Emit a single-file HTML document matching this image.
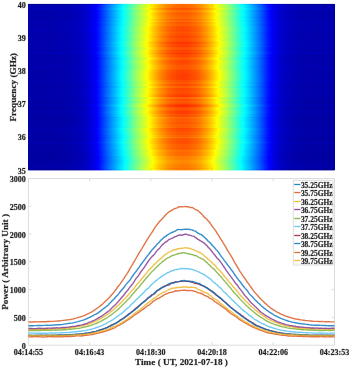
<!DOCTYPE html>
<html><head><meta charset="utf-8"><style>
html,body{margin:0;padding:0;background:#fff;width:350px;height:368px;overflow:hidden}
svg{display:block;will-change:transform}
text{font-family:"Liberation Serif",serif;font-weight:bold;fill:#1e1e1e;stroke:rgba(30,30,30,0.35);stroke-width:0.6px;paint-order:stroke fill}
.t{font-size:8.05px}
.lg{font-size:7.45px}
.lab{font-size:9.2px}
.ax{stroke:#dddddd;stroke-width:1;fill:none}
</style></head><body>
<svg width="350" height="368" viewBox="0 0 350 368">
<defs>
<linearGradient id="g0" gradientUnits="userSpaceOnUse" x1="28.4" x2="334.6" y1="0" y2="0"><stop offset="0.0000" stop-color="#000096"/><stop offset="0.0803" stop-color="#000096"/><stop offset="0.1391" stop-color="#00009c"/><stop offset="0.1750" stop-color="#0000aa"/><stop offset="0.2012" stop-color="#0000c4"/><stop offset="0.2273" stop-color="#0000f4"/><stop offset="0.2306" stop-color="#0000ff"/><stop offset="0.2534" stop-color="#0049ff"/><stop offset="0.2763" stop-color="#008fff"/><stop offset="0.2992" stop-color="#00d1ff"/><stop offset="0.3145" stop-color="#00ffff"/><stop offset="0.3187" stop-color="#0dfff2"/><stop offset="0.3416" stop-color="#56ffa9"/><stop offset="0.3612" stop-color="#92ff6d"/><stop offset="0.3873" stop-color="#d8ff27"/><stop offset="0.4005" stop-color="#ffff00"/><stop offset="0.4069" stop-color="#ffec00"/><stop offset="0.4265" stop-color="#ffbc00"/><stop offset="0.4396" stop-color="#ffa300"/><stop offset="0.4526" stop-color="#ff8d00"/><stop offset="0.4657" stop-color="#ff7e00"/><stop offset="0.4853" stop-color="#ff6f00"/><stop offset="0.5049" stop-color="#ff6a00"/><stop offset="0.5245" stop-color="#ff6f00"/><stop offset="0.5441" stop-color="#ff7e00"/><stop offset="0.5572" stop-color="#ff8d00"/><stop offset="0.5702" stop-color="#ffa300"/><stop offset="0.5833" stop-color="#ffbc00"/><stop offset="0.6029" stop-color="#ffec00"/><stop offset="0.6093" stop-color="#ffff00"/><stop offset="0.6225" stop-color="#d8ff27"/><stop offset="0.6486" stop-color="#92ff6d"/><stop offset="0.6682" stop-color="#56ffa9"/><stop offset="0.6911" stop-color="#0efff1"/><stop offset="0.6957" stop-color="#00ffff"/><stop offset="0.7106" stop-color="#00d3ff"/><stop offset="0.7335" stop-color="#0094ff"/><stop offset="0.7564" stop-color="#0051ff"/><stop offset="0.7824" stop-color="#0000ff"/><stop offset="0.7825" stop-color="#0000ff"/><stop offset="0.8086" stop-color="#0000c9"/><stop offset="0.8347" stop-color="#0000ad"/><stop offset="0.8707" stop-color="#00009d"/><stop offset="0.9295" stop-color="#000097"/><stop offset="1.0000" stop-color="#000096"/></linearGradient>
<linearGradient id="g1" gradientUnits="userSpaceOnUse" x1="28.4" x2="334.6" y1="0" y2="0"><stop offset="0.0000" stop-color="#0000b0"/><stop offset="0.0803" stop-color="#0000b0"/><stop offset="0.1391" stop-color="#0000b6"/><stop offset="0.1750" stop-color="#0000c4"/><stop offset="0.2012" stop-color="#0000dd"/><stop offset="0.2201" stop-color="#0000ff"/><stop offset="0.2273" stop-color="#000dff"/><stop offset="0.2534" stop-color="#005eff"/><stop offset="0.2763" stop-color="#00a2ff"/><stop offset="0.2992" stop-color="#00e2ff"/><stop offset="0.3090" stop-color="#00ffff"/><stop offset="0.3187" stop-color="#1dffe2"/><stop offset="0.3416" stop-color="#64ff9b"/><stop offset="0.3612" stop-color="#9fff60"/><stop offset="0.3873" stop-color="#e3ff1c"/><stop offset="0.3972" stop-color="#ffff00"/><stop offset="0.4069" stop-color="#ffe300"/><stop offset="0.4265" stop-color="#ffb500"/><stop offset="0.4396" stop-color="#ff9c00"/><stop offset="0.4526" stop-color="#ff8700"/><stop offset="0.4657" stop-color="#ff7800"/><stop offset="0.4853" stop-color="#ff6a00"/><stop offset="0.5049" stop-color="#ff6500"/><stop offset="0.5245" stop-color="#ff6a00"/><stop offset="0.5441" stop-color="#ff7800"/><stop offset="0.5572" stop-color="#ff8700"/><stop offset="0.5702" stop-color="#ff9c00"/><stop offset="0.5833" stop-color="#ffb500"/><stop offset="0.6029" stop-color="#ffe300"/><stop offset="0.6126" stop-color="#ffff00"/><stop offset="0.6225" stop-color="#e3ff1c"/><stop offset="0.6486" stop-color="#9fff60"/><stop offset="0.6682" stop-color="#64ff9b"/><stop offset="0.6911" stop-color="#1effe1"/><stop offset="0.7014" stop-color="#00ffff"/><stop offset="0.7106" stop-color="#00e5ff"/><stop offset="0.7335" stop-color="#00a7ff"/><stop offset="0.7564" stop-color="#0066ff"/><stop offset="0.7825" stop-color="#0017ff"/><stop offset="0.7940" stop-color="#0000ff"/><stop offset="0.8086" stop-color="#0000e2"/><stop offset="0.8347" stop-color="#0000c7"/><stop offset="0.8707" stop-color="#0000b7"/><stop offset="0.9295" stop-color="#0000b1"/><stop offset="1.0000" stop-color="#0000b0"/></linearGradient>
<linearGradient id="g2" gradientUnits="userSpaceOnUse" x1="28.4" x2="334.6" y1="0" y2="0"><stop offset="0.0000" stop-color="#0000b4"/><stop offset="0.0803" stop-color="#0000b5"/><stop offset="0.1391" stop-color="#0000ba"/><stop offset="0.1750" stop-color="#0000c8"/><stop offset="0.2012" stop-color="#0000e2"/><stop offset="0.2170" stop-color="#0000ff"/><stop offset="0.2273" stop-color="#0013ff"/><stop offset="0.2534" stop-color="#0066ff"/><stop offset="0.2763" stop-color="#00abff"/><stop offset="0.2992" stop-color="#00edff"/><stop offset="0.3053" stop-color="#00ffff"/><stop offset="0.3187" stop-color="#28ffd7"/><stop offset="0.3416" stop-color="#71ff8e"/><stop offset="0.3612" stop-color="#adff52"/><stop offset="0.3873" stop-color="#f2ff0d"/><stop offset="0.3916" stop-color="#ffff00"/><stop offset="0.4069" stop-color="#ffd200"/><stop offset="0.4265" stop-color="#ffa300"/><stop offset="0.4396" stop-color="#ff8a00"/><stop offset="0.4526" stop-color="#ff7400"/><stop offset="0.4657" stop-color="#ff6500"/><stop offset="0.4853" stop-color="#ff5600"/><stop offset="0.5049" stop-color="#ff5100"/><stop offset="0.5245" stop-color="#ff5600"/><stop offset="0.5441" stop-color="#ff6500"/><stop offset="0.5572" stop-color="#ff7400"/><stop offset="0.5702" stop-color="#ff8a00"/><stop offset="0.5833" stop-color="#ffa300"/><stop offset="0.6029" stop-color="#ffd200"/><stop offset="0.6182" stop-color="#ffff00"/><stop offset="0.6225" stop-color="#f2ff0d"/><stop offset="0.6486" stop-color="#adff52"/><stop offset="0.6682" stop-color="#71ff8e"/><stop offset="0.6911" stop-color="#29ffd6"/><stop offset="0.7052" stop-color="#00ffff"/><stop offset="0.7106" stop-color="#00efff"/><stop offset="0.7335" stop-color="#00b0ff"/><stop offset="0.7564" stop-color="#006eff"/><stop offset="0.7825" stop-color="#001dff"/><stop offset="0.7968" stop-color="#0000ff"/><stop offset="0.8086" stop-color="#0000e7"/><stop offset="0.8347" stop-color="#0000cb"/><stop offset="0.8707" stop-color="#0000bb"/><stop offset="0.9295" stop-color="#0000b5"/><stop offset="1.0000" stop-color="#0000b4"/></linearGradient>
<linearGradient id="g3" gradientUnits="userSpaceOnUse" x1="28.4" x2="334.6" y1="0" y2="0"><stop offset="0.0000" stop-color="#0000ab"/><stop offset="0.0803" stop-color="#0000ab"/><stop offset="0.1391" stop-color="#0000b1"/><stop offset="0.1750" stop-color="#0000bf"/><stop offset="0.2012" stop-color="#0000d8"/><stop offset="0.2229" stop-color="#0000ff"/><stop offset="0.2273" stop-color="#0008ff"/><stop offset="0.2534" stop-color="#0059ff"/><stop offset="0.2763" stop-color="#009dff"/><stop offset="0.2992" stop-color="#00ddff"/><stop offset="0.3106" stop-color="#00ffff"/><stop offset="0.3187" stop-color="#18ffe7"/><stop offset="0.3416" stop-color="#60ff9f"/><stop offset="0.3612" stop-color="#9aff65"/><stop offset="0.3873" stop-color="#deff21"/><stop offset="0.3988" stop-color="#ffff00"/><stop offset="0.4069" stop-color="#ffe800"/><stop offset="0.4265" stop-color="#ffb900"/><stop offset="0.4396" stop-color="#ffa100"/><stop offset="0.4526" stop-color="#ff8b00"/><stop offset="0.4657" stop-color="#ff7d00"/><stop offset="0.4853" stop-color="#ff6e00"/><stop offset="0.5049" stop-color="#ff6900"/><stop offset="0.5245" stop-color="#ff6e00"/><stop offset="0.5441" stop-color="#ff7d00"/><stop offset="0.5572" stop-color="#ff8b00"/><stop offset="0.5702" stop-color="#ffa100"/><stop offset="0.5833" stop-color="#ffb900"/><stop offset="0.6029" stop-color="#ffe800"/><stop offset="0.6110" stop-color="#ffff00"/><stop offset="0.6225" stop-color="#deff21"/><stop offset="0.6486" stop-color="#9aff65"/><stop offset="0.6682" stop-color="#60ff9f"/><stop offset="0.6911" stop-color="#19ffe6"/><stop offset="0.6998" stop-color="#00ffff"/><stop offset="0.7106" stop-color="#00e0ff"/><stop offset="0.7335" stop-color="#00a2ff"/><stop offset="0.7564" stop-color="#0061ff"/><stop offset="0.7825" stop-color="#0012ff"/><stop offset="0.7915" stop-color="#0000ff"/><stop offset="0.8086" stop-color="#0000dd"/><stop offset="0.8347" stop-color="#0000c1"/><stop offset="0.8707" stop-color="#0000b2"/><stop offset="0.9295" stop-color="#0000ac"/><stop offset="1.0000" stop-color="#0000ab"/></linearGradient>
<linearGradient id="g4" gradientUnits="userSpaceOnUse" x1="28.4" x2="334.6" y1="0" y2="0"><stop offset="0.0000" stop-color="#0000af"/><stop offset="0.0803" stop-color="#0000b0"/><stop offset="0.1391" stop-color="#0000b5"/><stop offset="0.1750" stop-color="#0000c3"/><stop offset="0.2012" stop-color="#0000dc"/><stop offset="0.2202" stop-color="#0000ff"/><stop offset="0.2273" stop-color="#000dff"/><stop offset="0.2534" stop-color="#005eff"/><stop offset="0.2763" stop-color="#00a3ff"/><stop offset="0.2992" stop-color="#00e3ff"/><stop offset="0.3085" stop-color="#00ffff"/><stop offset="0.3187" stop-color="#1effe1"/><stop offset="0.3416" stop-color="#66ff99"/><stop offset="0.3612" stop-color="#a1ff5e"/><stop offset="0.3873" stop-color="#e5ff1a"/><stop offset="0.3962" stop-color="#ffff00"/><stop offset="0.4069" stop-color="#ffe000"/><stop offset="0.4265" stop-color="#ffb100"/><stop offset="0.4396" stop-color="#ff9800"/><stop offset="0.4526" stop-color="#ff8300"/><stop offset="0.4657" stop-color="#ff7400"/><stop offset="0.4853" stop-color="#ff6600"/><stop offset="0.5049" stop-color="#ff6100"/><stop offset="0.5245" stop-color="#ff6600"/><stop offset="0.5441" stop-color="#ff7400"/><stop offset="0.5572" stop-color="#ff8300"/><stop offset="0.5702" stop-color="#ff9800"/><stop offset="0.5833" stop-color="#ffb100"/><stop offset="0.6029" stop-color="#ffe000"/><stop offset="0.6136" stop-color="#ffff00"/><stop offset="0.6225" stop-color="#e5ff1a"/><stop offset="0.6486" stop-color="#a1ff5e"/><stop offset="0.6682" stop-color="#66ff99"/><stop offset="0.6911" stop-color="#1fffe0"/><stop offset="0.7019" stop-color="#00ffff"/><stop offset="0.7106" stop-color="#00e6ff"/><stop offset="0.7335" stop-color="#00a8ff"/><stop offset="0.7564" stop-color="#0066ff"/><stop offset="0.7825" stop-color="#0017ff"/><stop offset="0.7939" stop-color="#0000ff"/><stop offset="0.8086" stop-color="#0000e1"/><stop offset="0.8347" stop-color="#0000c6"/><stop offset="0.8707" stop-color="#0000b6"/><stop offset="0.9295" stop-color="#0000b0"/><stop offset="1.0000" stop-color="#0000af"/></linearGradient>
<linearGradient id="g5" gradientUnits="userSpaceOnUse" x1="28.4" x2="334.6" y1="0" y2="0"><stop offset="0.0000" stop-color="#0000aa"/><stop offset="0.0803" stop-color="#0000ab"/><stop offset="0.1391" stop-color="#0000b0"/><stop offset="0.1750" stop-color="#0000bf"/><stop offset="0.2012" stop-color="#0000d8"/><stop offset="0.2221" stop-color="#0000ff"/><stop offset="0.2273" stop-color="#000aff"/><stop offset="0.2534" stop-color="#005cff"/><stop offset="0.2763" stop-color="#00a2ff"/><stop offset="0.2992" stop-color="#00e4ff"/><stop offset="0.3081" stop-color="#00ffff"/><stop offset="0.3187" stop-color="#20ffdf"/><stop offset="0.3416" stop-color="#6aff95"/><stop offset="0.3612" stop-color="#a5ff5a"/><stop offset="0.3873" stop-color="#ebff14"/><stop offset="0.3941" stop-color="#ffff00"/><stop offset="0.4069" stop-color="#ffd900"/><stop offset="0.4265" stop-color="#ffa900"/><stop offset="0.4396" stop-color="#ff9100"/><stop offset="0.4526" stop-color="#ff7b00"/><stop offset="0.4657" stop-color="#ff6c00"/><stop offset="0.4853" stop-color="#ff5d00"/><stop offset="0.5049" stop-color="#ff5800"/><stop offset="0.5245" stop-color="#ff5d00"/><stop offset="0.5441" stop-color="#ff6c00"/><stop offset="0.5572" stop-color="#ff7b00"/><stop offset="0.5702" stop-color="#ff9100"/><stop offset="0.5833" stop-color="#ffa900"/><stop offset="0.6029" stop-color="#ffd900"/><stop offset="0.6157" stop-color="#ffff00"/><stop offset="0.6225" stop-color="#ebff14"/><stop offset="0.6486" stop-color="#a5ff5a"/><stop offset="0.6682" stop-color="#6aff95"/><stop offset="0.6911" stop-color="#21ffde"/><stop offset="0.7024" stop-color="#00ffff"/><stop offset="0.7106" stop-color="#00e7ff"/><stop offset="0.7335" stop-color="#00a7ff"/><stop offset="0.7564" stop-color="#0065ff"/><stop offset="0.7825" stop-color="#0014ff"/><stop offset="0.7922" stop-color="#0000ff"/><stop offset="0.8086" stop-color="#0000dd"/><stop offset="0.8347" stop-color="#0000c1"/><stop offset="0.8707" stop-color="#0000b1"/><stop offset="0.9295" stop-color="#0000ab"/><stop offset="1.0000" stop-color="#0000aa"/></linearGradient>
<linearGradient id="g6" gradientUnits="userSpaceOnUse" x1="28.4" x2="334.6" y1="0" y2="0"><stop offset="0.0000" stop-color="#0000ad"/><stop offset="0.0803" stop-color="#0000ad"/><stop offset="0.1391" stop-color="#0000b2"/><stop offset="0.1750" stop-color="#0000c1"/><stop offset="0.2012" stop-color="#0000da"/><stop offset="0.2214" stop-color="#0000ff"/><stop offset="0.2273" stop-color="#000bff"/><stop offset="0.2534" stop-color="#005dff"/><stop offset="0.2763" stop-color="#00a2ff"/><stop offset="0.2992" stop-color="#00e3ff"/><stop offset="0.3087" stop-color="#00ffff"/><stop offset="0.3187" stop-color="#1effe1"/><stop offset="0.3416" stop-color="#66ff99"/><stop offset="0.3612" stop-color="#a1ff5e"/><stop offset="0.3873" stop-color="#e6ff19"/><stop offset="0.3959" stop-color="#ffff00"/><stop offset="0.4069" stop-color="#ffdf00"/><stop offset="0.4265" stop-color="#ffb000"/><stop offset="0.4396" stop-color="#ff9700"/><stop offset="0.4526" stop-color="#ff8200"/><stop offset="0.4657" stop-color="#ff7300"/><stop offset="0.4853" stop-color="#ff6400"/><stop offset="0.5049" stop-color="#ff5f00"/><stop offset="0.5245" stop-color="#ff6400"/><stop offset="0.5441" stop-color="#ff7300"/><stop offset="0.5572" stop-color="#ff8200"/><stop offset="0.5702" stop-color="#ff9700"/><stop offset="0.5833" stop-color="#ffb000"/><stop offset="0.6029" stop-color="#ffdf00"/><stop offset="0.6139" stop-color="#ffff00"/><stop offset="0.6225" stop-color="#e6ff19"/><stop offset="0.6486" stop-color="#a1ff5e"/><stop offset="0.6682" stop-color="#66ff99"/><stop offset="0.6911" stop-color="#1fffe0"/><stop offset="0.7017" stop-color="#00ffff"/><stop offset="0.7106" stop-color="#00e5ff"/><stop offset="0.7335" stop-color="#00a7ff"/><stop offset="0.7564" stop-color="#0065ff"/><stop offset="0.7825" stop-color="#0015ff"/><stop offset="0.7929" stop-color="#0000ff"/><stop offset="0.8086" stop-color="#0000df"/><stop offset="0.8347" stop-color="#0000c4"/><stop offset="0.8707" stop-color="#0000b4"/><stop offset="0.9295" stop-color="#0000ad"/><stop offset="1.0000" stop-color="#0000ad"/></linearGradient>
<linearGradient id="g7" gradientUnits="userSpaceOnUse" x1="28.4" x2="334.6" y1="0" y2="0"><stop offset="0.0000" stop-color="#0000ab"/><stop offset="0.0803" stop-color="#0000ab"/><stop offset="0.1391" stop-color="#0000b1"/><stop offset="0.1750" stop-color="#0000bf"/><stop offset="0.2012" stop-color="#0000d8"/><stop offset="0.2225" stop-color="#0000ff"/><stop offset="0.2273" stop-color="#0009ff"/><stop offset="0.2534" stop-color="#005aff"/><stop offset="0.2763" stop-color="#009fff"/><stop offset="0.2992" stop-color="#00e0ff"/><stop offset="0.3096" stop-color="#00ffff"/><stop offset="0.3187" stop-color="#1bffe4"/><stop offset="0.3416" stop-color="#63ff9c"/><stop offset="0.3612" stop-color="#9eff61"/><stop offset="0.3873" stop-color="#e3ff1c"/><stop offset="0.3970" stop-color="#ffff00"/><stop offset="0.4069" stop-color="#ffe200"/><stop offset="0.4265" stop-color="#ffb300"/><stop offset="0.4396" stop-color="#ff9b00"/><stop offset="0.4526" stop-color="#ff8500"/><stop offset="0.4657" stop-color="#ff7600"/><stop offset="0.4853" stop-color="#ff6800"/><stop offset="0.5049" stop-color="#ff6300"/><stop offset="0.5245" stop-color="#ff6800"/><stop offset="0.5441" stop-color="#ff7600"/><stop offset="0.5572" stop-color="#ff8500"/><stop offset="0.5702" stop-color="#ff9b00"/><stop offset="0.5833" stop-color="#ffb300"/><stop offset="0.6029" stop-color="#ffe200"/><stop offset="0.6128" stop-color="#ffff00"/><stop offset="0.6225" stop-color="#e3ff1c"/><stop offset="0.6486" stop-color="#9eff61"/><stop offset="0.6682" stop-color="#63ff9c"/><stop offset="0.6911" stop-color="#1cffe3"/><stop offset="0.7008" stop-color="#00ffff"/><stop offset="0.7106" stop-color="#00e3ff"/><stop offset="0.7335" stop-color="#00a4ff"/><stop offset="0.7564" stop-color="#0062ff"/><stop offset="0.7825" stop-color="#0013ff"/><stop offset="0.7919" stop-color="#0000ff"/><stop offset="0.8086" stop-color="#0000dd"/><stop offset="0.8347" stop-color="#0000c2"/><stop offset="0.8707" stop-color="#0000b2"/><stop offset="0.9295" stop-color="#0000ac"/><stop offset="1.0000" stop-color="#0000ab"/></linearGradient>
<linearGradient id="g8" gradientUnits="userSpaceOnUse" x1="28.4" x2="334.6" y1="0" y2="0"><stop offset="0.0000" stop-color="#0000aa"/><stop offset="0.0803" stop-color="#0000ab"/><stop offset="0.1391" stop-color="#0000b0"/><stop offset="0.1750" stop-color="#0000be"/><stop offset="0.2012" stop-color="#0000d7"/><stop offset="0.2232" stop-color="#0000ff"/><stop offset="0.2273" stop-color="#0007ff"/><stop offset="0.2534" stop-color="#0059ff"/><stop offset="0.2763" stop-color="#009dff"/><stop offset="0.2992" stop-color="#00ddff"/><stop offset="0.3107" stop-color="#00ffff"/><stop offset="0.3187" stop-color="#18ffe7"/><stop offset="0.3416" stop-color="#5fffa0"/><stop offset="0.3612" stop-color="#9aff65"/><stop offset="0.3873" stop-color="#deff21"/><stop offset="0.3988" stop-color="#ffff00"/><stop offset="0.4069" stop-color="#ffe800"/><stop offset="0.4265" stop-color="#ffb900"/><stop offset="0.4396" stop-color="#ffa000"/><stop offset="0.4526" stop-color="#ff8b00"/><stop offset="0.4657" stop-color="#ff7c00"/><stop offset="0.4853" stop-color="#ff6e00"/><stop offset="0.5049" stop-color="#ff6900"/><stop offset="0.5245" stop-color="#ff6e00"/><stop offset="0.5441" stop-color="#ff7c00"/><stop offset="0.5572" stop-color="#ff8b00"/><stop offset="0.5702" stop-color="#ffa000"/><stop offset="0.5833" stop-color="#ffb900"/><stop offset="0.6029" stop-color="#ffe800"/><stop offset="0.6110" stop-color="#ffff00"/><stop offset="0.6225" stop-color="#deff21"/><stop offset="0.6486" stop-color="#9aff65"/><stop offset="0.6682" stop-color="#5fffa0"/><stop offset="0.6911" stop-color="#19ffe6"/><stop offset="0.6997" stop-color="#00ffff"/><stop offset="0.7106" stop-color="#00e0ff"/><stop offset="0.7335" stop-color="#00a2ff"/><stop offset="0.7564" stop-color="#0060ff"/><stop offset="0.7825" stop-color="#0012ff"/><stop offset="0.7912" stop-color="#0000ff"/><stop offset="0.8086" stop-color="#0000dc"/><stop offset="0.8347" stop-color="#0000c1"/><stop offset="0.8707" stop-color="#0000b1"/><stop offset="0.9295" stop-color="#0000ab"/><stop offset="1.0000" stop-color="#0000aa"/></linearGradient>
<linearGradient id="g9" gradientUnits="userSpaceOnUse" x1="28.4" x2="334.6" y1="0" y2="0"><stop offset="0.0000" stop-color="#0000af"/><stop offset="0.0803" stop-color="#0000af"/><stop offset="0.1391" stop-color="#0000b5"/><stop offset="0.1750" stop-color="#0000c3"/><stop offset="0.2012" stop-color="#0000dd"/><stop offset="0.2194" stop-color="#0000ff"/><stop offset="0.2273" stop-color="#000fff"/><stop offset="0.2534" stop-color="#0062ff"/><stop offset="0.2763" stop-color="#00a8ff"/><stop offset="0.2992" stop-color="#00eaff"/><stop offset="0.3061" stop-color="#00ffff"/><stop offset="0.3187" stop-color="#26ffd9"/><stop offset="0.3416" stop-color="#70ff8f"/><stop offset="0.3612" stop-color="#acff53"/><stop offset="0.3873" stop-color="#f2ff0d"/><stop offset="0.3917" stop-color="#ffff00"/><stop offset="0.4069" stop-color="#ffd200"/><stop offset="0.4265" stop-color="#ffa200"/><stop offset="0.4396" stop-color="#ff8900"/><stop offset="0.4526" stop-color="#ff7300"/><stop offset="0.4657" stop-color="#ff6400"/><stop offset="0.4853" stop-color="#ff5500"/><stop offset="0.5049" stop-color="#ff5000"/><stop offset="0.5245" stop-color="#ff5500"/><stop offset="0.5441" stop-color="#ff6400"/><stop offset="0.5572" stop-color="#ff7300"/><stop offset="0.5702" stop-color="#ff8900"/><stop offset="0.5833" stop-color="#ffa200"/><stop offset="0.6029" stop-color="#ffd200"/><stop offset="0.6181" stop-color="#ffff00"/><stop offset="0.6225" stop-color="#f2ff0d"/><stop offset="0.6486" stop-color="#acff53"/><stop offset="0.6682" stop-color="#70ff8f"/><stop offset="0.6911" stop-color="#27ffd8"/><stop offset="0.7044" stop-color="#00ffff"/><stop offset="0.7106" stop-color="#00edff"/><stop offset="0.7335" stop-color="#00adff"/><stop offset="0.7564" stop-color="#006aff"/><stop offset="0.7825" stop-color="#0019ff"/><stop offset="0.7946" stop-color="#0000ff"/><stop offset="0.8086" stop-color="#0000e2"/><stop offset="0.8347" stop-color="#0000c6"/><stop offset="0.8707" stop-color="#0000b6"/><stop offset="0.9295" stop-color="#0000b0"/><stop offset="1.0000" stop-color="#0000af"/></linearGradient>
<linearGradient id="g10" gradientUnits="userSpaceOnUse" x1="28.4" x2="334.6" y1="0" y2="0"><stop offset="0.0000" stop-color="#0000ab"/><stop offset="0.0803" stop-color="#0000ab"/><stop offset="0.1391" stop-color="#0000b1"/><stop offset="0.1750" stop-color="#0000bf"/><stop offset="0.2012" stop-color="#0000d8"/><stop offset="0.2224" stop-color="#0000ff"/><stop offset="0.2273" stop-color="#0009ff"/><stop offset="0.2534" stop-color="#005aff"/><stop offset="0.2763" stop-color="#009fff"/><stop offset="0.2992" stop-color="#00e0ff"/><stop offset="0.3096" stop-color="#00ffff"/><stop offset="0.3187" stop-color="#1bffe4"/><stop offset="0.3416" stop-color="#63ff9c"/><stop offset="0.3612" stop-color="#9eff61"/><stop offset="0.3873" stop-color="#e3ff1c"/><stop offset="0.3971" stop-color="#ffff00"/><stop offset="0.4069" stop-color="#ffe300"/><stop offset="0.4265" stop-color="#ffb400"/><stop offset="0.4396" stop-color="#ff9b00"/><stop offset="0.4526" stop-color="#ff8600"/><stop offset="0.4657" stop-color="#ff7700"/><stop offset="0.4853" stop-color="#ff6800"/><stop offset="0.5049" stop-color="#ff6300"/><stop offset="0.5245" stop-color="#ff6800"/><stop offset="0.5441" stop-color="#ff7700"/><stop offset="0.5572" stop-color="#ff8600"/><stop offset="0.5702" stop-color="#ff9b00"/><stop offset="0.5833" stop-color="#ffb400"/><stop offset="0.6029" stop-color="#ffe300"/><stop offset="0.6127" stop-color="#ffff00"/><stop offset="0.6225" stop-color="#e3ff1c"/><stop offset="0.6486" stop-color="#9eff61"/><stop offset="0.6682" stop-color="#63ff9c"/><stop offset="0.6911" stop-color="#1cffe3"/><stop offset="0.7007" stop-color="#00ffff"/><stop offset="0.7106" stop-color="#00e2ff"/><stop offset="0.7335" stop-color="#00a4ff"/><stop offset="0.7564" stop-color="#0062ff"/><stop offset="0.7825" stop-color="#0013ff"/><stop offset="0.7919" stop-color="#0000ff"/><stop offset="0.8086" stop-color="#0000dd"/><stop offset="0.8347" stop-color="#0000c2"/><stop offset="0.8707" stop-color="#0000b2"/><stop offset="0.9295" stop-color="#0000ac"/><stop offset="1.0000" stop-color="#0000ab"/></linearGradient>
<linearGradient id="g11" gradientUnits="userSpaceOnUse" x1="28.4" x2="334.6" y1="0" y2="0"><stop offset="0.0000" stop-color="#0000b0"/><stop offset="0.0803" stop-color="#0000b1"/><stop offset="0.1391" stop-color="#0000b6"/><stop offset="0.1750" stop-color="#0000c4"/><stop offset="0.2012" stop-color="#0000dd"/><stop offset="0.2201" stop-color="#0000ff"/><stop offset="0.2273" stop-color="#000dff"/><stop offset="0.2534" stop-color="#005eff"/><stop offset="0.2763" stop-color="#00a2ff"/><stop offset="0.2992" stop-color="#00e2ff"/><stop offset="0.3092" stop-color="#00ffff"/><stop offset="0.3187" stop-color="#1cffe3"/><stop offset="0.3416" stop-color="#63ff9c"/><stop offset="0.3612" stop-color="#9dff62"/><stop offset="0.3873" stop-color="#e1ff1e"/><stop offset="0.3977" stop-color="#ffff00"/><stop offset="0.4069" stop-color="#ffe500"/><stop offset="0.4265" stop-color="#ffb600"/><stop offset="0.4396" stop-color="#ff9e00"/><stop offset="0.4526" stop-color="#ff8900"/><stop offset="0.4657" stop-color="#ff7a00"/><stop offset="0.4853" stop-color="#ff6b00"/><stop offset="0.5049" stop-color="#ff6700"/><stop offset="0.5245" stop-color="#ff6b00"/><stop offset="0.5441" stop-color="#ff7a00"/><stop offset="0.5572" stop-color="#ff8900"/><stop offset="0.5702" stop-color="#ff9e00"/><stop offset="0.5833" stop-color="#ffb600"/><stop offset="0.6029" stop-color="#ffe500"/><stop offset="0.6121" stop-color="#ffff00"/><stop offset="0.6225" stop-color="#e1ff1e"/><stop offset="0.6486" stop-color="#9dff62"/><stop offset="0.6682" stop-color="#63ff9c"/><stop offset="0.6911" stop-color="#1dffe2"/><stop offset="0.7012" stop-color="#00ffff"/><stop offset="0.7106" stop-color="#00e4ff"/><stop offset="0.7335" stop-color="#00a6ff"/><stop offset="0.7564" stop-color="#0065ff"/><stop offset="0.7825" stop-color="#0017ff"/><stop offset="0.7940" stop-color="#0000ff"/><stop offset="0.8086" stop-color="#0000e2"/><stop offset="0.8347" stop-color="#0000c7"/><stop offset="0.8707" stop-color="#0000b7"/><stop offset="0.9295" stop-color="#0000b1"/><stop offset="1.0000" stop-color="#0000b0"/></linearGradient>
<linearGradient id="g12" gradientUnits="userSpaceOnUse" x1="28.4" x2="334.6" y1="0" y2="0"><stop offset="0.0000" stop-color="#0000b1"/><stop offset="0.0803" stop-color="#0000b1"/><stop offset="0.1391" stop-color="#0000b6"/><stop offset="0.1750" stop-color="#0000c5"/><stop offset="0.2012" stop-color="#0000de"/><stop offset="0.2189" stop-color="#0000ff"/><stop offset="0.2273" stop-color="#0010ff"/><stop offset="0.2534" stop-color="#0062ff"/><stop offset="0.2763" stop-color="#00a8ff"/><stop offset="0.2992" stop-color="#00e9ff"/><stop offset="0.3063" stop-color="#00ffff"/><stop offset="0.3187" stop-color="#25ffda"/><stop offset="0.3416" stop-color="#6eff91"/><stop offset="0.3612" stop-color="#aaff55"/><stop offset="0.3873" stop-color="#efff10"/><stop offset="0.3926" stop-color="#ffff00"/><stop offset="0.4069" stop-color="#ffd500"/><stop offset="0.4265" stop-color="#ffa500"/><stop offset="0.4396" stop-color="#ff8c00"/><stop offset="0.4526" stop-color="#ff7700"/><stop offset="0.4657" stop-color="#ff6800"/><stop offset="0.4853" stop-color="#ff5900"/><stop offset="0.5049" stop-color="#ff5400"/><stop offset="0.5245" stop-color="#ff5900"/><stop offset="0.5441" stop-color="#ff6800"/><stop offset="0.5572" stop-color="#ff7700"/><stop offset="0.5702" stop-color="#ff8c00"/><stop offset="0.5833" stop-color="#ffa500"/><stop offset="0.6029" stop-color="#ffd500"/><stop offset="0.6172" stop-color="#ffff00"/><stop offset="0.6225" stop-color="#efff10"/><stop offset="0.6486" stop-color="#aaff55"/><stop offset="0.6682" stop-color="#6eff91"/><stop offset="0.6911" stop-color="#26ffd9"/><stop offset="0.7041" stop-color="#00ffff"/><stop offset="0.7106" stop-color="#00ecff"/><stop offset="0.7335" stop-color="#00adff"/><stop offset="0.7564" stop-color="#006aff"/><stop offset="0.7825" stop-color="#001aff"/><stop offset="0.7951" stop-color="#0000ff"/><stop offset="0.8086" stop-color="#0000e3"/><stop offset="0.8347" stop-color="#0000c8"/><stop offset="0.8707" stop-color="#0000b7"/><stop offset="0.9295" stop-color="#0000b1"/><stop offset="1.0000" stop-color="#0000b1"/></linearGradient>
<linearGradient id="g13" gradientUnits="userSpaceOnUse" x1="28.4" x2="334.6" y1="0" y2="0"><stop offset="0.0000" stop-color="#0000ab"/><stop offset="0.0803" stop-color="#0000ab"/><stop offset="0.1391" stop-color="#0000b1"/><stop offset="0.1750" stop-color="#0000bf"/><stop offset="0.2012" stop-color="#0000d9"/><stop offset="0.2220" stop-color="#0000ff"/><stop offset="0.2273" stop-color="#000aff"/><stop offset="0.2534" stop-color="#005cff"/><stop offset="0.2763" stop-color="#00a2ff"/><stop offset="0.2992" stop-color="#00e3ff"/><stop offset="0.3083" stop-color="#00ffff"/><stop offset="0.3187" stop-color="#1fffe0"/><stop offset="0.3416" stop-color="#68ff97"/><stop offset="0.3612" stop-color="#a4ff5b"/><stop offset="0.3873" stop-color="#e9ff16"/><stop offset="0.3948" stop-color="#ffff00"/><stop offset="0.4069" stop-color="#ffdb00"/><stop offset="0.4265" stop-color="#ffac00"/><stop offset="0.4396" stop-color="#ff9300"/><stop offset="0.4526" stop-color="#ff7d00"/><stop offset="0.4657" stop-color="#ff6e00"/><stop offset="0.4853" stop-color="#ff6000"/><stop offset="0.5049" stop-color="#ff5b00"/><stop offset="0.5245" stop-color="#ff6000"/><stop offset="0.5441" stop-color="#ff6e00"/><stop offset="0.5572" stop-color="#ff7d00"/><stop offset="0.5702" stop-color="#ff9300"/><stop offset="0.5833" stop-color="#ffac00"/><stop offset="0.6029" stop-color="#ffdb00"/><stop offset="0.6150" stop-color="#ffff00"/><stop offset="0.6225" stop-color="#e9ff16"/><stop offset="0.6486" stop-color="#a4ff5b"/><stop offset="0.6682" stop-color="#68ff97"/><stop offset="0.6911" stop-color="#20ffdf"/><stop offset="0.7021" stop-color="#00ffff"/><stop offset="0.7106" stop-color="#00e6ff"/><stop offset="0.7335" stop-color="#00a7ff"/><stop offset="0.7564" stop-color="#0064ff"/><stop offset="0.7825" stop-color="#0014ff"/><stop offset="0.7923" stop-color="#0000ff"/><stop offset="0.8086" stop-color="#0000de"/><stop offset="0.8347" stop-color="#0000c2"/><stop offset="0.8707" stop-color="#0000b2"/><stop offset="0.9295" stop-color="#0000ac"/><stop offset="1.0000" stop-color="#0000ab"/></linearGradient>
<linearGradient id="g14" gradientUnits="userSpaceOnUse" x1="28.4" x2="334.6" y1="0" y2="0"><stop offset="0.0000" stop-color="#0000b0"/><stop offset="0.0803" stop-color="#0000b0"/><stop offset="0.1391" stop-color="#0000b6"/><stop offset="0.1750" stop-color="#0000c4"/><stop offset="0.2012" stop-color="#0000dd"/><stop offset="0.2196" stop-color="#0000ff"/><stop offset="0.2273" stop-color="#000eff"/><stop offset="0.2534" stop-color="#0060ff"/><stop offset="0.2763" stop-color="#00a5ff"/><stop offset="0.2992" stop-color="#00e6ff"/><stop offset="0.3075" stop-color="#00ffff"/><stop offset="0.3187" stop-color="#22ffdd"/><stop offset="0.3416" stop-color="#6aff95"/><stop offset="0.3612" stop-color="#a5ff5a"/><stop offset="0.3873" stop-color="#eaff15"/><stop offset="0.3945" stop-color="#ffff00"/><stop offset="0.4069" stop-color="#ffdb00"/><stop offset="0.4265" stop-color="#ffac00"/><stop offset="0.4396" stop-color="#ff9300"/><stop offset="0.4526" stop-color="#ff7d00"/><stop offset="0.4657" stop-color="#ff6f00"/><stop offset="0.4853" stop-color="#ff6000"/><stop offset="0.5049" stop-color="#ff5b00"/><stop offset="0.5245" stop-color="#ff6000"/><stop offset="0.5441" stop-color="#ff6f00"/><stop offset="0.5572" stop-color="#ff7d00"/><stop offset="0.5702" stop-color="#ff9300"/><stop offset="0.5833" stop-color="#ffac00"/><stop offset="0.6029" stop-color="#ffdb00"/><stop offset="0.6152" stop-color="#ffff00"/><stop offset="0.6225" stop-color="#eaff15"/><stop offset="0.6486" stop-color="#a5ff5a"/><stop offset="0.6682" stop-color="#6aff95"/><stop offset="0.6911" stop-color="#22ffdd"/><stop offset="0.7029" stop-color="#00ffff"/><stop offset="0.7106" stop-color="#00e9ff"/><stop offset="0.7335" stop-color="#00aaff"/><stop offset="0.7564" stop-color="#0068ff"/><stop offset="0.7825" stop-color="#0018ff"/><stop offset="0.7945" stop-color="#0000ff"/><stop offset="0.8086" stop-color="#0000e2"/><stop offset="0.8347" stop-color="#0000c7"/><stop offset="0.8707" stop-color="#0000b7"/><stop offset="0.9295" stop-color="#0000b1"/><stop offset="1.0000" stop-color="#0000b0"/></linearGradient>
<linearGradient id="g15" gradientUnits="userSpaceOnUse" x1="28.4" x2="334.6" y1="0" y2="0"><stop offset="0.0000" stop-color="#0000af"/><stop offset="0.0803" stop-color="#0000af"/><stop offset="0.1391" stop-color="#0000b5"/><stop offset="0.1750" stop-color="#0000c3"/><stop offset="0.2012" stop-color="#0000dd"/><stop offset="0.2192" stop-color="#0000ff"/><stop offset="0.2273" stop-color="#000fff"/><stop offset="0.2534" stop-color="#0063ff"/><stop offset="0.2763" stop-color="#00aaff"/><stop offset="0.2992" stop-color="#00ecff"/><stop offset="0.3052" stop-color="#00ffff"/><stop offset="0.3187" stop-color="#29ffd6"/><stop offset="0.3416" stop-color="#73ff8c"/><stop offset="0.3612" stop-color="#b0ff4f"/><stop offset="0.3873" stop-color="#f6ff09"/><stop offset="0.3902" stop-color="#ffff00"/><stop offset="0.4069" stop-color="#ffcd00"/><stop offset="0.4265" stop-color="#ff9d00"/><stop offset="0.4396" stop-color="#ff8400"/><stop offset="0.4526" stop-color="#ff6d00"/><stop offset="0.4657" stop-color="#ff5e00"/><stop offset="0.4853" stop-color="#ff4f00"/><stop offset="0.5049" stop-color="#ff4a00"/><stop offset="0.5245" stop-color="#ff4f00"/><stop offset="0.5441" stop-color="#ff5e00"/><stop offset="0.5572" stop-color="#ff6d00"/><stop offset="0.5702" stop-color="#ff8400"/><stop offset="0.5833" stop-color="#ff9d00"/><stop offset="0.6029" stop-color="#ffcd00"/><stop offset="0.6196" stop-color="#ffff00"/><stop offset="0.6225" stop-color="#f6ff09"/><stop offset="0.6486" stop-color="#b0ff4f"/><stop offset="0.6682" stop-color="#73ff8c"/><stop offset="0.6911" stop-color="#2affd5"/><stop offset="0.7053" stop-color="#00ffff"/><stop offset="0.7106" stop-color="#00efff"/><stop offset="0.7335" stop-color="#00afff"/><stop offset="0.7564" stop-color="#006bff"/><stop offset="0.7825" stop-color="#001aff"/><stop offset="0.7948" stop-color="#0000ff"/><stop offset="0.8086" stop-color="#0000e2"/><stop offset="0.8347" stop-color="#0000c6"/><stop offset="0.8707" stop-color="#0000b6"/><stop offset="0.9295" stop-color="#0000af"/><stop offset="1.0000" stop-color="#0000af"/></linearGradient>
<linearGradient id="g16" gradientUnits="userSpaceOnUse" x1="28.4" x2="334.6" y1="0" y2="0"><stop offset="0.0000" stop-color="#0000b0"/><stop offset="0.0803" stop-color="#0000b0"/><stop offset="0.1391" stop-color="#0000b6"/><stop offset="0.1750" stop-color="#0000c5"/><stop offset="0.2012" stop-color="#0000de"/><stop offset="0.2185" stop-color="#0000ff"/><stop offset="0.2273" stop-color="#0010ff"/><stop offset="0.2534" stop-color="#0064ff"/><stop offset="0.2763" stop-color="#00abff"/><stop offset="0.2992" stop-color="#00eeff"/><stop offset="0.3048" stop-color="#00ffff"/><stop offset="0.3187" stop-color="#2bffd4"/><stop offset="0.3416" stop-color="#75ff8a"/><stop offset="0.3612" stop-color="#b1ff4e"/><stop offset="0.3873" stop-color="#f8ff07"/><stop offset="0.3897" stop-color="#ffff00"/><stop offset="0.4069" stop-color="#ffcc00"/><stop offset="0.4265" stop-color="#ff9b00"/><stop offset="0.4396" stop-color="#ff8200"/><stop offset="0.4526" stop-color="#ff6c00"/><stop offset="0.4657" stop-color="#ff5d00"/><stop offset="0.4853" stop-color="#ff4e00"/><stop offset="0.5049" stop-color="#ff4900"/><stop offset="0.5245" stop-color="#ff4e00"/><stop offset="0.5441" stop-color="#ff5d00"/><stop offset="0.5572" stop-color="#ff6c00"/><stop offset="0.5702" stop-color="#ff8200"/><stop offset="0.5833" stop-color="#ff9b00"/><stop offset="0.6029" stop-color="#ffcc00"/><stop offset="0.6201" stop-color="#ffff00"/><stop offset="0.6225" stop-color="#f8ff07"/><stop offset="0.6486" stop-color="#b1ff4e"/><stop offset="0.6682" stop-color="#75ff8a"/><stop offset="0.6911" stop-color="#2bffd4"/><stop offset="0.7057" stop-color="#00ffff"/><stop offset="0.7106" stop-color="#00f0ff"/><stop offset="0.7335" stop-color="#00b0ff"/><stop offset="0.7564" stop-color="#006cff"/><stop offset="0.7825" stop-color="#001bff"/><stop offset="0.7954" stop-color="#0000ff"/><stop offset="0.8086" stop-color="#0000e3"/><stop offset="0.8347" stop-color="#0000c7"/><stop offset="0.8707" stop-color="#0000b7"/><stop offset="0.9295" stop-color="#0000b1"/><stop offset="1.0000" stop-color="#0000b0"/></linearGradient>
<linearGradient id="g17" gradientUnits="userSpaceOnUse" x1="28.4" x2="334.6" y1="0" y2="0"><stop offset="0.0000" stop-color="#0000ad"/><stop offset="0.0803" stop-color="#0000ad"/><stop offset="0.1391" stop-color="#0000b3"/><stop offset="0.1750" stop-color="#0000c1"/><stop offset="0.2012" stop-color="#0000db"/><stop offset="0.2206" stop-color="#0000ff"/><stop offset="0.2273" stop-color="#000dff"/><stop offset="0.2534" stop-color="#0060ff"/><stop offset="0.2763" stop-color="#00a6ff"/><stop offset="0.2992" stop-color="#00e8ff"/><stop offset="0.3066" stop-color="#00ffff"/><stop offset="0.3187" stop-color="#25ffda"/><stop offset="0.3416" stop-color="#6eff91"/><stop offset="0.3612" stop-color="#abff54"/><stop offset="0.3873" stop-color="#f1ff0e"/><stop offset="0.3922" stop-color="#ffff00"/><stop offset="0.4069" stop-color="#ffd300"/><stop offset="0.4265" stop-color="#ffa300"/><stop offset="0.4396" stop-color="#ff8a00"/><stop offset="0.4526" stop-color="#ff7400"/><stop offset="0.4657" stop-color="#ff6500"/><stop offset="0.4853" stop-color="#ff5600"/><stop offset="0.5049" stop-color="#ff5100"/><stop offset="0.5245" stop-color="#ff5600"/><stop offset="0.5441" stop-color="#ff6500"/><stop offset="0.5572" stop-color="#ff7400"/><stop offset="0.5702" stop-color="#ff8a00"/><stop offset="0.5833" stop-color="#ffa300"/><stop offset="0.6029" stop-color="#ffd300"/><stop offset="0.6176" stop-color="#ffff00"/><stop offset="0.6225" stop-color="#f1ff0e"/><stop offset="0.6486" stop-color="#abff54"/><stop offset="0.6682" stop-color="#6eff91"/><stop offset="0.6911" stop-color="#26ffd9"/><stop offset="0.7038" stop-color="#00ffff"/><stop offset="0.7106" stop-color="#00ebff"/><stop offset="0.7335" stop-color="#00abff"/><stop offset="0.7564" stop-color="#0068ff"/><stop offset="0.7825" stop-color="#0017ff"/><stop offset="0.7936" stop-color="#0000ff"/><stop offset="0.8086" stop-color="#0000e0"/><stop offset="0.8347" stop-color="#0000c4"/><stop offset="0.8707" stop-color="#0000b4"/><stop offset="0.9295" stop-color="#0000ad"/><stop offset="1.0000" stop-color="#0000ad"/></linearGradient>
<linearGradient id="g18" gradientUnits="userSpaceOnUse" x1="28.4" x2="334.6" y1="0" y2="0"><stop offset="0.0000" stop-color="#0000ab"/><stop offset="0.0803" stop-color="#0000ab"/><stop offset="0.1391" stop-color="#0000b1"/><stop offset="0.1750" stop-color="#0000bf"/><stop offset="0.2012" stop-color="#0000d9"/><stop offset="0.2211" stop-color="#0000ff"/><stop offset="0.2273" stop-color="#000cff"/><stop offset="0.2534" stop-color="#0060ff"/><stop offset="0.2763" stop-color="#00a7ff"/><stop offset="0.2992" stop-color="#00eaff"/><stop offset="0.3059" stop-color="#00ffff"/><stop offset="0.3187" stop-color="#27ffd8"/><stop offset="0.3416" stop-color="#72ff8d"/><stop offset="0.3612" stop-color="#afff50"/><stop offset="0.3873" stop-color="#f6ff09"/><stop offset="0.3904" stop-color="#ffff00"/><stop offset="0.4069" stop-color="#ffcd00"/><stop offset="0.4265" stop-color="#ff9d00"/><stop offset="0.4396" stop-color="#ff8300"/><stop offset="0.4526" stop-color="#ff6d00"/><stop offset="0.4657" stop-color="#ff5e00"/><stop offset="0.4853" stop-color="#ff4f00"/><stop offset="0.5049" stop-color="#ff4a00"/><stop offset="0.5245" stop-color="#ff4f00"/><stop offset="0.5441" stop-color="#ff5e00"/><stop offset="0.5572" stop-color="#ff6d00"/><stop offset="0.5702" stop-color="#ff8300"/><stop offset="0.5833" stop-color="#ff9d00"/><stop offset="0.6029" stop-color="#ffcd00"/><stop offset="0.6194" stop-color="#ffff00"/><stop offset="0.6225" stop-color="#f6ff09"/><stop offset="0.6486" stop-color="#afff50"/><stop offset="0.6682" stop-color="#72ff8d"/><stop offset="0.6911" stop-color="#28ffd7"/><stop offset="0.7046" stop-color="#00ffff"/><stop offset="0.7106" stop-color="#00edff"/><stop offset="0.7335" stop-color="#00acff"/><stop offset="0.7564" stop-color="#0068ff"/><stop offset="0.7825" stop-color="#0016ff"/><stop offset="0.7931" stop-color="#0000ff"/><stop offset="0.8086" stop-color="#0000de"/><stop offset="0.8347" stop-color="#0000c2"/><stop offset="0.8707" stop-color="#0000b2"/><stop offset="0.9295" stop-color="#0000ab"/><stop offset="1.0000" stop-color="#0000ab"/></linearGradient>
<linearGradient id="g19" gradientUnits="userSpaceOnUse" x1="28.4" x2="334.6" y1="0" y2="0"><stop offset="0.0000" stop-color="#0000ad"/><stop offset="0.0803" stop-color="#0000ad"/><stop offset="0.1391" stop-color="#0000b3"/><stop offset="0.1750" stop-color="#0000c2"/><stop offset="0.2012" stop-color="#0000dc"/><stop offset="0.2200" stop-color="#0000ff"/><stop offset="0.2273" stop-color="#000eff"/><stop offset="0.2534" stop-color="#0062ff"/><stop offset="0.2763" stop-color="#00a9ff"/><stop offset="0.2992" stop-color="#00ebff"/><stop offset="0.3055" stop-color="#00ffff"/><stop offset="0.3187" stop-color="#28ffd7"/><stop offset="0.3416" stop-color="#73ff8c"/><stop offset="0.3612" stop-color="#afff50"/><stop offset="0.3873" stop-color="#f6ff09"/><stop offset="0.3903" stop-color="#ffff00"/><stop offset="0.4069" stop-color="#ffcd00"/><stop offset="0.4265" stop-color="#ff9d00"/><stop offset="0.4396" stop-color="#ff8400"/><stop offset="0.4526" stop-color="#ff6d00"/><stop offset="0.4657" stop-color="#ff5e00"/><stop offset="0.4853" stop-color="#ff4f00"/><stop offset="0.5049" stop-color="#ff4a00"/><stop offset="0.5245" stop-color="#ff4f00"/><stop offset="0.5441" stop-color="#ff5e00"/><stop offset="0.5572" stop-color="#ff6d00"/><stop offset="0.5702" stop-color="#ff8400"/><stop offset="0.5833" stop-color="#ff9d00"/><stop offset="0.6029" stop-color="#ffcd00"/><stop offset="0.6195" stop-color="#ffff00"/><stop offset="0.6225" stop-color="#f6ff09"/><stop offset="0.6486" stop-color="#afff50"/><stop offset="0.6682" stop-color="#73ff8c"/><stop offset="0.6911" stop-color="#29ffd6"/><stop offset="0.7049" stop-color="#00ffff"/><stop offset="0.7106" stop-color="#00eeff"/><stop offset="0.7335" stop-color="#00aeff"/><stop offset="0.7564" stop-color="#006aff"/><stop offset="0.7825" stop-color="#0018ff"/><stop offset="0.7941" stop-color="#0000ff"/><stop offset="0.8086" stop-color="#0000e1"/><stop offset="0.8347" stop-color="#0000c4"/><stop offset="0.8707" stop-color="#0000b4"/><stop offset="0.9295" stop-color="#0000ae"/><stop offset="1.0000" stop-color="#0000ad"/></linearGradient>
<linearGradient id="g20" gradientUnits="userSpaceOnUse" x1="28.4" x2="334.6" y1="0" y2="0"><stop offset="0.0000" stop-color="#0000ad"/><stop offset="0.0803" stop-color="#0000ad"/><stop offset="0.1391" stop-color="#0000b2"/><stop offset="0.1750" stop-color="#0000c1"/><stop offset="0.2012" stop-color="#0000db"/><stop offset="0.2201" stop-color="#0000ff"/><stop offset="0.2273" stop-color="#000eff"/><stop offset="0.2534" stop-color="#0062ff"/><stop offset="0.2763" stop-color="#00a9ff"/><stop offset="0.2992" stop-color="#00ecff"/><stop offset="0.3053" stop-color="#00ffff"/><stop offset="0.3187" stop-color="#29ffd6"/><stop offset="0.3416" stop-color="#74ff8b"/><stop offset="0.3612" stop-color="#b1ff4e"/><stop offset="0.3873" stop-color="#f8ff07"/><stop offset="0.3898" stop-color="#ffff00"/><stop offset="0.4069" stop-color="#ffcc00"/><stop offset="0.4265" stop-color="#ff9b00"/><stop offset="0.4396" stop-color="#ff8200"/><stop offset="0.4526" stop-color="#ff6b00"/><stop offset="0.4657" stop-color="#ff5c00"/><stop offset="0.4853" stop-color="#ff4d00"/><stop offset="0.5049" stop-color="#ff4800"/><stop offset="0.5245" stop-color="#ff4d00"/><stop offset="0.5441" stop-color="#ff5c00"/><stop offset="0.5572" stop-color="#ff6b00"/><stop offset="0.5702" stop-color="#ff8200"/><stop offset="0.5833" stop-color="#ff9b00"/><stop offset="0.6029" stop-color="#ffcc00"/><stop offset="0.6200" stop-color="#ffff00"/><stop offset="0.6225" stop-color="#f8ff07"/><stop offset="0.6486" stop-color="#b1ff4e"/><stop offset="0.6682" stop-color="#74ff8b"/><stop offset="0.6911" stop-color="#2affd5"/><stop offset="0.7052" stop-color="#00ffff"/><stop offset="0.7106" stop-color="#00efff"/><stop offset="0.7335" stop-color="#00aeff"/><stop offset="0.7564" stop-color="#006aff"/><stop offset="0.7825" stop-color="#0018ff"/><stop offset="0.7940" stop-color="#0000ff"/><stop offset="0.8086" stop-color="#0000e0"/><stop offset="0.8347" stop-color="#0000c4"/><stop offset="0.8707" stop-color="#0000b4"/><stop offset="0.9295" stop-color="#0000ad"/><stop offset="1.0000" stop-color="#0000ad"/></linearGradient>
<linearGradient id="g21" gradientUnits="userSpaceOnUse" x1="28.4" x2="334.6" y1="0" y2="0"><stop offset="0.0000" stop-color="#0000ad"/><stop offset="0.0803" stop-color="#0000ad"/><stop offset="0.1391" stop-color="#0000b3"/><stop offset="0.1750" stop-color="#0000c2"/><stop offset="0.2012" stop-color="#0000dc"/><stop offset="0.2196" stop-color="#0000ff"/><stop offset="0.2273" stop-color="#000fff"/><stop offset="0.2534" stop-color="#0064ff"/><stop offset="0.2763" stop-color="#00acff"/><stop offset="0.2992" stop-color="#00f0ff"/><stop offset="0.3041" stop-color="#00ffff"/><stop offset="0.3187" stop-color="#2effd1"/><stop offset="0.3416" stop-color="#79ff86"/><stop offset="0.3612" stop-color="#b7ff48"/><stop offset="0.3873" stop-color="#feff01"/><stop offset="0.3876" stop-color="#ffff00"/><stop offset="0.4069" stop-color="#ffc400"/><stop offset="0.4265" stop-color="#ff9300"/><stop offset="0.4396" stop-color="#ff7900"/><stop offset="0.4526" stop-color="#ff6300"/><stop offset="0.4657" stop-color="#ff5300"/><stop offset="0.4853" stop-color="#ff4400"/><stop offset="0.5049" stop-color="#ff3f00"/><stop offset="0.5245" stop-color="#ff4400"/><stop offset="0.5441" stop-color="#ff5300"/><stop offset="0.5572" stop-color="#ff6300"/><stop offset="0.5702" stop-color="#ff7900"/><stop offset="0.5833" stop-color="#ff9300"/><stop offset="0.6029" stop-color="#ffc400"/><stop offset="0.6222" stop-color="#ffff00"/><stop offset="0.6225" stop-color="#feff01"/><stop offset="0.6486" stop-color="#b7ff48"/><stop offset="0.6682" stop-color="#79ff86"/><stop offset="0.6911" stop-color="#2effd1"/><stop offset="0.7064" stop-color="#00ffff"/><stop offset="0.7106" stop-color="#00f2ff"/><stop offset="0.7335" stop-color="#00b1ff"/><stop offset="0.7564" stop-color="#006cff"/><stop offset="0.7825" stop-color="#0019ff"/><stop offset="0.7944" stop-color="#0000ff"/><stop offset="0.8086" stop-color="#0000e1"/><stop offset="0.8347" stop-color="#0000c4"/><stop offset="0.8707" stop-color="#0000b4"/><stop offset="0.9295" stop-color="#0000ad"/><stop offset="1.0000" stop-color="#0000ad"/></linearGradient>
<linearGradient id="g22" gradientUnits="userSpaceOnUse" x1="28.4" x2="334.6" y1="0" y2="0"><stop offset="0.0000" stop-color="#0000ac"/><stop offset="0.0803" stop-color="#0000ac"/><stop offset="0.1391" stop-color="#0000b2"/><stop offset="0.1750" stop-color="#0000c1"/><stop offset="0.2012" stop-color="#0000da"/><stop offset="0.2207" stop-color="#0000ff"/><stop offset="0.2273" stop-color="#000cff"/><stop offset="0.2534" stop-color="#0060ff"/><stop offset="0.2763" stop-color="#00a7ff"/><stop offset="0.2992" stop-color="#00e9ff"/><stop offset="0.3063" stop-color="#00ffff"/><stop offset="0.3187" stop-color="#26ffd9"/><stop offset="0.3416" stop-color="#70ff8f"/><stop offset="0.3612" stop-color="#acff53"/><stop offset="0.3873" stop-color="#f3ff0c"/><stop offset="0.3914" stop-color="#ffff00"/><stop offset="0.4069" stop-color="#ffd100"/><stop offset="0.4265" stop-color="#ffa000"/><stop offset="0.4396" stop-color="#ff8700"/><stop offset="0.4526" stop-color="#ff7100"/><stop offset="0.4657" stop-color="#ff6200"/><stop offset="0.4853" stop-color="#ff5300"/><stop offset="0.5049" stop-color="#ff4e00"/><stop offset="0.5245" stop-color="#ff5300"/><stop offset="0.5441" stop-color="#ff6200"/><stop offset="0.5572" stop-color="#ff7100"/><stop offset="0.5702" stop-color="#ff8700"/><stop offset="0.5833" stop-color="#ffa000"/><stop offset="0.6029" stop-color="#ffd100"/><stop offset="0.6184" stop-color="#ffff00"/><stop offset="0.6225" stop-color="#f3ff0c"/><stop offset="0.6486" stop-color="#acff53"/><stop offset="0.6682" stop-color="#70ff8f"/><stop offset="0.6911" stop-color="#27ffd8"/><stop offset="0.7042" stop-color="#00ffff"/><stop offset="0.7106" stop-color="#00ecff"/><stop offset="0.7335" stop-color="#00acff"/><stop offset="0.7564" stop-color="#0068ff"/><stop offset="0.7825" stop-color="#0017ff"/><stop offset="0.7935" stop-color="#0000ff"/><stop offset="0.8086" stop-color="#0000df"/><stop offset="0.8347" stop-color="#0000c3"/><stop offset="0.8707" stop-color="#0000b3"/><stop offset="0.9295" stop-color="#0000ad"/><stop offset="1.0000" stop-color="#0000ac"/></linearGradient>
<linearGradient id="g23" gradientUnits="userSpaceOnUse" x1="28.4" x2="334.6" y1="0" y2="0"><stop offset="0.0000" stop-color="#0000ae"/><stop offset="0.0803" stop-color="#0000ae"/><stop offset="0.1391" stop-color="#0000b4"/><stop offset="0.1750" stop-color="#0000c3"/><stop offset="0.2012" stop-color="#0000dd"/><stop offset="0.2195" stop-color="#0000ff"/><stop offset="0.2273" stop-color="#000fff"/><stop offset="0.2534" stop-color="#0063ff"/><stop offset="0.2763" stop-color="#00a9ff"/><stop offset="0.2992" stop-color="#00ecff"/><stop offset="0.3053" stop-color="#00ffff"/><stop offset="0.3187" stop-color="#29ffd6"/><stop offset="0.3416" stop-color="#73ff8c"/><stop offset="0.3612" stop-color="#b0ff4f"/><stop offset="0.3873" stop-color="#f7ff08"/><stop offset="0.3901" stop-color="#ffff00"/><stop offset="0.4069" stop-color="#ffcd00"/><stop offset="0.4265" stop-color="#ff9c00"/><stop offset="0.4396" stop-color="#ff8300"/><stop offset="0.4526" stop-color="#ff6d00"/><stop offset="0.4657" stop-color="#ff5e00"/><stop offset="0.4853" stop-color="#ff4f00"/><stop offset="0.5049" stop-color="#ff4a00"/><stop offset="0.5245" stop-color="#ff4f00"/><stop offset="0.5441" stop-color="#ff5e00"/><stop offset="0.5572" stop-color="#ff6d00"/><stop offset="0.5702" stop-color="#ff8300"/><stop offset="0.5833" stop-color="#ff9c00"/><stop offset="0.6029" stop-color="#ffcd00"/><stop offset="0.6197" stop-color="#ffff00"/><stop offset="0.6225" stop-color="#f7ff08"/><stop offset="0.6486" stop-color="#b0ff4f"/><stop offset="0.6682" stop-color="#73ff8c"/><stop offset="0.6911" stop-color="#2affd5"/><stop offset="0.7052" stop-color="#00ffff"/><stop offset="0.7106" stop-color="#00efff"/><stop offset="0.7335" stop-color="#00afff"/><stop offset="0.7564" stop-color="#006bff"/><stop offset="0.7825" stop-color="#0019ff"/><stop offset="0.7945" stop-color="#0000ff"/><stop offset="0.8086" stop-color="#0000e2"/><stop offset="0.8347" stop-color="#0000c5"/><stop offset="0.8707" stop-color="#0000b5"/><stop offset="0.9295" stop-color="#0000af"/><stop offset="1.0000" stop-color="#0000ae"/></linearGradient>
<linearGradient id="g24" gradientUnits="userSpaceOnUse" x1="28.4" x2="334.6" y1="0" y2="0"><stop offset="0.0000" stop-color="#0000ad"/><stop offset="0.0803" stop-color="#0000ad"/><stop offset="0.1391" stop-color="#0000b3"/><stop offset="0.1750" stop-color="#0000c2"/><stop offset="0.2012" stop-color="#0000dc"/><stop offset="0.2194" stop-color="#0000ff"/><stop offset="0.2273" stop-color="#000fff"/><stop offset="0.2534" stop-color="#0065ff"/><stop offset="0.2763" stop-color="#00adff"/><stop offset="0.2992" stop-color="#00f0ff"/><stop offset="0.3039" stop-color="#00ffff"/><stop offset="0.3187" stop-color="#2effd1"/><stop offset="0.3416" stop-color="#7aff85"/><stop offset="0.3612" stop-color="#b7ff48"/><stop offset="0.3872" stop-color="#ffff00"/><stop offset="0.3873" stop-color="#ffff00"/><stop offset="0.4069" stop-color="#ffc300"/><stop offset="0.4265" stop-color="#ff9200"/><stop offset="0.4396" stop-color="#ff7800"/><stop offset="0.4526" stop-color="#ff6200"/><stop offset="0.4657" stop-color="#ff5200"/><stop offset="0.4853" stop-color="#ff4300"/><stop offset="0.5049" stop-color="#ff3e00"/><stop offset="0.5245" stop-color="#ff4300"/><stop offset="0.5441" stop-color="#ff5200"/><stop offset="0.5572" stop-color="#ff6200"/><stop offset="0.5702" stop-color="#ff7800"/><stop offset="0.5833" stop-color="#ff9200"/><stop offset="0.6029" stop-color="#ffc300"/><stop offset="0.6225" stop-color="#ffff00"/><stop offset="0.6226" stop-color="#ffff00"/><stop offset="0.6486" stop-color="#b7ff48"/><stop offset="0.6682" stop-color="#7aff85"/><stop offset="0.6911" stop-color="#2fffd0"/><stop offset="0.7067" stop-color="#00ffff"/><stop offset="0.7106" stop-color="#00f3ff"/><stop offset="0.7335" stop-color="#00b2ff"/><stop offset="0.7564" stop-color="#006dff"/><stop offset="0.7825" stop-color="#001aff"/><stop offset="0.7946" stop-color="#0000ff"/><stop offset="0.8086" stop-color="#0000e1"/><stop offset="0.8347" stop-color="#0000c5"/><stop offset="0.8707" stop-color="#0000b4"/><stop offset="0.9295" stop-color="#0000ae"/><stop offset="1.0000" stop-color="#0000ad"/></linearGradient>
<linearGradient id="g25" gradientUnits="userSpaceOnUse" x1="28.4" x2="334.6" y1="0" y2="0"><stop offset="0.0000" stop-color="#0000b0"/><stop offset="0.0803" stop-color="#0000b1"/><stop offset="0.1391" stop-color="#0000b6"/><stop offset="0.1750" stop-color="#0000c5"/><stop offset="0.2012" stop-color="#0000e0"/><stop offset="0.2175" stop-color="#0000ff"/><stop offset="0.2273" stop-color="#0013ff"/><stop offset="0.2534" stop-color="#0069ff"/><stop offset="0.2763" stop-color="#00b1ff"/><stop offset="0.2992" stop-color="#00f5ff"/><stop offset="0.3022" stop-color="#00ffff"/><stop offset="0.3187" stop-color="#34ffcb"/><stop offset="0.3416" stop-color="#80ff7f"/><stop offset="0.3612" stop-color="#bdff42"/><stop offset="0.3849" stop-color="#ffff00"/><stop offset="0.3873" stop-color="#fff800"/><stop offset="0.4069" stop-color="#ffbc00"/><stop offset="0.4265" stop-color="#ff8b00"/><stop offset="0.4396" stop-color="#ff7100"/><stop offset="0.4526" stop-color="#ff5a00"/><stop offset="0.4657" stop-color="#ff4b00"/><stop offset="0.4853" stop-color="#ff3b00"/><stop offset="0.5049" stop-color="#ff3600"/><stop offset="0.5245" stop-color="#ff3b00"/><stop offset="0.5441" stop-color="#ff4b00"/><stop offset="0.5572" stop-color="#ff5a00"/><stop offset="0.5702" stop-color="#ff7100"/><stop offset="0.5833" stop-color="#ff8b00"/><stop offset="0.6029" stop-color="#ffbc00"/><stop offset="0.6225" stop-color="#fff800"/><stop offset="0.6249" stop-color="#ffff00"/><stop offset="0.6486" stop-color="#bdff42"/><stop offset="0.6682" stop-color="#80ff7f"/><stop offset="0.6911" stop-color="#34ffcb"/><stop offset="0.7083" stop-color="#00ffff"/><stop offset="0.7106" stop-color="#00f8ff"/><stop offset="0.7335" stop-color="#00b6ff"/><stop offset="0.7564" stop-color="#0071ff"/><stop offset="0.7825" stop-color="#001eff"/><stop offset="0.7964" stop-color="#0000ff"/><stop offset="0.8086" stop-color="#0000e5"/><stop offset="0.8347" stop-color="#0000c8"/><stop offset="0.8707" stop-color="#0000b7"/><stop offset="0.9295" stop-color="#0000b1"/><stop offset="1.0000" stop-color="#0000b0"/></linearGradient>
<linearGradient id="g26" gradientUnits="userSpaceOnUse" x1="28.4" x2="334.6" y1="0" y2="0"><stop offset="0.0000" stop-color="#0000af"/><stop offset="0.0803" stop-color="#0000af"/><stop offset="0.1391" stop-color="#0000b5"/><stop offset="0.1750" stop-color="#0000c4"/><stop offset="0.2012" stop-color="#0000df"/><stop offset="0.2179" stop-color="#0000ff"/><stop offset="0.2273" stop-color="#0012ff"/><stop offset="0.2534" stop-color="#0069ff"/><stop offset="0.2763" stop-color="#00b2ff"/><stop offset="0.2992" stop-color="#00f7ff"/><stop offset="0.3016" stop-color="#00ffff"/><stop offset="0.3187" stop-color="#36ffc9"/><stop offset="0.3416" stop-color="#83ff7c"/><stop offset="0.3612" stop-color="#c1ff3e"/><stop offset="0.3832" stop-color="#ffff00"/><stop offset="0.3873" stop-color="#fff400"/><stop offset="0.4069" stop-color="#ffb700"/><stop offset="0.4265" stop-color="#ff8500"/><stop offset="0.4396" stop-color="#ff6b00"/><stop offset="0.4526" stop-color="#ff5400"/><stop offset="0.4657" stop-color="#ff4400"/><stop offset="0.4853" stop-color="#ff3500"/><stop offset="0.5049" stop-color="#ff2f00"/><stop offset="0.5245" stop-color="#ff3500"/><stop offset="0.5441" stop-color="#ff4400"/><stop offset="0.5572" stop-color="#ff5400"/><stop offset="0.5702" stop-color="#ff6b00"/><stop offset="0.5833" stop-color="#ff8500"/><stop offset="0.6029" stop-color="#ffb700"/><stop offset="0.6225" stop-color="#fff400"/><stop offset="0.6265" stop-color="#ffff00"/><stop offset="0.6486" stop-color="#c1ff3e"/><stop offset="0.6682" stop-color="#83ff7c"/><stop offset="0.6911" stop-color="#37ffc8"/><stop offset="0.7090" stop-color="#00ffff"/><stop offset="0.7106" stop-color="#00faff"/><stop offset="0.7335" stop-color="#00b7ff"/><stop offset="0.7564" stop-color="#0071ff"/><stop offset="0.7825" stop-color="#001dff"/><stop offset="0.7960" stop-color="#0000ff"/><stop offset="0.8086" stop-color="#0000e4"/><stop offset="0.8347" stop-color="#0000c7"/><stop offset="0.8707" stop-color="#0000b6"/><stop offset="0.9295" stop-color="#0000af"/><stop offset="1.0000" stop-color="#0000af"/></linearGradient>
<linearGradient id="g27" gradientUnits="userSpaceOnUse" x1="28.4" x2="334.6" y1="0" y2="0"><stop offset="0.0000" stop-color="#0000ab"/><stop offset="0.0803" stop-color="#0000ab"/><stop offset="0.1391" stop-color="#0000b1"/><stop offset="0.1750" stop-color="#0000bf"/><stop offset="0.2012" stop-color="#0000da"/><stop offset="0.2209" stop-color="#0000ff"/><stop offset="0.2273" stop-color="#000cff"/><stop offset="0.2534" stop-color="#0061ff"/><stop offset="0.2763" stop-color="#00a8ff"/><stop offset="0.2992" stop-color="#00ecff"/><stop offset="0.3054" stop-color="#00ffff"/><stop offset="0.3187" stop-color="#29ffd6"/><stop offset="0.3416" stop-color="#74ff8b"/><stop offset="0.3612" stop-color="#b1ff4e"/><stop offset="0.3873" stop-color="#f9ff06"/><stop offset="0.3894" stop-color="#ffff00"/><stop offset="0.4069" stop-color="#ffca00"/><stop offset="0.4265" stop-color="#ff9900"/><stop offset="0.4396" stop-color="#ff8000"/><stop offset="0.4526" stop-color="#ff6900"/><stop offset="0.4657" stop-color="#ff5a00"/><stop offset="0.4853" stop-color="#ff4b00"/><stop offset="0.5049" stop-color="#ff4600"/><stop offset="0.5245" stop-color="#ff4b00"/><stop offset="0.5441" stop-color="#ff5a00"/><stop offset="0.5572" stop-color="#ff6900"/><stop offset="0.5702" stop-color="#ff8000"/><stop offset="0.5833" stop-color="#ff9900"/><stop offset="0.6029" stop-color="#ffca00"/><stop offset="0.6204" stop-color="#ffff00"/><stop offset="0.6225" stop-color="#f9ff06"/><stop offset="0.6486" stop-color="#b1ff4e"/><stop offset="0.6682" stop-color="#74ff8b"/><stop offset="0.6911" stop-color="#2affd5"/><stop offset="0.7051" stop-color="#00ffff"/><stop offset="0.7106" stop-color="#00eeff"/><stop offset="0.7335" stop-color="#00aeff"/><stop offset="0.7564" stop-color="#0069ff"/><stop offset="0.7825" stop-color="#0017ff"/><stop offset="0.7933" stop-color="#0000ff"/><stop offset="0.8086" stop-color="#0000df"/><stop offset="0.8347" stop-color="#0000c2"/><stop offset="0.8707" stop-color="#0000b2"/><stop offset="0.9295" stop-color="#0000ab"/><stop offset="1.0000" stop-color="#0000ab"/></linearGradient>
<linearGradient id="g28" gradientUnits="userSpaceOnUse" x1="28.4" x2="334.6" y1="0" y2="0"><stop offset="0.0000" stop-color="#0000b1"/><stop offset="0.0803" stop-color="#0000b1"/><stop offset="0.1391" stop-color="#0000b7"/><stop offset="0.1750" stop-color="#0000c6"/><stop offset="0.2012" stop-color="#0000e0"/><stop offset="0.2173" stop-color="#0000ff"/><stop offset="0.2273" stop-color="#0013ff"/><stop offset="0.2534" stop-color="#0068ff"/><stop offset="0.2763" stop-color="#00b0ff"/><stop offset="0.2992" stop-color="#00f4ff"/><stop offset="0.3027" stop-color="#00ffff"/><stop offset="0.3187" stop-color="#32ffcd"/><stop offset="0.3416" stop-color="#7dff82"/><stop offset="0.3612" stop-color="#bbff44"/><stop offset="0.3861" stop-color="#ffff00"/><stop offset="0.3873" stop-color="#fffc00"/><stop offset="0.4069" stop-color="#ffc000"/><stop offset="0.4265" stop-color="#ff8f00"/><stop offset="0.4396" stop-color="#ff7500"/><stop offset="0.4526" stop-color="#ff5f00"/><stop offset="0.4657" stop-color="#ff4f00"/><stop offset="0.4853" stop-color="#ff4000"/><stop offset="0.5049" stop-color="#ff3b00"/><stop offset="0.5245" stop-color="#ff4000"/><stop offset="0.5441" stop-color="#ff4f00"/><stop offset="0.5572" stop-color="#ff5f00"/><stop offset="0.5702" stop-color="#ff7500"/><stop offset="0.5833" stop-color="#ff8f00"/><stop offset="0.6029" stop-color="#ffc000"/><stop offset="0.6225" stop-color="#fffc00"/><stop offset="0.6237" stop-color="#ffff00"/><stop offset="0.6486" stop-color="#bbff44"/><stop offset="0.6682" stop-color="#7dff82"/><stop offset="0.6911" stop-color="#33ffcc"/><stop offset="0.7079" stop-color="#00ffff"/><stop offset="0.7106" stop-color="#00f7ff"/><stop offset="0.7335" stop-color="#00b5ff"/><stop offset="0.7564" stop-color="#0071ff"/><stop offset="0.7825" stop-color="#001eff"/><stop offset="0.7965" stop-color="#0000ff"/><stop offset="0.8086" stop-color="#0000e5"/><stop offset="0.8347" stop-color="#0000c9"/><stop offset="0.8707" stop-color="#0000b8"/><stop offset="0.9295" stop-color="#0000b2"/><stop offset="1.0000" stop-color="#0000b1"/></linearGradient>
<linearGradient id="g29" gradientUnits="userSpaceOnUse" x1="28.4" x2="334.6" y1="0" y2="0"><stop offset="0.0000" stop-color="#0000ae"/><stop offset="0.0803" stop-color="#0000ae"/><stop offset="0.1391" stop-color="#0000b3"/><stop offset="0.1750" stop-color="#0000c2"/><stop offset="0.2012" stop-color="#0000dc"/><stop offset="0.2198" stop-color="#0000ff"/><stop offset="0.2273" stop-color="#000eff"/><stop offset="0.2534" stop-color="#0062ff"/><stop offset="0.2763" stop-color="#00a8ff"/><stop offset="0.2992" stop-color="#00ebff"/><stop offset="0.3057" stop-color="#00ffff"/><stop offset="0.3187" stop-color="#28ffd7"/><stop offset="0.3416" stop-color="#72ff8d"/><stop offset="0.3612" stop-color="#aeff51"/><stop offset="0.3873" stop-color="#f5ff0a"/><stop offset="0.3908" stop-color="#ffff00"/><stop offset="0.4069" stop-color="#ffcf00"/><stop offset="0.4265" stop-color="#ff9f00"/><stop offset="0.4396" stop-color="#ff8500"/><stop offset="0.4526" stop-color="#ff6f00"/><stop offset="0.4657" stop-color="#ff6000"/><stop offset="0.4853" stop-color="#ff5100"/><stop offset="0.5049" stop-color="#ff4c00"/><stop offset="0.5245" stop-color="#ff5100"/><stop offset="0.5441" stop-color="#ff6000"/><stop offset="0.5572" stop-color="#ff6f00"/><stop offset="0.5702" stop-color="#ff8500"/><stop offset="0.5833" stop-color="#ff9f00"/><stop offset="0.6029" stop-color="#ffcf00"/><stop offset="0.6190" stop-color="#ffff00"/><stop offset="0.6225" stop-color="#f5ff0a"/><stop offset="0.6486" stop-color="#aeff51"/><stop offset="0.6682" stop-color="#72ff8d"/><stop offset="0.6911" stop-color="#29ffd6"/><stop offset="0.7047" stop-color="#00ffff"/><stop offset="0.7106" stop-color="#00eeff"/><stop offset="0.7335" stop-color="#00adff"/><stop offset="0.7564" stop-color="#006aff"/><stop offset="0.7825" stop-color="#0018ff"/><stop offset="0.7942" stop-color="#0000ff"/><stop offset="0.8086" stop-color="#0000e1"/><stop offset="0.8347" stop-color="#0000c5"/><stop offset="0.8707" stop-color="#0000b5"/><stop offset="0.9295" stop-color="#0000ae"/><stop offset="1.0000" stop-color="#0000ae"/></linearGradient>
<linearGradient id="g30" gradientUnits="userSpaceOnUse" x1="28.4" x2="334.6" y1="0" y2="0"><stop offset="0.0000" stop-color="#0000ad"/><stop offset="0.0803" stop-color="#0000ad"/><stop offset="0.1391" stop-color="#0000b3"/><stop offset="0.1750" stop-color="#0000c2"/><stop offset="0.2012" stop-color="#0000db"/><stop offset="0.2202" stop-color="#0000ff"/><stop offset="0.2273" stop-color="#000dff"/><stop offset="0.2534" stop-color="#0061ff"/><stop offset="0.2763" stop-color="#00a8ff"/><stop offset="0.2992" stop-color="#00eaff"/><stop offset="0.3061" stop-color="#00ffff"/><stop offset="0.3187" stop-color="#27ffd8"/><stop offset="0.3416" stop-color="#71ff8e"/><stop offset="0.3612" stop-color="#adff52"/><stop offset="0.3873" stop-color="#f3ff0c"/><stop offset="0.3912" stop-color="#ffff00"/><stop offset="0.4069" stop-color="#ffd000"/><stop offset="0.4265" stop-color="#ffa000"/><stop offset="0.4396" stop-color="#ff8700"/><stop offset="0.4526" stop-color="#ff7100"/><stop offset="0.4657" stop-color="#ff6200"/><stop offset="0.4853" stop-color="#ff5300"/><stop offset="0.5049" stop-color="#ff4e00"/><stop offset="0.5245" stop-color="#ff5300"/><stop offset="0.5441" stop-color="#ff6200"/><stop offset="0.5572" stop-color="#ff7100"/><stop offset="0.5702" stop-color="#ff8700"/><stop offset="0.5833" stop-color="#ffa000"/><stop offset="0.6029" stop-color="#ffd000"/><stop offset="0.6186" stop-color="#ffff00"/><stop offset="0.6225" stop-color="#f3ff0c"/><stop offset="0.6486" stop-color="#adff52"/><stop offset="0.6682" stop-color="#71ff8e"/><stop offset="0.6911" stop-color="#27ffd8"/><stop offset="0.7044" stop-color="#00ffff"/><stop offset="0.7106" stop-color="#00edff"/><stop offset="0.7335" stop-color="#00adff"/><stop offset="0.7564" stop-color="#0069ff"/><stop offset="0.7825" stop-color="#0018ff"/><stop offset="0.7939" stop-color="#0000ff"/><stop offset="0.8086" stop-color="#0000e0"/><stop offset="0.8347" stop-color="#0000c4"/><stop offset="0.8707" stop-color="#0000b4"/><stop offset="0.9295" stop-color="#0000ae"/><stop offset="1.0000" stop-color="#0000ad"/></linearGradient>
<linearGradient id="g31" gradientUnits="userSpaceOnUse" x1="28.4" x2="334.6" y1="0" y2="0"><stop offset="0.0000" stop-color="#0000a6"/><stop offset="0.0803" stop-color="#0000a6"/><stop offset="0.1391" stop-color="#0000ac"/><stop offset="0.1750" stop-color="#0000bb"/><stop offset="0.2012" stop-color="#0000d6"/><stop offset="0.2226" stop-color="#0000ff"/><stop offset="0.2273" stop-color="#0009ff"/><stop offset="0.2534" stop-color="#0060ff"/><stop offset="0.2763" stop-color="#00a9ff"/><stop offset="0.2992" stop-color="#00edff"/><stop offset="0.3047" stop-color="#00ffff"/><stop offset="0.3187" stop-color="#2cffd3"/><stop offset="0.3416" stop-color="#79ff86"/><stop offset="0.3612" stop-color="#b7ff48"/><stop offset="0.3870" stop-color="#ffff00"/><stop offset="0.3873" stop-color="#fffe00"/><stop offset="0.4069" stop-color="#ffc200"/><stop offset="0.4265" stop-color="#ff9000"/><stop offset="0.4396" stop-color="#ff7600"/><stop offset="0.4526" stop-color="#ff5f00"/><stop offset="0.4657" stop-color="#ff4f00"/><stop offset="0.4853" stop-color="#ff4000"/><stop offset="0.5049" stop-color="#ff3b00"/><stop offset="0.5245" stop-color="#ff4000"/><stop offset="0.5441" stop-color="#ff4f00"/><stop offset="0.5572" stop-color="#ff5f00"/><stop offset="0.5702" stop-color="#ff7600"/><stop offset="0.5833" stop-color="#ff9000"/><stop offset="0.6029" stop-color="#ffc200"/><stop offset="0.6225" stop-color="#fffe00"/><stop offset="0.6228" stop-color="#ffff00"/><stop offset="0.6486" stop-color="#b7ff48"/><stop offset="0.6682" stop-color="#79ff86"/><stop offset="0.6911" stop-color="#2dffd2"/><stop offset="0.7058" stop-color="#00ffff"/><stop offset="0.7106" stop-color="#00f0ff"/><stop offset="0.7335" stop-color="#00aeff"/><stop offset="0.7564" stop-color="#0068ff"/><stop offset="0.7825" stop-color="#0014ff"/><stop offset="0.7918" stop-color="#0000ff"/><stop offset="0.8086" stop-color="#0000db"/><stop offset="0.8347" stop-color="#0000be"/><stop offset="0.8707" stop-color="#0000ad"/><stop offset="0.9295" stop-color="#0000a6"/><stop offset="1.0000" stop-color="#0000a6"/></linearGradient>
<linearGradient id="g32" gradientUnits="userSpaceOnUse" x1="28.4" x2="334.6" y1="0" y2="0"><stop offset="0.0000" stop-color="#0000b2"/><stop offset="0.0803" stop-color="#0000b2"/><stop offset="0.1391" stop-color="#0000b8"/><stop offset="0.1750" stop-color="#0000c7"/><stop offset="0.2012" stop-color="#0000e1"/><stop offset="0.2172" stop-color="#0000ff"/><stop offset="0.2273" stop-color="#0013ff"/><stop offset="0.2534" stop-color="#0068ff"/><stop offset="0.2763" stop-color="#00afff"/><stop offset="0.2992" stop-color="#00f2ff"/><stop offset="0.3034" stop-color="#00ffff"/><stop offset="0.3187" stop-color="#2fffd0"/><stop offset="0.3416" stop-color="#7aff85"/><stop offset="0.3612" stop-color="#b7ff48"/><stop offset="0.3873" stop-color="#feff01"/><stop offset="0.3877" stop-color="#ffff00"/><stop offset="0.4069" stop-color="#ffc500"/><stop offset="0.4265" stop-color="#ff9400"/><stop offset="0.4396" stop-color="#ff7b00"/><stop offset="0.4526" stop-color="#ff6500"/><stop offset="0.4657" stop-color="#ff5500"/><stop offset="0.4853" stop-color="#ff4600"/><stop offset="0.5049" stop-color="#ff4100"/><stop offset="0.5245" stop-color="#ff4600"/><stop offset="0.5441" stop-color="#ff5500"/><stop offset="0.5572" stop-color="#ff6500"/><stop offset="0.5702" stop-color="#ff7b00"/><stop offset="0.5833" stop-color="#ff9400"/><stop offset="0.6029" stop-color="#ffc500"/><stop offset="0.6221" stop-color="#ffff00"/><stop offset="0.6225" stop-color="#feff01"/><stop offset="0.6486" stop-color="#b7ff48"/><stop offset="0.6682" stop-color="#7aff85"/><stop offset="0.6911" stop-color="#30ffcf"/><stop offset="0.7071" stop-color="#00ffff"/><stop offset="0.7106" stop-color="#00f5ff"/><stop offset="0.7335" stop-color="#00b4ff"/><stop offset="0.7564" stop-color="#0070ff"/><stop offset="0.7825" stop-color="#001eff"/><stop offset="0.7966" stop-color="#0000ff"/><stop offset="0.8086" stop-color="#0000e6"/><stop offset="0.8347" stop-color="#0000c9"/><stop offset="0.8707" stop-color="#0000b9"/><stop offset="0.9295" stop-color="#0000b2"/><stop offset="1.0000" stop-color="#0000b2"/></linearGradient>
<linearGradient id="g33" gradientUnits="userSpaceOnUse" x1="28.4" x2="334.6" y1="0" y2="0"><stop offset="0.0000" stop-color="#0000b5"/><stop offset="0.0803" stop-color="#0000b6"/><stop offset="0.1391" stop-color="#0000bb"/><stop offset="0.1750" stop-color="#0000ca"/><stop offset="0.2012" stop-color="#0000e5"/><stop offset="0.2147" stop-color="#0000ff"/><stop offset="0.2273" stop-color="#0018ff"/><stop offset="0.2534" stop-color="#006fff"/><stop offset="0.2763" stop-color="#00b7ff"/><stop offset="0.2992" stop-color="#00fcff"/><stop offset="0.3002" stop-color="#00ffff"/><stop offset="0.3187" stop-color="#3affc5"/><stop offset="0.3416" stop-color="#87ff78"/><stop offset="0.3612" stop-color="#c5ff3a"/><stop offset="0.3821" stop-color="#ffff00"/><stop offset="0.3873" stop-color="#fff100"/><stop offset="0.4069" stop-color="#ffb400"/><stop offset="0.4265" stop-color="#ff8300"/><stop offset="0.4396" stop-color="#ff6900"/><stop offset="0.4526" stop-color="#ff5200"/><stop offset="0.4657" stop-color="#ff4200"/><stop offset="0.4853" stop-color="#ff3300"/><stop offset="0.5049" stop-color="#ff2e00"/><stop offset="0.5245" stop-color="#ff3300"/><stop offset="0.5441" stop-color="#ff4200"/><stop offset="0.5572" stop-color="#ff5200"/><stop offset="0.5702" stop-color="#ff6900"/><stop offset="0.5833" stop-color="#ff8300"/><stop offset="0.6029" stop-color="#ffb400"/><stop offset="0.6225" stop-color="#fff100"/><stop offset="0.6277" stop-color="#ffff00"/><stop offset="0.6486" stop-color="#c5ff3a"/><stop offset="0.6682" stop-color="#87ff78"/><stop offset="0.6911" stop-color="#3bffc4"/><stop offset="0.7105" stop-color="#00ffff"/><stop offset="0.7106" stop-color="#00ffff"/><stop offset="0.7335" stop-color="#00bcff"/><stop offset="0.7564" stop-color="#0077ff"/><stop offset="0.7825" stop-color="#0023ff"/><stop offset="0.7988" stop-color="#0000ff"/><stop offset="0.8086" stop-color="#0000ea"/><stop offset="0.8347" stop-color="#0000cd"/><stop offset="0.8707" stop-color="#0000bc"/><stop offset="0.9295" stop-color="#0000b6"/><stop offset="1.0000" stop-color="#0000b5"/></linearGradient>
<linearGradient id="g34" gradientUnits="userSpaceOnUse" x1="28.4" x2="334.6" y1="0" y2="0"><stop offset="0.0000" stop-color="#0000ab"/><stop offset="0.0803" stop-color="#0000ab"/><stop offset="0.1391" stop-color="#0000b0"/><stop offset="0.1750" stop-color="#0000bf"/><stop offset="0.2012" stop-color="#0000da"/><stop offset="0.2209" stop-color="#0000ff"/><stop offset="0.2273" stop-color="#000cff"/><stop offset="0.2534" stop-color="#0061ff"/><stop offset="0.2763" stop-color="#00a9ff"/><stop offset="0.2992" stop-color="#00ecff"/><stop offset="0.3052" stop-color="#00ffff"/><stop offset="0.3187" stop-color="#2affd5"/><stop offset="0.3416" stop-color="#75ff8a"/><stop offset="0.3612" stop-color="#b2ff4d"/><stop offset="0.3873" stop-color="#faff05"/><stop offset="0.3891" stop-color="#ffff00"/><stop offset="0.4069" stop-color="#ffc900"/><stop offset="0.4265" stop-color="#ff9800"/><stop offset="0.4396" stop-color="#ff7f00"/><stop offset="0.4526" stop-color="#ff6800"/><stop offset="0.4657" stop-color="#ff5900"/><stop offset="0.4853" stop-color="#ff4900"/><stop offset="0.5049" stop-color="#ff4400"/><stop offset="0.5245" stop-color="#ff4900"/><stop offset="0.5441" stop-color="#ff5900"/><stop offset="0.5572" stop-color="#ff6800"/><stop offset="0.5702" stop-color="#ff7f00"/><stop offset="0.5833" stop-color="#ff9800"/><stop offset="0.6029" stop-color="#ffc900"/><stop offset="0.6207" stop-color="#ffff00"/><stop offset="0.6225" stop-color="#faff05"/><stop offset="0.6486" stop-color="#b2ff4d"/><stop offset="0.6682" stop-color="#75ff8a"/><stop offset="0.6911" stop-color="#2bffd4"/><stop offset="0.7053" stop-color="#00ffff"/><stop offset="0.7106" stop-color="#00efff"/><stop offset="0.7335" stop-color="#00aeff"/><stop offset="0.7564" stop-color="#0069ff"/><stop offset="0.7825" stop-color="#0017ff"/><stop offset="0.7933" stop-color="#0000ff"/><stop offset="0.8086" stop-color="#0000df"/><stop offset="0.8347" stop-color="#0000c2"/><stop offset="0.8707" stop-color="#0000b2"/><stop offset="0.9295" stop-color="#0000ab"/><stop offset="1.0000" stop-color="#0000ab"/></linearGradient>
<linearGradient id="g35" gradientUnits="userSpaceOnUse" x1="28.4" x2="334.6" y1="0" y2="0"><stop offset="0.0000" stop-color="#0000ae"/><stop offset="0.0803" stop-color="#0000ae"/><stop offset="0.1391" stop-color="#0000b4"/><stop offset="0.1750" stop-color="#0000c3"/><stop offset="0.2012" stop-color="#0000dd"/><stop offset="0.2191" stop-color="#0000ff"/><stop offset="0.2273" stop-color="#0010ff"/><stop offset="0.2534" stop-color="#0065ff"/><stop offset="0.2763" stop-color="#00adff"/><stop offset="0.2992" stop-color="#00f0ff"/><stop offset="0.3039" stop-color="#00ffff"/><stop offset="0.3187" stop-color="#2effd1"/><stop offset="0.3416" stop-color="#79ff86"/><stop offset="0.3612" stop-color="#b6ff49"/><stop offset="0.3873" stop-color="#feff01"/><stop offset="0.3876" stop-color="#ffff00"/><stop offset="0.4069" stop-color="#ffc500"/><stop offset="0.4265" stop-color="#ff9400"/><stop offset="0.4396" stop-color="#ff7a00"/><stop offset="0.4526" stop-color="#ff6300"/><stop offset="0.4657" stop-color="#ff5400"/><stop offset="0.4853" stop-color="#ff4500"/><stop offset="0.5049" stop-color="#ff4000"/><stop offset="0.5245" stop-color="#ff4500"/><stop offset="0.5441" stop-color="#ff5400"/><stop offset="0.5572" stop-color="#ff6300"/><stop offset="0.5702" stop-color="#ff7a00"/><stop offset="0.5833" stop-color="#ff9400"/><stop offset="0.6029" stop-color="#ffc500"/><stop offset="0.6222" stop-color="#ffff00"/><stop offset="0.6225" stop-color="#feff01"/><stop offset="0.6486" stop-color="#b6ff49"/><stop offset="0.6682" stop-color="#79ff86"/><stop offset="0.6911" stop-color="#2fffd0"/><stop offset="0.7066" stop-color="#00ffff"/><stop offset="0.7106" stop-color="#00f3ff"/><stop offset="0.7335" stop-color="#00b2ff"/><stop offset="0.7564" stop-color="#006dff"/><stop offset="0.7825" stop-color="#001aff"/><stop offset="0.7949" stop-color="#0000ff"/><stop offset="0.8086" stop-color="#0000e2"/><stop offset="0.8347" stop-color="#0000c6"/><stop offset="0.8707" stop-color="#0000b5"/><stop offset="0.9295" stop-color="#0000ae"/><stop offset="1.0000" stop-color="#0000ae"/></linearGradient>
<linearGradient id="g36" gradientUnits="userSpaceOnUse" x1="28.4" x2="334.6" y1="0" y2="0"><stop offset="0.0000" stop-color="#0000a8"/><stop offset="0.0803" stop-color="#0000a8"/><stop offset="0.1391" stop-color="#0000ad"/><stop offset="0.1750" stop-color="#0000bc"/><stop offset="0.2012" stop-color="#0000d6"/><stop offset="0.2233" stop-color="#0000ff"/><stop offset="0.2273" stop-color="#0007ff"/><stop offset="0.2534" stop-color="#005bff"/><stop offset="0.2763" stop-color="#00a1ff"/><stop offset="0.2992" stop-color="#00e3ff"/><stop offset="0.3084" stop-color="#00ffff"/><stop offset="0.3187" stop-color="#1fffe0"/><stop offset="0.3416" stop-color="#69ff96"/><stop offset="0.3612" stop-color="#a5ff5a"/><stop offset="0.3873" stop-color="#ebff14"/><stop offset="0.3941" stop-color="#ffff00"/><stop offset="0.4069" stop-color="#ffd900"/><stop offset="0.4265" stop-color="#ffa900"/><stop offset="0.4396" stop-color="#ff9000"/><stop offset="0.4526" stop-color="#ff7a00"/><stop offset="0.4657" stop-color="#ff6b00"/><stop offset="0.4853" stop-color="#ff5c00"/><stop offset="0.5049" stop-color="#ff5700"/><stop offset="0.5245" stop-color="#ff5c00"/><stop offset="0.5441" stop-color="#ff6b00"/><stop offset="0.5572" stop-color="#ff7a00"/><stop offset="0.5702" stop-color="#ff9000"/><stop offset="0.5833" stop-color="#ffa900"/><stop offset="0.6029" stop-color="#ffd900"/><stop offset="0.6157" stop-color="#ffff00"/><stop offset="0.6225" stop-color="#ebff14"/><stop offset="0.6486" stop-color="#a5ff5a"/><stop offset="0.6682" stop-color="#69ff96"/><stop offset="0.6911" stop-color="#20ffdf"/><stop offset="0.7020" stop-color="#00ffff"/><stop offset="0.7106" stop-color="#00e5ff"/><stop offset="0.7335" stop-color="#00a6ff"/><stop offset="0.7564" stop-color="#0063ff"/><stop offset="0.7825" stop-color="#0012ff"/><stop offset="0.7911" stop-color="#0000ff"/><stop offset="0.8086" stop-color="#0000db"/><stop offset="0.8347" stop-color="#0000bf"/><stop offset="0.8707" stop-color="#0000af"/><stop offset="0.9295" stop-color="#0000a8"/><stop offset="1.0000" stop-color="#0000a8"/></linearGradient>
<linearGradient id="g37" gradientUnits="userSpaceOnUse" x1="28.4" x2="334.6" y1="0" y2="0"><stop offset="0.0000" stop-color="#0000ac"/><stop offset="0.0803" stop-color="#0000ac"/><stop offset="0.1391" stop-color="#0000b2"/><stop offset="0.1750" stop-color="#0000c1"/><stop offset="0.2012" stop-color="#0000db"/><stop offset="0.2203" stop-color="#0000ff"/><stop offset="0.2273" stop-color="#000dff"/><stop offset="0.2534" stop-color="#0062ff"/><stop offset="0.2763" stop-color="#00aaff"/><stop offset="0.2992" stop-color="#00edff"/><stop offset="0.3050" stop-color="#00ffff"/><stop offset="0.3187" stop-color="#2bffd4"/><stop offset="0.3416" stop-color="#76ff89"/><stop offset="0.3612" stop-color="#b3ff4c"/><stop offset="0.3873" stop-color="#faff05"/><stop offset="0.3889" stop-color="#ffff00"/><stop offset="0.4069" stop-color="#ffc900"/><stop offset="0.4265" stop-color="#ff9800"/><stop offset="0.4396" stop-color="#ff7e00"/><stop offset="0.4526" stop-color="#ff6800"/><stop offset="0.4657" stop-color="#ff5900"/><stop offset="0.4853" stop-color="#ff4900"/><stop offset="0.5049" stop-color="#ff4400"/><stop offset="0.5245" stop-color="#ff4900"/><stop offset="0.5441" stop-color="#ff5900"/><stop offset="0.5572" stop-color="#ff6800"/><stop offset="0.5702" stop-color="#ff7e00"/><stop offset="0.5833" stop-color="#ff9800"/><stop offset="0.6029" stop-color="#ffc900"/><stop offset="0.6209" stop-color="#ffff00"/><stop offset="0.6225" stop-color="#faff05"/><stop offset="0.6486" stop-color="#b3ff4c"/><stop offset="0.6682" stop-color="#76ff89"/><stop offset="0.6911" stop-color="#2bffd4"/><stop offset="0.7055" stop-color="#00ffff"/><stop offset="0.7106" stop-color="#00f0ff"/><stop offset="0.7335" stop-color="#00afff"/><stop offset="0.7564" stop-color="#006aff"/><stop offset="0.7825" stop-color="#0018ff"/><stop offset="0.7938" stop-color="#0000ff"/><stop offset="0.8086" stop-color="#0000e0"/><stop offset="0.8347" stop-color="#0000c3"/><stop offset="0.8707" stop-color="#0000b3"/><stop offset="0.9295" stop-color="#0000ac"/><stop offset="1.0000" stop-color="#0000ac"/></linearGradient>
<linearGradient id="g38" gradientUnits="userSpaceOnUse" x1="28.4" x2="334.6" y1="0" y2="0"><stop offset="0.0000" stop-color="#0000ab"/><stop offset="0.0803" stop-color="#0000ab"/><stop offset="0.1391" stop-color="#0000b1"/><stop offset="0.1750" stop-color="#0000bf"/><stop offset="0.2012" stop-color="#0000da"/><stop offset="0.2209" stop-color="#0000ff"/><stop offset="0.2273" stop-color="#000cff"/><stop offset="0.2534" stop-color="#0061ff"/><stop offset="0.2763" stop-color="#00a8ff"/><stop offset="0.2992" stop-color="#00ecff"/><stop offset="0.3055" stop-color="#00ffff"/><stop offset="0.3187" stop-color="#29ffd6"/><stop offset="0.3416" stop-color="#74ff8b"/><stop offset="0.3612" stop-color="#b1ff4e"/><stop offset="0.3873" stop-color="#f8ff07"/><stop offset="0.3896" stop-color="#ffff00"/><stop offset="0.4069" stop-color="#ffcb00"/><stop offset="0.4265" stop-color="#ff9a00"/><stop offset="0.4396" stop-color="#ff8000"/><stop offset="0.4526" stop-color="#ff6a00"/><stop offset="0.4657" stop-color="#ff5b00"/><stop offset="0.4853" stop-color="#ff4b00"/><stop offset="0.5049" stop-color="#ff4600"/><stop offset="0.5245" stop-color="#ff4b00"/><stop offset="0.5441" stop-color="#ff5b00"/><stop offset="0.5572" stop-color="#ff6a00"/><stop offset="0.5702" stop-color="#ff8000"/><stop offset="0.5833" stop-color="#ff9a00"/><stop offset="0.6029" stop-color="#ffcb00"/><stop offset="0.6202" stop-color="#ffff00"/><stop offset="0.6225" stop-color="#f8ff07"/><stop offset="0.6486" stop-color="#b1ff4e"/><stop offset="0.6682" stop-color="#74ff8b"/><stop offset="0.6911" stop-color="#2affd5"/><stop offset="0.7050" stop-color="#00ffff"/><stop offset="0.7106" stop-color="#00eeff"/><stop offset="0.7335" stop-color="#00adff"/><stop offset="0.7564" stop-color="#0069ff"/><stop offset="0.7825" stop-color="#0017ff"/><stop offset="0.7933" stop-color="#0000ff"/><stop offset="0.8086" stop-color="#0000df"/><stop offset="0.8347" stop-color="#0000c2"/><stop offset="0.8707" stop-color="#0000b2"/><stop offset="0.9295" stop-color="#0000ab"/><stop offset="1.0000" stop-color="#0000ab"/></linearGradient>
<linearGradient id="g39" gradientUnits="userSpaceOnUse" x1="28.4" x2="334.6" y1="0" y2="0"><stop offset="0.0000" stop-color="#0000ad"/><stop offset="0.0803" stop-color="#0000ae"/><stop offset="0.1391" stop-color="#0000b3"/><stop offset="0.1750" stop-color="#0000c2"/><stop offset="0.2012" stop-color="#0000dc"/><stop offset="0.2199" stop-color="#0000ff"/><stop offset="0.2273" stop-color="#000eff"/><stop offset="0.2534" stop-color="#0062ff"/><stop offset="0.2763" stop-color="#00a9ff"/><stop offset="0.2992" stop-color="#00ebff"/><stop offset="0.3056" stop-color="#00ffff"/><stop offset="0.3187" stop-color="#28ffd7"/><stop offset="0.3416" stop-color="#72ff8d"/><stop offset="0.3612" stop-color="#afff50"/><stop offset="0.3873" stop-color="#f5ff0a"/><stop offset="0.3906" stop-color="#ffff00"/><stop offset="0.4069" stop-color="#ffce00"/><stop offset="0.4265" stop-color="#ff9e00"/><stop offset="0.4396" stop-color="#ff8400"/><stop offset="0.4526" stop-color="#ff6e00"/><stop offset="0.4657" stop-color="#ff5f00"/><stop offset="0.4853" stop-color="#ff5000"/><stop offset="0.5049" stop-color="#ff4b00"/><stop offset="0.5245" stop-color="#ff5000"/><stop offset="0.5441" stop-color="#ff5f00"/><stop offset="0.5572" stop-color="#ff6e00"/><stop offset="0.5702" stop-color="#ff8400"/><stop offset="0.5833" stop-color="#ff9e00"/><stop offset="0.6029" stop-color="#ffce00"/><stop offset="0.6192" stop-color="#ffff00"/><stop offset="0.6225" stop-color="#f5ff0a"/><stop offset="0.6486" stop-color="#afff50"/><stop offset="0.6682" stop-color="#72ff8d"/><stop offset="0.6911" stop-color="#29ffd6"/><stop offset="0.7048" stop-color="#00ffff"/><stop offset="0.7106" stop-color="#00eeff"/><stop offset="0.7335" stop-color="#00aeff"/><stop offset="0.7564" stop-color="#006aff"/><stop offset="0.7825" stop-color="#0018ff"/><stop offset="0.7942" stop-color="#0000ff"/><stop offset="0.8086" stop-color="#0000e1"/><stop offset="0.8347" stop-color="#0000c5"/><stop offset="0.8707" stop-color="#0000b4"/><stop offset="0.9295" stop-color="#0000ae"/><stop offset="1.0000" stop-color="#0000ad"/></linearGradient>
<linearGradient id="g40" gradientUnits="userSpaceOnUse" x1="28.4" x2="334.6" y1="0" y2="0"><stop offset="0.0000" stop-color="#0000ab"/><stop offset="0.0803" stop-color="#0000ac"/><stop offset="0.1391" stop-color="#0000b1"/><stop offset="0.1750" stop-color="#0000c0"/><stop offset="0.2012" stop-color="#0000d9"/><stop offset="0.2215" stop-color="#0000ff"/><stop offset="0.2273" stop-color="#000bff"/><stop offset="0.2534" stop-color="#005eff"/><stop offset="0.2763" stop-color="#00a4ff"/><stop offset="0.2992" stop-color="#00e6ff"/><stop offset="0.3075" stop-color="#00ffff"/><stop offset="0.3187" stop-color="#22ffdd"/><stop offset="0.3416" stop-color="#6bff94"/><stop offset="0.3612" stop-color="#a7ff58"/><stop offset="0.3873" stop-color="#edff12"/><stop offset="0.3934" stop-color="#ffff00"/><stop offset="0.4069" stop-color="#ffd700"/><stop offset="0.4265" stop-color="#ffa700"/><stop offset="0.4396" stop-color="#ff8e00"/><stop offset="0.4526" stop-color="#ff7800"/><stop offset="0.4657" stop-color="#ff6900"/><stop offset="0.4853" stop-color="#ff5a00"/><stop offset="0.5049" stop-color="#ff5500"/><stop offset="0.5245" stop-color="#ff5a00"/><stop offset="0.5441" stop-color="#ff6900"/><stop offset="0.5572" stop-color="#ff7800"/><stop offset="0.5702" stop-color="#ff8e00"/><stop offset="0.5833" stop-color="#ffa700"/><stop offset="0.6029" stop-color="#ffd700"/><stop offset="0.6164" stop-color="#ffff00"/><stop offset="0.6225" stop-color="#edff12"/><stop offset="0.6486" stop-color="#a7ff58"/><stop offset="0.6682" stop-color="#6bff94"/><stop offset="0.6911" stop-color="#23ffdc"/><stop offset="0.7029" stop-color="#00ffff"/><stop offset="0.7106" stop-color="#00e8ff"/><stop offset="0.7335" stop-color="#00a9ff"/><stop offset="0.7564" stop-color="#0066ff"/><stop offset="0.7825" stop-color="#0015ff"/><stop offset="0.7927" stop-color="#0000ff"/><stop offset="0.8086" stop-color="#0000de"/><stop offset="0.8347" stop-color="#0000c2"/><stop offset="0.8707" stop-color="#0000b2"/><stop offset="0.9295" stop-color="#0000ac"/><stop offset="1.0000" stop-color="#0000ab"/></linearGradient>
<linearGradient id="g41" gradientUnits="userSpaceOnUse" x1="28.4" x2="334.6" y1="0" y2="0"><stop offset="0.0000" stop-color="#0000ae"/><stop offset="0.0803" stop-color="#0000ae"/><stop offset="0.1391" stop-color="#0000b3"/><stop offset="0.1750" stop-color="#0000c2"/><stop offset="0.2012" stop-color="#0000db"/><stop offset="0.2203" stop-color="#0000ff"/><stop offset="0.2273" stop-color="#000dff"/><stop offset="0.2534" stop-color="#0060ff"/><stop offset="0.2763" stop-color="#00a6ff"/><stop offset="0.2992" stop-color="#00e8ff"/><stop offset="0.3067" stop-color="#00ffff"/><stop offset="0.3187" stop-color="#24ffdb"/><stop offset="0.3416" stop-color="#6eff91"/><stop offset="0.3612" stop-color="#aaff55"/><stop offset="0.3873" stop-color="#f0ff0f"/><stop offset="0.3926" stop-color="#ffff00"/><stop offset="0.4069" stop-color="#ffd500"/><stop offset="0.4265" stop-color="#ffa500"/><stop offset="0.4396" stop-color="#ff8c00"/><stop offset="0.4526" stop-color="#ff7600"/><stop offset="0.4657" stop-color="#ff6700"/><stop offset="0.4853" stop-color="#ff5800"/><stop offset="0.5049" stop-color="#ff5300"/><stop offset="0.5245" stop-color="#ff5800"/><stop offset="0.5441" stop-color="#ff6700"/><stop offset="0.5572" stop-color="#ff7600"/><stop offset="0.5702" stop-color="#ff8c00"/><stop offset="0.5833" stop-color="#ffa500"/><stop offset="0.6029" stop-color="#ffd500"/><stop offset="0.6172" stop-color="#ffff00"/><stop offset="0.6225" stop-color="#f0ff0f"/><stop offset="0.6486" stop-color="#aaff55"/><stop offset="0.6682" stop-color="#6eff91"/><stop offset="0.6911" stop-color="#25ffda"/><stop offset="0.7037" stop-color="#00ffff"/><stop offset="0.7106" stop-color="#00ebff"/><stop offset="0.7335" stop-color="#00abff"/><stop offset="0.7564" stop-color="#0068ff"/><stop offset="0.7825" stop-color="#0017ff"/><stop offset="0.7938" stop-color="#0000ff"/><stop offset="0.8086" stop-color="#0000e0"/><stop offset="0.8347" stop-color="#0000c5"/><stop offset="0.8707" stop-color="#0000b4"/><stop offset="0.9295" stop-color="#0000ae"/><stop offset="1.0000" stop-color="#0000ae"/></linearGradient>
<linearGradient id="g42" gradientUnits="userSpaceOnUse" x1="28.4" x2="334.6" y1="0" y2="0"><stop offset="0.0000" stop-color="#0000a7"/><stop offset="0.0803" stop-color="#0000a8"/><stop offset="0.1391" stop-color="#0000ad"/><stop offset="0.1750" stop-color="#0000bd"/><stop offset="0.2012" stop-color="#0000d7"/><stop offset="0.2219" stop-color="#0000ff"/><stop offset="0.2273" stop-color="#000aff"/><stop offset="0.2534" stop-color="#0061ff"/><stop offset="0.2763" stop-color="#00a9ff"/><stop offset="0.2992" stop-color="#00eeff"/><stop offset="0.3047" stop-color="#00ffff"/><stop offset="0.3187" stop-color="#2cffd3"/><stop offset="0.3416" stop-color="#78ff87"/><stop offset="0.3612" stop-color="#b7ff48"/><stop offset="0.3873" stop-color="#ffff00"/><stop offset="0.3873" stop-color="#ffff00"/><stop offset="0.4069" stop-color="#ffc300"/><stop offset="0.4265" stop-color="#ff9100"/><stop offset="0.4396" stop-color="#ff7700"/><stop offset="0.4526" stop-color="#ff6100"/><stop offset="0.4657" stop-color="#ff5100"/><stop offset="0.4853" stop-color="#ff4100"/><stop offset="0.5049" stop-color="#ff3c00"/><stop offset="0.5245" stop-color="#ff4100"/><stop offset="0.5441" stop-color="#ff5100"/><stop offset="0.5572" stop-color="#ff6100"/><stop offset="0.5702" stop-color="#ff7700"/><stop offset="0.5833" stop-color="#ff9100"/><stop offset="0.6029" stop-color="#ffc300"/><stop offset="0.6225" stop-color="#ffff00"/><stop offset="0.6225" stop-color="#ffff00"/><stop offset="0.6486" stop-color="#b7ff48"/><stop offset="0.6682" stop-color="#78ff87"/><stop offset="0.6911" stop-color="#2dffd2"/><stop offset="0.7059" stop-color="#00ffff"/><stop offset="0.7106" stop-color="#00f0ff"/><stop offset="0.7335" stop-color="#00aeff"/><stop offset="0.7564" stop-color="#0069ff"/><stop offset="0.7825" stop-color="#0015ff"/><stop offset="0.7924" stop-color="#0000ff"/><stop offset="0.8086" stop-color="#0000dc"/><stop offset="0.8347" stop-color="#0000bf"/><stop offset="0.8707" stop-color="#0000af"/><stop offset="0.9295" stop-color="#0000a8"/><stop offset="1.0000" stop-color="#0000a7"/></linearGradient>
<linearGradient id="g43" gradientUnits="userSpaceOnUse" x1="28.4" x2="334.6" y1="0" y2="0"><stop offset="0.0000" stop-color="#0000a9"/><stop offset="0.0803" stop-color="#0000a9"/><stop offset="0.1391" stop-color="#0000af"/><stop offset="0.1750" stop-color="#0000be"/><stop offset="0.2012" stop-color="#0000d8"/><stop offset="0.2218" stop-color="#0000ff"/><stop offset="0.2273" stop-color="#000bff"/><stop offset="0.2534" stop-color="#0060ff"/><stop offset="0.2763" stop-color="#00a7ff"/><stop offset="0.2992" stop-color="#00ebff"/><stop offset="0.3056" stop-color="#00ffff"/><stop offset="0.3187" stop-color="#29ffd6"/><stop offset="0.3416" stop-color="#74ff8b"/><stop offset="0.3612" stop-color="#b2ff4d"/><stop offset="0.3873" stop-color="#f9ff06"/><stop offset="0.3892" stop-color="#ffff00"/><stop offset="0.4069" stop-color="#ffc900"/><stop offset="0.4265" stop-color="#ff9800"/><stop offset="0.4396" stop-color="#ff7f00"/><stop offset="0.4526" stop-color="#ff6800"/><stop offset="0.4657" stop-color="#ff5900"/><stop offset="0.4853" stop-color="#ff4a00"/><stop offset="0.5049" stop-color="#ff4400"/><stop offset="0.5245" stop-color="#ff4a00"/><stop offset="0.5441" stop-color="#ff5900"/><stop offset="0.5572" stop-color="#ff6800"/><stop offset="0.5702" stop-color="#ff7f00"/><stop offset="0.5833" stop-color="#ff9800"/><stop offset="0.6029" stop-color="#ffc900"/><stop offset="0.6206" stop-color="#ffff00"/><stop offset="0.6225" stop-color="#f9ff06"/><stop offset="0.6486" stop-color="#b2ff4d"/><stop offset="0.6682" stop-color="#74ff8b"/><stop offset="0.6911" stop-color="#2affd5"/><stop offset="0.7049" stop-color="#00ffff"/><stop offset="0.7106" stop-color="#00eeff"/><stop offset="0.7335" stop-color="#00adff"/><stop offset="0.7564" stop-color="#0068ff"/><stop offset="0.7825" stop-color="#0015ff"/><stop offset="0.7925" stop-color="#0000ff"/><stop offset="0.8086" stop-color="#0000dd"/><stop offset="0.8347" stop-color="#0000c0"/><stop offset="0.8707" stop-color="#0000b0"/><stop offset="0.9295" stop-color="#0000a9"/><stop offset="1.0000" stop-color="#0000a9"/></linearGradient>
<linearGradient id="g44" gradientUnits="userSpaceOnUse" x1="28.4" x2="334.6" y1="0" y2="0"><stop offset="0.0000" stop-color="#0000aa"/><stop offset="0.0803" stop-color="#0000aa"/><stop offset="0.1391" stop-color="#0000b0"/><stop offset="0.1750" stop-color="#0000bf"/><stop offset="0.2012" stop-color="#0000d9"/><stop offset="0.2210" stop-color="#0000ff"/><stop offset="0.2273" stop-color="#000cff"/><stop offset="0.2534" stop-color="#0062ff"/><stop offset="0.2763" stop-color="#00aaff"/><stop offset="0.2992" stop-color="#00eeff"/><stop offset="0.3046" stop-color="#00ffff"/><stop offset="0.3187" stop-color="#2cffd3"/><stop offset="0.3416" stop-color="#78ff87"/><stop offset="0.3612" stop-color="#b6ff49"/><stop offset="0.3873" stop-color="#feff01"/><stop offset="0.3877" stop-color="#ffff00"/><stop offset="0.4069" stop-color="#ffc400"/><stop offset="0.4265" stop-color="#ff9300"/><stop offset="0.4396" stop-color="#ff7900"/><stop offset="0.4526" stop-color="#ff6300"/><stop offset="0.4657" stop-color="#ff5300"/><stop offset="0.4853" stop-color="#ff4400"/><stop offset="0.5049" stop-color="#ff3f00"/><stop offset="0.5245" stop-color="#ff4400"/><stop offset="0.5441" stop-color="#ff5300"/><stop offset="0.5572" stop-color="#ff6300"/><stop offset="0.5702" stop-color="#ff7900"/><stop offset="0.5833" stop-color="#ff9300"/><stop offset="0.6029" stop-color="#ffc400"/><stop offset="0.6221" stop-color="#ffff00"/><stop offset="0.6225" stop-color="#feff01"/><stop offset="0.6486" stop-color="#b6ff49"/><stop offset="0.6682" stop-color="#78ff87"/><stop offset="0.6911" stop-color="#2dffd2"/><stop offset="0.7059" stop-color="#00ffff"/><stop offset="0.7106" stop-color="#00f1ff"/><stop offset="0.7335" stop-color="#00afff"/><stop offset="0.7564" stop-color="#006aff"/><stop offset="0.7825" stop-color="#0017ff"/><stop offset="0.7932" stop-color="#0000ff"/><stop offset="0.8086" stop-color="#0000de"/><stop offset="0.8347" stop-color="#0000c1"/><stop offset="0.8707" stop-color="#0000b1"/><stop offset="0.9295" stop-color="#0000aa"/><stop offset="1.0000" stop-color="#0000aa"/></linearGradient>
<linearGradient id="g45" gradientUnits="userSpaceOnUse" x1="28.4" x2="334.6" y1="0" y2="0"><stop offset="0.0000" stop-color="#0000a7"/><stop offset="0.0803" stop-color="#0000a8"/><stop offset="0.1391" stop-color="#0000ad"/><stop offset="0.1750" stop-color="#0000bd"/><stop offset="0.2012" stop-color="#0000d7"/><stop offset="0.2218" stop-color="#0000ff"/><stop offset="0.2273" stop-color="#000bff"/><stop offset="0.2534" stop-color="#0061ff"/><stop offset="0.2763" stop-color="#00aaff"/><stop offset="0.2992" stop-color="#00eeff"/><stop offset="0.3045" stop-color="#00ffff"/><stop offset="0.3187" stop-color="#2dffd2"/><stop offset="0.3416" stop-color="#79ff86"/><stop offset="0.3612" stop-color="#b7ff48"/><stop offset="0.3870" stop-color="#ffff00"/><stop offset="0.3873" stop-color="#fffe00"/><stop offset="0.4069" stop-color="#ffc200"/><stop offset="0.4265" stop-color="#ff9000"/><stop offset="0.4396" stop-color="#ff7600"/><stop offset="0.4526" stop-color="#ff5f00"/><stop offset="0.4657" stop-color="#ff5000"/><stop offset="0.4853" stop-color="#ff4000"/><stop offset="0.5049" stop-color="#ff3b00"/><stop offset="0.5245" stop-color="#ff4000"/><stop offset="0.5441" stop-color="#ff5000"/><stop offset="0.5572" stop-color="#ff5f00"/><stop offset="0.5702" stop-color="#ff7600"/><stop offset="0.5833" stop-color="#ff9000"/><stop offset="0.6029" stop-color="#ffc200"/><stop offset="0.6225" stop-color="#fffe00"/><stop offset="0.6228" stop-color="#ffff00"/><stop offset="0.6486" stop-color="#b7ff48"/><stop offset="0.6682" stop-color="#79ff86"/><stop offset="0.6911" stop-color="#2effd1"/><stop offset="0.7060" stop-color="#00ffff"/><stop offset="0.7106" stop-color="#00f1ff"/><stop offset="0.7335" stop-color="#00afff"/><stop offset="0.7564" stop-color="#0069ff"/><stop offset="0.7825" stop-color="#0015ff"/><stop offset="0.7925" stop-color="#0000ff"/><stop offset="0.8086" stop-color="#0000dc"/><stop offset="0.8347" stop-color="#0000bf"/><stop offset="0.8707" stop-color="#0000ae"/><stop offset="0.9295" stop-color="#0000a8"/><stop offset="1.0000" stop-color="#0000a7"/></linearGradient>
<linearGradient id="g46" gradientUnits="userSpaceOnUse" x1="28.4" x2="334.6" y1="0" y2="0"><stop offset="0.0000" stop-color="#0000aa"/><stop offset="0.0803" stop-color="#0000ab"/><stop offset="0.1391" stop-color="#0000b0"/><stop offset="0.1750" stop-color="#0000c0"/><stop offset="0.2012" stop-color="#0000da"/><stop offset="0.2205" stop-color="#0000ff"/><stop offset="0.2273" stop-color="#000dff"/><stop offset="0.2534" stop-color="#0063ff"/><stop offset="0.2763" stop-color="#00abff"/><stop offset="0.2992" stop-color="#00f0ff"/><stop offset="0.3041" stop-color="#00ffff"/><stop offset="0.3187" stop-color="#2effd1"/><stop offset="0.3416" stop-color="#7aff85"/><stop offset="0.3612" stop-color="#b8ff47"/><stop offset="0.3870" stop-color="#ffff00"/><stop offset="0.3873" stop-color="#fffe00"/><stop offset="0.4069" stop-color="#ffc200"/><stop offset="0.4265" stop-color="#ff9100"/><stop offset="0.4396" stop-color="#ff7700"/><stop offset="0.4526" stop-color="#ff6000"/><stop offset="0.4657" stop-color="#ff5100"/><stop offset="0.4853" stop-color="#ff4100"/><stop offset="0.5049" stop-color="#ff3c00"/><stop offset="0.5245" stop-color="#ff4100"/><stop offset="0.5441" stop-color="#ff5100"/><stop offset="0.5572" stop-color="#ff6000"/><stop offset="0.5702" stop-color="#ff7700"/><stop offset="0.5833" stop-color="#ff9100"/><stop offset="0.6029" stop-color="#ffc200"/><stop offset="0.6225" stop-color="#fffe00"/><stop offset="0.6228" stop-color="#ffff00"/><stop offset="0.6486" stop-color="#b8ff47"/><stop offset="0.6682" stop-color="#7aff85"/><stop offset="0.6911" stop-color="#2fffd0"/><stop offset="0.7064" stop-color="#00ffff"/><stop offset="0.7106" stop-color="#00f2ff"/><stop offset="0.7335" stop-color="#00b1ff"/><stop offset="0.7564" stop-color="#006bff"/><stop offset="0.7825" stop-color="#0018ff"/><stop offset="0.7937" stop-color="#0000ff"/><stop offset="0.8086" stop-color="#0000df"/><stop offset="0.8347" stop-color="#0000c2"/><stop offset="0.8707" stop-color="#0000b2"/><stop offset="0.9295" stop-color="#0000ab"/><stop offset="1.0000" stop-color="#0000aa"/></linearGradient>
<linearGradient id="g47" gradientUnits="userSpaceOnUse" x1="28.4" x2="334.6" y1="0" y2="0"><stop offset="0.0000" stop-color="#0000a9"/><stop offset="0.0803" stop-color="#0000aa"/><stop offset="0.1391" stop-color="#0000af"/><stop offset="0.1750" stop-color="#0000be"/><stop offset="0.2012" stop-color="#0000d9"/><stop offset="0.2209" stop-color="#0000ff"/><stop offset="0.2273" stop-color="#000cff"/><stop offset="0.2534" stop-color="#0062ff"/><stop offset="0.2763" stop-color="#00abff"/><stop offset="0.2992" stop-color="#00efff"/><stop offset="0.3042" stop-color="#00ffff"/><stop offset="0.3187" stop-color="#2dffd2"/><stop offset="0.3416" stop-color="#79ff86"/><stop offset="0.3612" stop-color="#b8ff47"/><stop offset="0.3870" stop-color="#ffff00"/><stop offset="0.3873" stop-color="#fffe00"/><stop offset="0.4069" stop-color="#ffc200"/><stop offset="0.4265" stop-color="#ff9100"/><stop offset="0.4396" stop-color="#ff7700"/><stop offset="0.4526" stop-color="#ff6000"/><stop offset="0.4657" stop-color="#ff5000"/><stop offset="0.4853" stop-color="#ff4100"/><stop offset="0.5049" stop-color="#ff3c00"/><stop offset="0.5245" stop-color="#ff4100"/><stop offset="0.5441" stop-color="#ff5000"/><stop offset="0.5572" stop-color="#ff6000"/><stop offset="0.5702" stop-color="#ff7700"/><stop offset="0.5833" stop-color="#ff9100"/><stop offset="0.6029" stop-color="#ffc200"/><stop offset="0.6225" stop-color="#fffe00"/><stop offset="0.6228" stop-color="#ffff00"/><stop offset="0.6486" stop-color="#b8ff47"/><stop offset="0.6682" stop-color="#79ff86"/><stop offset="0.6911" stop-color="#2effd1"/><stop offset="0.7063" stop-color="#00ffff"/><stop offset="0.7106" stop-color="#00f2ff"/><stop offset="0.7335" stop-color="#00b0ff"/><stop offset="0.7564" stop-color="#006bff"/><stop offset="0.7825" stop-color="#0017ff"/><stop offset="0.7932" stop-color="#0000ff"/><stop offset="0.8086" stop-color="#0000de"/><stop offset="0.8347" stop-color="#0000c1"/><stop offset="0.8707" stop-color="#0000b0"/><stop offset="0.9295" stop-color="#0000aa"/><stop offset="1.0000" stop-color="#0000a9"/></linearGradient>
<linearGradient id="g48" gradientUnits="userSpaceOnUse" x1="28.4" x2="334.6" y1="0" y2="0"><stop offset="0.0000" stop-color="#0000ac"/><stop offset="0.0803" stop-color="#0000ac"/><stop offset="0.1391" stop-color="#0000b2"/><stop offset="0.1750" stop-color="#0000c0"/><stop offset="0.2012" stop-color="#0000da"/><stop offset="0.2206" stop-color="#0000ff"/><stop offset="0.2273" stop-color="#000dff"/><stop offset="0.2534" stop-color="#0061ff"/><stop offset="0.2763" stop-color="#00a8ff"/><stop offset="0.2992" stop-color="#00ebff"/><stop offset="0.3057" stop-color="#00ffff"/><stop offset="0.3187" stop-color="#28ffd7"/><stop offset="0.3416" stop-color="#72ff8d"/><stop offset="0.3612" stop-color="#afff50"/><stop offset="0.3873" stop-color="#f6ff09"/><stop offset="0.3903" stop-color="#ffff00"/><stop offset="0.4069" stop-color="#ffcd00"/><stop offset="0.4265" stop-color="#ff9d00"/><stop offset="0.4396" stop-color="#ff8300"/><stop offset="0.4526" stop-color="#ff6d00"/><stop offset="0.4657" stop-color="#ff5e00"/><stop offset="0.4853" stop-color="#ff4f00"/><stop offset="0.5049" stop-color="#ff4a00"/><stop offset="0.5245" stop-color="#ff4f00"/><stop offset="0.5441" stop-color="#ff5e00"/><stop offset="0.5572" stop-color="#ff6d00"/><stop offset="0.5702" stop-color="#ff8300"/><stop offset="0.5833" stop-color="#ff9d00"/><stop offset="0.6029" stop-color="#ffcd00"/><stop offset="0.6195" stop-color="#ffff00"/><stop offset="0.6225" stop-color="#f6ff09"/><stop offset="0.6486" stop-color="#afff50"/><stop offset="0.6682" stop-color="#72ff8d"/><stop offset="0.6911" stop-color="#29ffd6"/><stop offset="0.7047" stop-color="#00ffff"/><stop offset="0.7106" stop-color="#00edff"/><stop offset="0.7335" stop-color="#00adff"/><stop offset="0.7564" stop-color="#0069ff"/><stop offset="0.7825" stop-color="#0017ff"/><stop offset="0.7936" stop-color="#0000ff"/><stop offset="0.8086" stop-color="#0000df"/><stop offset="0.8347" stop-color="#0000c3"/><stop offset="0.8707" stop-color="#0000b3"/><stop offset="0.9295" stop-color="#0000ac"/><stop offset="1.0000" stop-color="#0000ac"/></linearGradient>
<linearGradient id="g49" gradientUnits="userSpaceOnUse" x1="28.4" x2="334.6" y1="0" y2="0"><stop offset="0.0000" stop-color="#0000aa"/><stop offset="0.0803" stop-color="#0000aa"/><stop offset="0.1391" stop-color="#0000b0"/><stop offset="0.1750" stop-color="#0000be"/><stop offset="0.2012" stop-color="#0000d8"/><stop offset="0.2222" stop-color="#0000ff"/><stop offset="0.2273" stop-color="#000aff"/><stop offset="0.2534" stop-color="#005dff"/><stop offset="0.2763" stop-color="#00a3ff"/><stop offset="0.2992" stop-color="#00e5ff"/><stop offset="0.3077" stop-color="#00ffff"/><stop offset="0.3187" stop-color="#21ffde"/><stop offset="0.3416" stop-color="#6bff94"/><stop offset="0.3612" stop-color="#a7ff58"/><stop offset="0.3873" stop-color="#edff12"/><stop offset="0.3934" stop-color="#ffff00"/><stop offset="0.4069" stop-color="#ffd700"/><stop offset="0.4265" stop-color="#ffa700"/><stop offset="0.4396" stop-color="#ff8e00"/><stop offset="0.4526" stop-color="#ff7800"/><stop offset="0.4657" stop-color="#ff6900"/><stop offset="0.4853" stop-color="#ff5a00"/><stop offset="0.5049" stop-color="#ff5500"/><stop offset="0.5245" stop-color="#ff5a00"/><stop offset="0.5441" stop-color="#ff6900"/><stop offset="0.5572" stop-color="#ff7800"/><stop offset="0.5702" stop-color="#ff8e00"/><stop offset="0.5833" stop-color="#ffa700"/><stop offset="0.6029" stop-color="#ffd700"/><stop offset="0.6164" stop-color="#ffff00"/><stop offset="0.6225" stop-color="#edff12"/><stop offset="0.6486" stop-color="#a7ff58"/><stop offset="0.6682" stop-color="#6bff94"/><stop offset="0.6911" stop-color="#22ffdd"/><stop offset="0.7027" stop-color="#00ffff"/><stop offset="0.7106" stop-color="#00e8ff"/><stop offset="0.7335" stop-color="#00a8ff"/><stop offset="0.7564" stop-color="#0065ff"/><stop offset="0.7825" stop-color="#0014ff"/><stop offset="0.7921" stop-color="#0000ff"/><stop offset="0.8086" stop-color="#0000dd"/><stop offset="0.8347" stop-color="#0000c1"/><stop offset="0.8707" stop-color="#0000b1"/><stop offset="0.9295" stop-color="#0000aa"/><stop offset="1.0000" stop-color="#0000aa"/></linearGradient>
<linearGradient id="g50" gradientUnits="userSpaceOnUse" x1="28.4" x2="334.6" y1="0" y2="0"><stop offset="0.0000" stop-color="#0000a9"/><stop offset="0.0803" stop-color="#0000aa"/><stop offset="0.1391" stop-color="#0000af"/><stop offset="0.1750" stop-color="#0000be"/><stop offset="0.2012" stop-color="#0000d8"/><stop offset="0.2216" stop-color="#0000ff"/><stop offset="0.2273" stop-color="#000bff"/><stop offset="0.2534" stop-color="#0060ff"/><stop offset="0.2763" stop-color="#00a8ff"/><stop offset="0.2992" stop-color="#00ebff"/><stop offset="0.3056" stop-color="#00ffff"/><stop offset="0.3187" stop-color="#29ffd6"/><stop offset="0.3416" stop-color="#74ff8b"/><stop offset="0.3612" stop-color="#b1ff4e"/><stop offset="0.3873" stop-color="#f9ff06"/><stop offset="0.3894" stop-color="#ffff00"/><stop offset="0.4069" stop-color="#ffca00"/><stop offset="0.4265" stop-color="#ff9900"/><stop offset="0.4396" stop-color="#ff8000"/><stop offset="0.4526" stop-color="#ff6900"/><stop offset="0.4657" stop-color="#ff5a00"/><stop offset="0.4853" stop-color="#ff4a00"/><stop offset="0.5049" stop-color="#ff4500"/><stop offset="0.5245" stop-color="#ff4a00"/><stop offset="0.5441" stop-color="#ff5a00"/><stop offset="0.5572" stop-color="#ff6900"/><stop offset="0.5702" stop-color="#ff8000"/><stop offset="0.5833" stop-color="#ff9900"/><stop offset="0.6029" stop-color="#ffca00"/><stop offset="0.6204" stop-color="#ffff00"/><stop offset="0.6225" stop-color="#f9ff06"/><stop offset="0.6486" stop-color="#b1ff4e"/><stop offset="0.6682" stop-color="#74ff8b"/><stop offset="0.6911" stop-color="#2affd5"/><stop offset="0.7049" stop-color="#00ffff"/><stop offset="0.7106" stop-color="#00eeff"/><stop offset="0.7335" stop-color="#00adff"/><stop offset="0.7564" stop-color="#0068ff"/><stop offset="0.7825" stop-color="#0016ff"/><stop offset="0.7927" stop-color="#0000ff"/><stop offset="0.8086" stop-color="#0000dd"/><stop offset="0.8347" stop-color="#0000c1"/><stop offset="0.8707" stop-color="#0000b0"/><stop offset="0.9295" stop-color="#0000aa"/><stop offset="1.0000" stop-color="#0000a9"/></linearGradient>
<linearGradient id="g51" gradientUnits="userSpaceOnUse" x1="28.4" x2="334.6" y1="0" y2="0"><stop offset="0.0000" stop-color="#0000a7"/><stop offset="0.0803" stop-color="#0000a8"/><stop offset="0.1391" stop-color="#0000ad"/><stop offset="0.1750" stop-color="#0000bb"/><stop offset="0.2012" stop-color="#0000d5"/><stop offset="0.2239" stop-color="#0000ff"/><stop offset="0.2273" stop-color="#0006ff"/><stop offset="0.2534" stop-color="#0059ff"/><stop offset="0.2763" stop-color="#009fff"/><stop offset="0.2992" stop-color="#00e1ff"/><stop offset="0.3093" stop-color="#00ffff"/><stop offset="0.3187" stop-color="#1cffe3"/><stop offset="0.3416" stop-color="#66ff99"/><stop offset="0.3612" stop-color="#a1ff5e"/><stop offset="0.3873" stop-color="#e7ff18"/><stop offset="0.3955" stop-color="#ffff00"/><stop offset="0.4069" stop-color="#ffdd00"/><stop offset="0.4265" stop-color="#ffae00"/><stop offset="0.4396" stop-color="#ff9500"/><stop offset="0.4526" stop-color="#ff7f00"/><stop offset="0.4657" stop-color="#ff7000"/><stop offset="0.4853" stop-color="#ff6100"/><stop offset="0.5049" stop-color="#ff5c00"/><stop offset="0.5245" stop-color="#ff6100"/><stop offset="0.5441" stop-color="#ff7000"/><stop offset="0.5572" stop-color="#ff7f00"/><stop offset="0.5702" stop-color="#ff9500"/><stop offset="0.5833" stop-color="#ffae00"/><stop offset="0.6029" stop-color="#ffdd00"/><stop offset="0.6143" stop-color="#ffff00"/><stop offset="0.6225" stop-color="#e7ff18"/><stop offset="0.6486" stop-color="#a1ff5e"/><stop offset="0.6682" stop-color="#66ff99"/><stop offset="0.6911" stop-color="#1dffe2"/><stop offset="0.7011" stop-color="#00ffff"/><stop offset="0.7106" stop-color="#00e3ff"/><stop offset="0.7335" stop-color="#00a4ff"/><stop offset="0.7564" stop-color="#0061ff"/><stop offset="0.7825" stop-color="#0011ff"/><stop offset="0.7906" stop-color="#0000ff"/><stop offset="0.8086" stop-color="#0000da"/><stop offset="0.8347" stop-color="#0000be"/><stop offset="0.8707" stop-color="#0000ae"/><stop offset="0.9295" stop-color="#0000a8"/><stop offset="1.0000" stop-color="#0000a7"/></linearGradient>
<linearGradient id="g52" gradientUnits="userSpaceOnUse" x1="28.4" x2="334.6" y1="0" y2="0"><stop offset="0.0000" stop-color="#0000aa"/><stop offset="0.0803" stop-color="#0000aa"/><stop offset="0.1391" stop-color="#0000b0"/><stop offset="0.1750" stop-color="#0000bf"/><stop offset="0.2012" stop-color="#0000d9"/><stop offset="0.2211" stop-color="#0000ff"/><stop offset="0.2273" stop-color="#000cff"/><stop offset="0.2534" stop-color="#0061ff"/><stop offset="0.2763" stop-color="#00a8ff"/><stop offset="0.2992" stop-color="#00ecff"/><stop offset="0.3053" stop-color="#00ffff"/><stop offset="0.3187" stop-color="#29ffd6"/><stop offset="0.3416" stop-color="#75ff8a"/><stop offset="0.3612" stop-color="#b2ff4d"/><stop offset="0.3873" stop-color="#f9ff06"/><stop offset="0.3892" stop-color="#ffff00"/><stop offset="0.4069" stop-color="#ffc900"/><stop offset="0.4265" stop-color="#ff9800"/><stop offset="0.4396" stop-color="#ff7f00"/><stop offset="0.4526" stop-color="#ff6800"/><stop offset="0.4657" stop-color="#ff5900"/><stop offset="0.4853" stop-color="#ff4a00"/><stop offset="0.5049" stop-color="#ff4500"/><stop offset="0.5245" stop-color="#ff4a00"/><stop offset="0.5441" stop-color="#ff5900"/><stop offset="0.5572" stop-color="#ff6800"/><stop offset="0.5702" stop-color="#ff7f00"/><stop offset="0.5833" stop-color="#ff9800"/><stop offset="0.6029" stop-color="#ffc900"/><stop offset="0.6206" stop-color="#ffff00"/><stop offset="0.6225" stop-color="#f9ff06"/><stop offset="0.6486" stop-color="#b2ff4d"/><stop offset="0.6682" stop-color="#75ff8a"/><stop offset="0.6911" stop-color="#2affd5"/><stop offset="0.7051" stop-color="#00ffff"/><stop offset="0.7106" stop-color="#00eeff"/><stop offset="0.7335" stop-color="#00adff"/><stop offset="0.7564" stop-color="#0069ff"/><stop offset="0.7825" stop-color="#0016ff"/><stop offset="0.7931" stop-color="#0000ff"/><stop offset="0.8086" stop-color="#0000de"/><stop offset="0.8347" stop-color="#0000c2"/><stop offset="0.8707" stop-color="#0000b1"/><stop offset="0.9295" stop-color="#0000ab"/><stop offset="1.0000" stop-color="#0000aa"/></linearGradient>
<linearGradient id="g53" gradientUnits="userSpaceOnUse" x1="28.4" x2="334.6" y1="0" y2="0"><stop offset="0.0000" stop-color="#0000a8"/><stop offset="0.0803" stop-color="#0000a8"/><stop offset="0.1391" stop-color="#0000ae"/><stop offset="0.1750" stop-color="#0000bd"/><stop offset="0.2012" stop-color="#0000d7"/><stop offset="0.2223" stop-color="#0000ff"/><stop offset="0.2273" stop-color="#0009ff"/><stop offset="0.2534" stop-color="#005eff"/><stop offset="0.2763" stop-color="#00a6ff"/><stop offset="0.2992" stop-color="#00e9ff"/><stop offset="0.3061" stop-color="#00ffff"/><stop offset="0.3187" stop-color="#27ffd8"/><stop offset="0.3416" stop-color="#72ff8d"/><stop offset="0.3612" stop-color="#afff50"/><stop offset="0.3873" stop-color="#f7ff08"/><stop offset="0.3901" stop-color="#ffff00"/><stop offset="0.4069" stop-color="#ffcc00"/><stop offset="0.4265" stop-color="#ff9b00"/><stop offset="0.4396" stop-color="#ff8200"/><stop offset="0.4526" stop-color="#ff6b00"/><stop offset="0.4657" stop-color="#ff5c00"/><stop offset="0.4853" stop-color="#ff4d00"/><stop offset="0.5049" stop-color="#ff4800"/><stop offset="0.5245" stop-color="#ff4d00"/><stop offset="0.5441" stop-color="#ff5c00"/><stop offset="0.5572" stop-color="#ff6b00"/><stop offset="0.5702" stop-color="#ff8200"/><stop offset="0.5833" stop-color="#ff9b00"/><stop offset="0.6029" stop-color="#ffcc00"/><stop offset="0.6197" stop-color="#ffff00"/><stop offset="0.6225" stop-color="#f7ff08"/><stop offset="0.6486" stop-color="#afff50"/><stop offset="0.6682" stop-color="#72ff8d"/><stop offset="0.6911" stop-color="#28ffd7"/><stop offset="0.7043" stop-color="#00ffff"/><stop offset="0.7106" stop-color="#00ecff"/><stop offset="0.7335" stop-color="#00abff"/><stop offset="0.7564" stop-color="#0067ff"/><stop offset="0.7825" stop-color="#0014ff"/><stop offset="0.7920" stop-color="#0000ff"/><stop offset="0.8086" stop-color="#0000dc"/><stop offset="0.8347" stop-color="#0000c0"/><stop offset="0.8707" stop-color="#0000af"/><stop offset="0.9295" stop-color="#0000a9"/><stop offset="1.0000" stop-color="#0000a8"/></linearGradient>
<linearGradient id="g54" gradientUnits="userSpaceOnUse" x1="28.4" x2="334.6" y1="0" y2="0"><stop offset="0.0000" stop-color="#0000a9"/><stop offset="0.0803" stop-color="#0000aa"/><stop offset="0.1391" stop-color="#0000af"/><stop offset="0.1750" stop-color="#0000be"/><stop offset="0.2012" stop-color="#0000d8"/><stop offset="0.2218" stop-color="#0000ff"/><stop offset="0.2273" stop-color="#000aff"/><stop offset="0.2534" stop-color="#005fff"/><stop offset="0.2763" stop-color="#00a6ff"/><stop offset="0.2992" stop-color="#00e9ff"/><stop offset="0.3062" stop-color="#00ffff"/><stop offset="0.3187" stop-color="#26ffd9"/><stop offset="0.3416" stop-color="#71ff8e"/><stop offset="0.3612" stop-color="#aeff51"/><stop offset="0.3873" stop-color="#f5ff0a"/><stop offset="0.3906" stop-color="#ffff00"/><stop offset="0.4069" stop-color="#ffce00"/><stop offset="0.4265" stop-color="#ff9d00"/><stop offset="0.4396" stop-color="#ff8400"/><stop offset="0.4526" stop-color="#ff6d00"/><stop offset="0.4657" stop-color="#ff5e00"/><stop offset="0.4853" stop-color="#ff4f00"/><stop offset="0.5049" stop-color="#ff4a00"/><stop offset="0.5245" stop-color="#ff4f00"/><stop offset="0.5441" stop-color="#ff5e00"/><stop offset="0.5572" stop-color="#ff6d00"/><stop offset="0.5702" stop-color="#ff8400"/><stop offset="0.5833" stop-color="#ff9d00"/><stop offset="0.6029" stop-color="#ffce00"/><stop offset="0.6192" stop-color="#ffff00"/><stop offset="0.6225" stop-color="#f5ff0a"/><stop offset="0.6486" stop-color="#aeff51"/><stop offset="0.6682" stop-color="#71ff8e"/><stop offset="0.6911" stop-color="#27ffd8"/><stop offset="0.7042" stop-color="#00ffff"/><stop offset="0.7106" stop-color="#00ecff"/><stop offset="0.7335" stop-color="#00abff"/><stop offset="0.7564" stop-color="#0067ff"/><stop offset="0.7825" stop-color="#0015ff"/><stop offset="0.7925" stop-color="#0000ff"/><stop offset="0.8086" stop-color="#0000dd"/><stop offset="0.8347" stop-color="#0000c1"/><stop offset="0.8707" stop-color="#0000b0"/><stop offset="0.9295" stop-color="#0000aa"/><stop offset="1.0000" stop-color="#0000a9"/></linearGradient>
<linearGradient id="g55" gradientUnits="userSpaceOnUse" x1="28.4" x2="334.6" y1="0" y2="0"><stop offset="0.0000" stop-color="#0000ad"/><stop offset="0.0803" stop-color="#0000ad"/><stop offset="0.1391" stop-color="#0000b2"/><stop offset="0.1750" stop-color="#0000c1"/><stop offset="0.2012" stop-color="#0000db"/><stop offset="0.2201" stop-color="#0000ff"/><stop offset="0.2273" stop-color="#000eff"/><stop offset="0.2534" stop-color="#0062ff"/><stop offset="0.2763" stop-color="#00a9ff"/><stop offset="0.2992" stop-color="#00ecff"/><stop offset="0.3052" stop-color="#00ffff"/><stop offset="0.3187" stop-color="#2affd5"/><stop offset="0.3416" stop-color="#74ff8b"/><stop offset="0.3612" stop-color="#b1ff4e"/><stop offset="0.3873" stop-color="#f8ff07"/><stop offset="0.3896" stop-color="#ffff00"/><stop offset="0.4069" stop-color="#ffcb00"/><stop offset="0.4265" stop-color="#ff9a00"/><stop offset="0.4396" stop-color="#ff8100"/><stop offset="0.4526" stop-color="#ff6a00"/><stop offset="0.4657" stop-color="#ff5b00"/><stop offset="0.4853" stop-color="#ff4c00"/><stop offset="0.5049" stop-color="#ff4700"/><stop offset="0.5245" stop-color="#ff4c00"/><stop offset="0.5441" stop-color="#ff5b00"/><stop offset="0.5572" stop-color="#ff6a00"/><stop offset="0.5702" stop-color="#ff8100"/><stop offset="0.5833" stop-color="#ff9a00"/><stop offset="0.6029" stop-color="#ffcb00"/><stop offset="0.6202" stop-color="#ffff00"/><stop offset="0.6225" stop-color="#f8ff07"/><stop offset="0.6486" stop-color="#b1ff4e"/><stop offset="0.6682" stop-color="#74ff8b"/><stop offset="0.6911" stop-color="#2affd5"/><stop offset="0.7053" stop-color="#00ffff"/><stop offset="0.7106" stop-color="#00efff"/><stop offset="0.7335" stop-color="#00aeff"/><stop offset="0.7564" stop-color="#006aff"/><stop offset="0.7825" stop-color="#0018ff"/><stop offset="0.7940" stop-color="#0000ff"/><stop offset="0.8086" stop-color="#0000e0"/><stop offset="0.8347" stop-color="#0000c4"/><stop offset="0.8707" stop-color="#0000b3"/><stop offset="0.9295" stop-color="#0000ad"/><stop offset="1.0000" stop-color="#0000ad"/></linearGradient>
<linearGradient id="g56" gradientUnits="userSpaceOnUse" x1="28.4" x2="334.6" y1="0" y2="0"><stop offset="0.0000" stop-color="#0000aa"/><stop offset="0.0803" stop-color="#0000aa"/><stop offset="0.1391" stop-color="#0000b0"/><stop offset="0.1750" stop-color="#0000bf"/><stop offset="0.2012" stop-color="#0000d9"/><stop offset="0.2212" stop-color="#0000ff"/><stop offset="0.2273" stop-color="#000cff"/><stop offset="0.2534" stop-color="#0061ff"/><stop offset="0.2763" stop-color="#00a9ff"/><stop offset="0.2992" stop-color="#00edff"/><stop offset="0.3051" stop-color="#00ffff"/><stop offset="0.3187" stop-color="#2affd5"/><stop offset="0.3416" stop-color="#76ff89"/><stop offset="0.3612" stop-color="#b3ff4c"/><stop offset="0.3873" stop-color="#fbff04"/><stop offset="0.3886" stop-color="#ffff00"/><stop offset="0.4069" stop-color="#ffc700"/><stop offset="0.4265" stop-color="#ff9600"/><stop offset="0.4396" stop-color="#ff7d00"/><stop offset="0.4526" stop-color="#ff6600"/><stop offset="0.4657" stop-color="#ff5700"/><stop offset="0.4853" stop-color="#ff4700"/><stop offset="0.5049" stop-color="#ff4200"/><stop offset="0.5245" stop-color="#ff4700"/><stop offset="0.5441" stop-color="#ff5700"/><stop offset="0.5572" stop-color="#ff6600"/><stop offset="0.5702" stop-color="#ff7d00"/><stop offset="0.5833" stop-color="#ff9600"/><stop offset="0.6029" stop-color="#ffc700"/><stop offset="0.6212" stop-color="#ffff00"/><stop offset="0.6225" stop-color="#fbff04"/><stop offset="0.6486" stop-color="#b3ff4c"/><stop offset="0.6682" stop-color="#76ff89"/><stop offset="0.6911" stop-color="#2bffd4"/><stop offset="0.7054" stop-color="#00ffff"/><stop offset="0.7106" stop-color="#00efff"/><stop offset="0.7335" stop-color="#00aeff"/><stop offset="0.7564" stop-color="#0069ff"/><stop offset="0.7825" stop-color="#0016ff"/><stop offset="0.7930" stop-color="#0000ff"/><stop offset="0.8086" stop-color="#0000de"/><stop offset="0.8347" stop-color="#0000c1"/><stop offset="0.8707" stop-color="#0000b1"/><stop offset="0.9295" stop-color="#0000aa"/><stop offset="1.0000" stop-color="#0000aa"/></linearGradient>
<linearGradient id="g57" gradientUnits="userSpaceOnUse" x1="28.4" x2="334.6" y1="0" y2="0"><stop offset="0.0000" stop-color="#0000a8"/><stop offset="0.0803" stop-color="#0000a8"/><stop offset="0.1391" stop-color="#0000ae"/><stop offset="0.1750" stop-color="#0000bd"/><stop offset="0.2012" stop-color="#0000d8"/><stop offset="0.2212" stop-color="#0000ff"/><stop offset="0.2273" stop-color="#000cff"/><stop offset="0.2534" stop-color="#0063ff"/><stop offset="0.2763" stop-color="#00acff"/><stop offset="0.2992" stop-color="#00f0ff"/><stop offset="0.3038" stop-color="#00ffff"/><stop offset="0.3187" stop-color="#2fffd0"/><stop offset="0.3416" stop-color="#7cff83"/><stop offset="0.3612" stop-color="#bbff44"/><stop offset="0.3857" stop-color="#ffff00"/><stop offset="0.3873" stop-color="#fffb00"/><stop offset="0.4069" stop-color="#ffbe00"/><stop offset="0.4265" stop-color="#ff8c00"/><stop offset="0.4396" stop-color="#ff7200"/><stop offset="0.4526" stop-color="#ff5b00"/><stop offset="0.4657" stop-color="#ff4b00"/><stop offset="0.4853" stop-color="#ff3c00"/><stop offset="0.5049" stop-color="#ff3700"/><stop offset="0.5245" stop-color="#ff3c00"/><stop offset="0.5441" stop-color="#ff4b00"/><stop offset="0.5572" stop-color="#ff5b00"/><stop offset="0.5702" stop-color="#ff7200"/><stop offset="0.5833" stop-color="#ff8c00"/><stop offset="0.6029" stop-color="#ffbe00"/><stop offset="0.6225" stop-color="#fffb00"/><stop offset="0.6241" stop-color="#ffff00"/><stop offset="0.6486" stop-color="#bbff44"/><stop offset="0.6682" stop-color="#7cff83"/><stop offset="0.6911" stop-color="#30ffcf"/><stop offset="0.7068" stop-color="#00ffff"/><stop offset="0.7106" stop-color="#00f3ff"/><stop offset="0.7335" stop-color="#00b1ff"/><stop offset="0.7564" stop-color="#006bff"/><stop offset="0.7825" stop-color="#0017ff"/><stop offset="0.7930" stop-color="#0000ff"/><stop offset="0.8086" stop-color="#0000dd"/><stop offset="0.8347" stop-color="#0000c0"/><stop offset="0.8707" stop-color="#0000af"/><stop offset="0.9295" stop-color="#0000a9"/><stop offset="1.0000" stop-color="#0000a8"/></linearGradient>
<linearGradient id="g58" gradientUnits="userSpaceOnUse" x1="28.4" x2="334.6" y1="0" y2="0"><stop offset="0.0000" stop-color="#0000a8"/><stop offset="0.0803" stop-color="#0000a8"/><stop offset="0.1391" stop-color="#0000ad"/><stop offset="0.1750" stop-color="#0000bc"/><stop offset="0.2012" stop-color="#0000d5"/><stop offset="0.2238" stop-color="#0000ff"/><stop offset="0.2273" stop-color="#0006ff"/><stop offset="0.2534" stop-color="#0059ff"/><stop offset="0.2763" stop-color="#009fff"/><stop offset="0.2992" stop-color="#00e0ff"/><stop offset="0.3094" stop-color="#00ffff"/><stop offset="0.3187" stop-color="#1cffe3"/><stop offset="0.3416" stop-color="#65ff9a"/><stop offset="0.3612" stop-color="#a1ff5e"/><stop offset="0.3873" stop-color="#e6ff19"/><stop offset="0.3958" stop-color="#ffff00"/><stop offset="0.4069" stop-color="#ffde00"/><stop offset="0.4265" stop-color="#ffaf00"/><stop offset="0.4396" stop-color="#ff9600"/><stop offset="0.4526" stop-color="#ff8000"/><stop offset="0.4657" stop-color="#ff7100"/><stop offset="0.4853" stop-color="#ff6200"/><stop offset="0.5049" stop-color="#ff5d00"/><stop offset="0.5245" stop-color="#ff6200"/><stop offset="0.5441" stop-color="#ff7100"/><stop offset="0.5572" stop-color="#ff8000"/><stop offset="0.5702" stop-color="#ff9600"/><stop offset="0.5833" stop-color="#ffaf00"/><stop offset="0.6029" stop-color="#ffde00"/><stop offset="0.6140" stop-color="#ffff00"/><stop offset="0.6225" stop-color="#e6ff19"/><stop offset="0.6486" stop-color="#a1ff5e"/><stop offset="0.6682" stop-color="#65ff9a"/><stop offset="0.6911" stop-color="#1dffe2"/><stop offset="0.7010" stop-color="#00ffff"/><stop offset="0.7106" stop-color="#00e3ff"/><stop offset="0.7335" stop-color="#00a4ff"/><stop offset="0.7564" stop-color="#0061ff"/><stop offset="0.7825" stop-color="#0011ff"/><stop offset="0.7907" stop-color="#0000ff"/><stop offset="0.8086" stop-color="#0000da"/><stop offset="0.8347" stop-color="#0000be"/><stop offset="0.8707" stop-color="#0000ae"/><stop offset="0.9295" stop-color="#0000a8"/><stop offset="1.0000" stop-color="#0000a8"/></linearGradient>
<linearGradient id="g59" gradientUnits="userSpaceOnUse" x1="28.4" x2="334.6" y1="0" y2="0"><stop offset="0.0000" stop-color="#0000a9"/><stop offset="0.0803" stop-color="#0000a9"/><stop offset="0.1391" stop-color="#0000ae"/><stop offset="0.1750" stop-color="#0000bd"/><stop offset="0.2012" stop-color="#0000d7"/><stop offset="0.2223" stop-color="#0000ff"/><stop offset="0.2273" stop-color="#000aff"/><stop offset="0.2534" stop-color="#005eff"/><stop offset="0.2763" stop-color="#00a5ff"/><stop offset="0.2992" stop-color="#00e8ff"/><stop offset="0.3066" stop-color="#00ffff"/><stop offset="0.3187" stop-color="#25ffda"/><stop offset="0.3416" stop-color="#70ff8f"/><stop offset="0.3612" stop-color="#adff52"/><stop offset="0.3873" stop-color="#f4ff0b"/><stop offset="0.3911" stop-color="#ffff00"/><stop offset="0.4069" stop-color="#ffcf00"/><stop offset="0.4265" stop-color="#ff9f00"/><stop offset="0.4396" stop-color="#ff8500"/><stop offset="0.4526" stop-color="#ff6f00"/><stop offset="0.4657" stop-color="#ff6000"/><stop offset="0.4853" stop-color="#ff5100"/><stop offset="0.5049" stop-color="#ff4c00"/><stop offset="0.5245" stop-color="#ff5100"/><stop offset="0.5441" stop-color="#ff6000"/><stop offset="0.5572" stop-color="#ff6f00"/><stop offset="0.5702" stop-color="#ff8500"/><stop offset="0.5833" stop-color="#ff9f00"/><stop offset="0.6029" stop-color="#ffcf00"/><stop offset="0.6187" stop-color="#ffff00"/><stop offset="0.6225" stop-color="#f4ff0b"/><stop offset="0.6486" stop-color="#adff52"/><stop offset="0.6682" stop-color="#70ff8f"/><stop offset="0.6911" stop-color="#26ffd9"/><stop offset="0.7038" stop-color="#00ffff"/><stop offset="0.7106" stop-color="#00ebff"/><stop offset="0.7335" stop-color="#00aaff"/><stop offset="0.7564" stop-color="#0066ff"/><stop offset="0.7825" stop-color="#0014ff"/><stop offset="0.7921" stop-color="#0000ff"/><stop offset="0.8086" stop-color="#0000dc"/><stop offset="0.8347" stop-color="#0000c0"/><stop offset="0.8707" stop-color="#0000af"/><stop offset="0.9295" stop-color="#0000a9"/><stop offset="1.0000" stop-color="#0000a9"/></linearGradient>
<linearGradient id="g60" gradientUnits="userSpaceOnUse" x1="28.4" x2="334.6" y1="0" y2="0"><stop offset="0.0000" stop-color="#0000a1"/><stop offset="0.0803" stop-color="#0000a1"/><stop offset="0.1391" stop-color="#0000a7"/><stop offset="0.1750" stop-color="#0000b5"/><stop offset="0.2012" stop-color="#0000cf"/><stop offset="0.2267" stop-color="#0000ff"/><stop offset="0.2273" stop-color="#0001ff"/><stop offset="0.2534" stop-color="#0055ff"/><stop offset="0.2763" stop-color="#009cff"/><stop offset="0.2992" stop-color="#00deff"/><stop offset="0.3099" stop-color="#00ffff"/><stop offset="0.3187" stop-color="#1bffe4"/><stop offset="0.3416" stop-color="#65ff9a"/><stop offset="0.3612" stop-color="#a1ff5e"/><stop offset="0.3873" stop-color="#e8ff17"/><stop offset="0.3951" stop-color="#ffff00"/><stop offset="0.4069" stop-color="#ffdc00"/><stop offset="0.4265" stop-color="#ffab00"/><stop offset="0.4396" stop-color="#ff9200"/><stop offset="0.4526" stop-color="#ff7c00"/><stop offset="0.4657" stop-color="#ff6d00"/><stop offset="0.4853" stop-color="#ff5e00"/><stop offset="0.5049" stop-color="#ff5900"/><stop offset="0.5245" stop-color="#ff5e00"/><stop offset="0.5441" stop-color="#ff6d00"/><stop offset="0.5572" stop-color="#ff7c00"/><stop offset="0.5702" stop-color="#ff9200"/><stop offset="0.5833" stop-color="#ffab00"/><stop offset="0.6029" stop-color="#ffdc00"/><stop offset="0.6147" stop-color="#ffff00"/><stop offset="0.6225" stop-color="#e8ff17"/><stop offset="0.6486" stop-color="#a1ff5e"/><stop offset="0.6682" stop-color="#65ff9a"/><stop offset="0.6911" stop-color="#1cffe3"/><stop offset="0.7004" stop-color="#00ffff"/><stop offset="0.7106" stop-color="#00e1ff"/><stop offset="0.7335" stop-color="#00a1ff"/><stop offset="0.7564" stop-color="#005dff"/><stop offset="0.7825" stop-color="#000cff"/><stop offset="0.7881" stop-color="#0000ff"/><stop offset="0.8086" stop-color="#0000d4"/><stop offset="0.8347" stop-color="#0000b8"/><stop offset="0.8707" stop-color="#0000a8"/><stop offset="0.9295" stop-color="#0000a1"/><stop offset="1.0000" stop-color="#0000a1"/></linearGradient>
<linearGradient id="g61" gradientUnits="userSpaceOnUse" x1="28.4" x2="334.6" y1="0" y2="0"><stop offset="0.0000" stop-color="#0000a7"/><stop offset="0.0803" stop-color="#0000a8"/><stop offset="0.1391" stop-color="#0000ad"/><stop offset="0.1750" stop-color="#0000bc"/><stop offset="0.2012" stop-color="#0000d6"/><stop offset="0.2229" stop-color="#0000ff"/><stop offset="0.2273" stop-color="#0008ff"/><stop offset="0.2534" stop-color="#005cff"/><stop offset="0.2763" stop-color="#00a3ff"/><stop offset="0.2992" stop-color="#00e6ff"/><stop offset="0.3072" stop-color="#00ffff"/><stop offset="0.3187" stop-color="#23ffdc"/><stop offset="0.3416" stop-color="#6eff91"/><stop offset="0.3612" stop-color="#aaff55"/><stop offset="0.3873" stop-color="#f1ff0e"/><stop offset="0.3919" stop-color="#ffff00"/><stop offset="0.4069" stop-color="#ffd200"/><stop offset="0.4265" stop-color="#ffa200"/><stop offset="0.4396" stop-color="#ff8800"/><stop offset="0.4526" stop-color="#ff7200"/><stop offset="0.4657" stop-color="#ff6300"/><stop offset="0.4853" stop-color="#ff5400"/><stop offset="0.5049" stop-color="#ff4f00"/><stop offset="0.5245" stop-color="#ff5400"/><stop offset="0.5441" stop-color="#ff6300"/><stop offset="0.5572" stop-color="#ff7200"/><stop offset="0.5702" stop-color="#ff8800"/><stop offset="0.5833" stop-color="#ffa200"/><stop offset="0.6029" stop-color="#ffd200"/><stop offset="0.6178" stop-color="#ffff00"/><stop offset="0.6225" stop-color="#f1ff0e"/><stop offset="0.6486" stop-color="#aaff55"/><stop offset="0.6682" stop-color="#6eff91"/><stop offset="0.6911" stop-color="#24ffdb"/><stop offset="0.7032" stop-color="#00ffff"/><stop offset="0.7106" stop-color="#00e9ff"/><stop offset="0.7335" stop-color="#00a8ff"/><stop offset="0.7564" stop-color="#0065ff"/><stop offset="0.7825" stop-color="#0013ff"/><stop offset="0.7915" stop-color="#0000ff"/><stop offset="0.8086" stop-color="#0000db"/><stop offset="0.8347" stop-color="#0000bf"/><stop offset="0.8707" stop-color="#0000ae"/><stop offset="0.9295" stop-color="#0000a8"/><stop offset="1.0000" stop-color="#0000a7"/></linearGradient>
<linearGradient id="g62" gradientUnits="userSpaceOnUse" x1="28.4" x2="334.6" y1="0" y2="0"><stop offset="0.0000" stop-color="#0000a5"/><stop offset="0.0803" stop-color="#0000a6"/><stop offset="0.1391" stop-color="#0000ab"/><stop offset="0.1750" stop-color="#0000ba"/><stop offset="0.2012" stop-color="#0000d4"/><stop offset="0.2238" stop-color="#0000ff"/><stop offset="0.2273" stop-color="#0007ff"/><stop offset="0.2534" stop-color="#005bff"/><stop offset="0.2763" stop-color="#00a2ff"/><stop offset="0.2992" stop-color="#00e6ff"/><stop offset="0.3074" stop-color="#00ffff"/><stop offset="0.3187" stop-color="#23ffdc"/><stop offset="0.3416" stop-color="#6eff91"/><stop offset="0.3612" stop-color="#abff54"/><stop offset="0.3873" stop-color="#f2ff0d"/><stop offset="0.3918" stop-color="#ffff00"/><stop offset="0.4069" stop-color="#ffd100"/><stop offset="0.4265" stop-color="#ffa100"/><stop offset="0.4396" stop-color="#ff8700"/><stop offset="0.4526" stop-color="#ff7100"/><stop offset="0.4657" stop-color="#ff6200"/><stop offset="0.4853" stop-color="#ff5200"/><stop offset="0.5049" stop-color="#ff4d00"/><stop offset="0.5245" stop-color="#ff5200"/><stop offset="0.5441" stop-color="#ff6200"/><stop offset="0.5572" stop-color="#ff7100"/><stop offset="0.5702" stop-color="#ff8700"/><stop offset="0.5833" stop-color="#ffa100"/><stop offset="0.6029" stop-color="#ffd100"/><stop offset="0.6180" stop-color="#ffff00"/><stop offset="0.6225" stop-color="#f2ff0d"/><stop offset="0.6486" stop-color="#abff54"/><stop offset="0.6682" stop-color="#6eff91"/><stop offset="0.6911" stop-color="#24ffdb"/><stop offset="0.7030" stop-color="#00ffff"/><stop offset="0.7106" stop-color="#00e8ff"/><stop offset="0.7335" stop-color="#00a7ff"/><stop offset="0.7564" stop-color="#0063ff"/><stop offset="0.7825" stop-color="#0011ff"/><stop offset="0.7907" stop-color="#0000ff"/><stop offset="0.8086" stop-color="#0000d9"/><stop offset="0.8347" stop-color="#0000bd"/><stop offset="0.8707" stop-color="#0000ac"/><stop offset="0.9295" stop-color="#0000a6"/><stop offset="1.0000" stop-color="#0000a5"/></linearGradient>
<linearGradient id="g63" gradientUnits="userSpaceOnUse" x1="28.4" x2="334.6" y1="0" y2="0"><stop offset="0.0000" stop-color="#0000aa"/><stop offset="0.0803" stop-color="#0000aa"/><stop offset="0.1391" stop-color="#0000b0"/><stop offset="0.1750" stop-color="#0000bf"/><stop offset="0.2012" stop-color="#0000d9"/><stop offset="0.2207" stop-color="#0000ff"/><stop offset="0.2273" stop-color="#000dff"/><stop offset="0.2534" stop-color="#0063ff"/><stop offset="0.2763" stop-color="#00abff"/><stop offset="0.2992" stop-color="#00f0ff"/><stop offset="0.3040" stop-color="#00ffff"/><stop offset="0.3187" stop-color="#2effd1"/><stop offset="0.3416" stop-color="#7aff85"/><stop offset="0.3612" stop-color="#b8ff47"/><stop offset="0.3867" stop-color="#ffff00"/><stop offset="0.3873" stop-color="#fffd00"/><stop offset="0.4069" stop-color="#ffc100"/><stop offset="0.4265" stop-color="#ff8f00"/><stop offset="0.4396" stop-color="#ff7600"/><stop offset="0.4526" stop-color="#ff5f00"/><stop offset="0.4657" stop-color="#ff4f00"/><stop offset="0.4853" stop-color="#ff4000"/><stop offset="0.5049" stop-color="#ff3b00"/><stop offset="0.5245" stop-color="#ff4000"/><stop offset="0.5441" stop-color="#ff4f00"/><stop offset="0.5572" stop-color="#ff5f00"/><stop offset="0.5702" stop-color="#ff7600"/><stop offset="0.5833" stop-color="#ff8f00"/><stop offset="0.6029" stop-color="#ffc100"/><stop offset="0.6225" stop-color="#fffd00"/><stop offset="0.6231" stop-color="#ffff00"/><stop offset="0.6486" stop-color="#b8ff47"/><stop offset="0.6682" stop-color="#7aff85"/><stop offset="0.6911" stop-color="#2fffd0"/><stop offset="0.7065" stop-color="#00ffff"/><stop offset="0.7106" stop-color="#00f2ff"/><stop offset="0.7335" stop-color="#00b1ff"/><stop offset="0.7564" stop-color="#006bff"/><stop offset="0.7825" stop-color="#0018ff"/><stop offset="0.7935" stop-color="#0000ff"/><stop offset="0.8086" stop-color="#0000df"/><stop offset="0.8347" stop-color="#0000c2"/><stop offset="0.8707" stop-color="#0000b1"/><stop offset="0.9295" stop-color="#0000aa"/><stop offset="1.0000" stop-color="#0000aa"/></linearGradient>
<linearGradient id="g64" gradientUnits="userSpaceOnUse" x1="28.4" x2="334.6" y1="0" y2="0"><stop offset="0.0000" stop-color="#0000aa"/><stop offset="0.0803" stop-color="#0000aa"/><stop offset="0.1391" stop-color="#0000b0"/><stop offset="0.1750" stop-color="#0000bf"/><stop offset="0.2012" stop-color="#0000db"/><stop offset="0.2197" stop-color="#0000ff"/><stop offset="0.2273" stop-color="#000fff"/><stop offset="0.2534" stop-color="#0067ff"/><stop offset="0.2763" stop-color="#00b1ff"/><stop offset="0.2992" stop-color="#00f7ff"/><stop offset="0.3017" stop-color="#00ffff"/><stop offset="0.3187" stop-color="#36ffc9"/><stop offset="0.3416" stop-color="#84ff7b"/><stop offset="0.3612" stop-color="#c4ff3b"/><stop offset="0.3822" stop-color="#ffff00"/><stop offset="0.3873" stop-color="#fff000"/><stop offset="0.4069" stop-color="#ffb300"/><stop offset="0.4265" stop-color="#ff8000"/><stop offset="0.4396" stop-color="#ff6600"/><stop offset="0.4526" stop-color="#ff4f00"/><stop offset="0.4657" stop-color="#ff3f00"/><stop offset="0.4853" stop-color="#ff2f00"/><stop offset="0.5049" stop-color="#ff2a00"/><stop offset="0.5245" stop-color="#ff2f00"/><stop offset="0.5441" stop-color="#ff3f00"/><stop offset="0.5572" stop-color="#ff4f00"/><stop offset="0.5702" stop-color="#ff6600"/><stop offset="0.5833" stop-color="#ff8000"/><stop offset="0.6029" stop-color="#ffb300"/><stop offset="0.6225" stop-color="#fff000"/><stop offset="0.6276" stop-color="#ffff00"/><stop offset="0.6486" stop-color="#c4ff3b"/><stop offset="0.6682" stop-color="#84ff7b"/><stop offset="0.6911" stop-color="#37ffc8"/><stop offset="0.7089" stop-color="#00ffff"/><stop offset="0.7106" stop-color="#00faff"/><stop offset="0.7335" stop-color="#00b6ff"/><stop offset="0.7564" stop-color="#006fff"/><stop offset="0.7825" stop-color="#001aff"/><stop offset="0.7944" stop-color="#0000ff"/><stop offset="0.8086" stop-color="#0000e0"/><stop offset="0.8347" stop-color="#0000c2"/><stop offset="0.8707" stop-color="#0000b1"/><stop offset="0.9295" stop-color="#0000ab"/><stop offset="1.0000" stop-color="#0000aa"/></linearGradient>
<linearGradient id="g65" gradientUnits="userSpaceOnUse" x1="28.4" x2="334.6" y1="0" y2="0"><stop offset="0.0000" stop-color="#0000a3"/><stop offset="0.0803" stop-color="#0000a3"/><stop offset="0.1391" stop-color="#0000a8"/><stop offset="0.1750" stop-color="#0000b7"/><stop offset="0.2012" stop-color="#0000d2"/><stop offset="0.2250" stop-color="#0000ff"/><stop offset="0.2273" stop-color="#0004ff"/><stop offset="0.2534" stop-color="#005aff"/><stop offset="0.2763" stop-color="#00a1ff"/><stop offset="0.2992" stop-color="#00e5ff"/><stop offset="0.3075" stop-color="#00ffff"/><stop offset="0.3187" stop-color="#23ffdc"/><stop offset="0.3416" stop-color="#6eff91"/><stop offset="0.3612" stop-color="#acff53"/><stop offset="0.3873" stop-color="#f3ff0c"/><stop offset="0.3912" stop-color="#ffff00"/><stop offset="0.4069" stop-color="#ffcf00"/><stop offset="0.4265" stop-color="#ff9e00"/><stop offset="0.4396" stop-color="#ff8500"/><stop offset="0.4526" stop-color="#ff6e00"/><stop offset="0.4657" stop-color="#ff5f00"/><stop offset="0.4853" stop-color="#ff4f00"/><stop offset="0.5049" stop-color="#ff4a00"/><stop offset="0.5245" stop-color="#ff4f00"/><stop offset="0.5441" stop-color="#ff5f00"/><stop offset="0.5572" stop-color="#ff6e00"/><stop offset="0.5702" stop-color="#ff8500"/><stop offset="0.5833" stop-color="#ff9e00"/><stop offset="0.6029" stop-color="#ffcf00"/><stop offset="0.6186" stop-color="#ffff00"/><stop offset="0.6225" stop-color="#f3ff0c"/><stop offset="0.6486" stop-color="#acff53"/><stop offset="0.6682" stop-color="#6eff91"/><stop offset="0.6911" stop-color="#24ffdb"/><stop offset="0.7029" stop-color="#00ffff"/><stop offset="0.7106" stop-color="#00e8ff"/><stop offset="0.7335" stop-color="#00a7ff"/><stop offset="0.7564" stop-color="#0062ff"/><stop offset="0.7825" stop-color="#000fff"/><stop offset="0.7896" stop-color="#0000ff"/><stop offset="0.8086" stop-color="#0000d7"/><stop offset="0.8347" stop-color="#0000ba"/><stop offset="0.8707" stop-color="#0000aa"/><stop offset="0.9295" stop-color="#0000a3"/><stop offset="1.0000" stop-color="#0000a3"/></linearGradient>
<linearGradient id="g66" gradientUnits="userSpaceOnUse" x1="28.4" x2="334.6" y1="0" y2="0"><stop offset="0.0000" stop-color="#0000ab"/><stop offset="0.0803" stop-color="#0000ac"/><stop offset="0.1391" stop-color="#0000b1"/><stop offset="0.1750" stop-color="#0000c0"/><stop offset="0.2012" stop-color="#0000da"/><stop offset="0.2210" stop-color="#0000ff"/><stop offset="0.2273" stop-color="#000cff"/><stop offset="0.2534" stop-color="#0060ff"/><stop offset="0.2763" stop-color="#00a6ff"/><stop offset="0.2992" stop-color="#00e9ff"/><stop offset="0.3063" stop-color="#00ffff"/><stop offset="0.3187" stop-color="#26ffd9"/><stop offset="0.3416" stop-color="#70ff8f"/><stop offset="0.3612" stop-color="#adff52"/><stop offset="0.3873" stop-color="#f3ff0c"/><stop offset="0.3913" stop-color="#ffff00"/><stop offset="0.4069" stop-color="#ffd000"/><stop offset="0.4265" stop-color="#ffa000"/><stop offset="0.4396" stop-color="#ff8700"/><stop offset="0.4526" stop-color="#ff7100"/><stop offset="0.4657" stop-color="#ff6200"/><stop offset="0.4853" stop-color="#ff5200"/><stop offset="0.5049" stop-color="#ff4d00"/><stop offset="0.5245" stop-color="#ff5200"/><stop offset="0.5441" stop-color="#ff6200"/><stop offset="0.5572" stop-color="#ff7100"/><stop offset="0.5702" stop-color="#ff8700"/><stop offset="0.5833" stop-color="#ffa000"/><stop offset="0.6029" stop-color="#ffd000"/><stop offset="0.6185" stop-color="#ffff00"/><stop offset="0.6225" stop-color="#f3ff0c"/><stop offset="0.6486" stop-color="#adff52"/><stop offset="0.6682" stop-color="#70ff8f"/><stop offset="0.6911" stop-color="#27ffd8"/><stop offset="0.7041" stop-color="#00ffff"/><stop offset="0.7106" stop-color="#00ecff"/><stop offset="0.7335" stop-color="#00abff"/><stop offset="0.7564" stop-color="#0068ff"/><stop offset="0.7825" stop-color="#0016ff"/><stop offset="0.7932" stop-color="#0000ff"/><stop offset="0.8086" stop-color="#0000df"/><stop offset="0.8347" stop-color="#0000c3"/><stop offset="0.8707" stop-color="#0000b2"/><stop offset="0.9295" stop-color="#0000ac"/><stop offset="1.0000" stop-color="#0000ab"/></linearGradient>
<linearGradient id="g67" gradientUnits="userSpaceOnUse" x1="28.4" x2="334.6" y1="0" y2="0"><stop offset="0.0000" stop-color="#0000a5"/><stop offset="0.0803" stop-color="#0000a6"/><stop offset="0.1391" stop-color="#0000ab"/><stop offset="0.1750" stop-color="#0000ba"/><stop offset="0.2012" stop-color="#0000d5"/><stop offset="0.2234" stop-color="#0000ff"/><stop offset="0.2273" stop-color="#0007ff"/><stop offset="0.2534" stop-color="#005dff"/><stop offset="0.2763" stop-color="#00a5ff"/><stop offset="0.2992" stop-color="#00e9ff"/><stop offset="0.3063" stop-color="#00ffff"/><stop offset="0.3187" stop-color="#27ffd8"/><stop offset="0.3416" stop-color="#72ff8d"/><stop offset="0.3612" stop-color="#b0ff4f"/><stop offset="0.3873" stop-color="#f8ff07"/><stop offset="0.3897" stop-color="#ffff00"/><stop offset="0.4069" stop-color="#ffcb00"/><stop offset="0.4265" stop-color="#ff9900"/><stop offset="0.4396" stop-color="#ff8000"/><stop offset="0.4526" stop-color="#ff6900"/><stop offset="0.4657" stop-color="#ff5a00"/><stop offset="0.4853" stop-color="#ff4a00"/><stop offset="0.5049" stop-color="#ff4500"/><stop offset="0.5245" stop-color="#ff4a00"/><stop offset="0.5441" stop-color="#ff5a00"/><stop offset="0.5572" stop-color="#ff6900"/><stop offset="0.5702" stop-color="#ff8000"/><stop offset="0.5833" stop-color="#ff9900"/><stop offset="0.6029" stop-color="#ffcb00"/><stop offset="0.6201" stop-color="#ffff00"/><stop offset="0.6225" stop-color="#f8ff07"/><stop offset="0.6486" stop-color="#b0ff4f"/><stop offset="0.6682" stop-color="#72ff8d"/><stop offset="0.6911" stop-color="#28ffd7"/><stop offset="0.7042" stop-color="#00ffff"/><stop offset="0.7106" stop-color="#00ebff"/><stop offset="0.7335" stop-color="#00aaff"/><stop offset="0.7564" stop-color="#0065ff"/><stop offset="0.7825" stop-color="#0012ff"/><stop offset="0.7910" stop-color="#0000ff"/><stop offset="0.8086" stop-color="#0000da"/><stop offset="0.8347" stop-color="#0000bd"/><stop offset="0.8707" stop-color="#0000ac"/><stop offset="0.9295" stop-color="#0000a6"/><stop offset="1.0000" stop-color="#0000a5"/></linearGradient>
<linearGradient id="g68" gradientUnits="userSpaceOnUse" x1="28.4" x2="334.6" y1="0" y2="0"><stop offset="0.0000" stop-color="#0000a8"/><stop offset="0.0803" stop-color="#0000a9"/><stop offset="0.1391" stop-color="#0000ae"/><stop offset="0.1750" stop-color="#0000bd"/><stop offset="0.2012" stop-color="#0000d8"/><stop offset="0.2214" stop-color="#0000ff"/><stop offset="0.2273" stop-color="#000bff"/><stop offset="0.2534" stop-color="#0062ff"/><stop offset="0.2763" stop-color="#00abff"/><stop offset="0.2992" stop-color="#00efff"/><stop offset="0.3042" stop-color="#00ffff"/><stop offset="0.3187" stop-color="#2effd1"/><stop offset="0.3416" stop-color="#7aff85"/><stop offset="0.3612" stop-color="#b9ff46"/><stop offset="0.3865" stop-color="#ffff00"/><stop offset="0.3873" stop-color="#fffd00"/><stop offset="0.4069" stop-color="#ffc100"/><stop offset="0.4265" stop-color="#ff8f00"/><stop offset="0.4396" stop-color="#ff7500"/><stop offset="0.4526" stop-color="#ff5e00"/><stop offset="0.4657" stop-color="#ff4e00"/><stop offset="0.4853" stop-color="#ff3f00"/><stop offset="0.5049" stop-color="#ff3a00"/><stop offset="0.5245" stop-color="#ff3f00"/><stop offset="0.5441" stop-color="#ff4e00"/><stop offset="0.5572" stop-color="#ff5e00"/><stop offset="0.5702" stop-color="#ff7500"/><stop offset="0.5833" stop-color="#ff8f00"/><stop offset="0.6029" stop-color="#ffc100"/><stop offset="0.6225" stop-color="#fffd00"/><stop offset="0.6233" stop-color="#ffff00"/><stop offset="0.6486" stop-color="#b9ff46"/><stop offset="0.6682" stop-color="#7aff85"/><stop offset="0.6911" stop-color="#2fffd0"/><stop offset="0.7064" stop-color="#00ffff"/><stop offset="0.7106" stop-color="#00f2ff"/><stop offset="0.7335" stop-color="#00b0ff"/><stop offset="0.7564" stop-color="#006aff"/><stop offset="0.7825" stop-color="#0016ff"/><stop offset="0.7928" stop-color="#0000ff"/><stop offset="0.8086" stop-color="#0000dd"/><stop offset="0.8347" stop-color="#0000c0"/><stop offset="0.8707" stop-color="#0000af"/><stop offset="0.9295" stop-color="#0000a9"/><stop offset="1.0000" stop-color="#0000a8"/></linearGradient>
<linearGradient id="g69" gradientUnits="userSpaceOnUse" x1="28.4" x2="334.6" y1="0" y2="0"><stop offset="0.0000" stop-color="#0000a5"/><stop offset="0.0803" stop-color="#0000a6"/><stop offset="0.1391" stop-color="#0000ab"/><stop offset="0.1750" stop-color="#0000ba"/><stop offset="0.2012" stop-color="#0000d4"/><stop offset="0.2240" stop-color="#0000ff"/><stop offset="0.2273" stop-color="#0006ff"/><stop offset="0.2534" stop-color="#005bff"/><stop offset="0.2763" stop-color="#00a2ff"/><stop offset="0.2992" stop-color="#00e5ff"/><stop offset="0.3077" stop-color="#00ffff"/><stop offset="0.3187" stop-color="#22ffdd"/><stop offset="0.3416" stop-color="#6cff93"/><stop offset="0.3612" stop-color="#a9ff56"/><stop offset="0.3873" stop-color="#f0ff0f"/><stop offset="0.3923" stop-color="#ffff00"/><stop offset="0.4069" stop-color="#ffd300"/><stop offset="0.4265" stop-color="#ffa200"/><stop offset="0.4396" stop-color="#ff8900"/><stop offset="0.4526" stop-color="#ff7300"/><stop offset="0.4657" stop-color="#ff6400"/><stop offset="0.4853" stop-color="#ff5400"/><stop offset="0.5049" stop-color="#ff4f00"/><stop offset="0.5245" stop-color="#ff5400"/><stop offset="0.5441" stop-color="#ff6400"/><stop offset="0.5572" stop-color="#ff7300"/><stop offset="0.5702" stop-color="#ff8900"/><stop offset="0.5833" stop-color="#ffa200"/><stop offset="0.6029" stop-color="#ffd300"/><stop offset="0.6175" stop-color="#ffff00"/><stop offset="0.6225" stop-color="#f0ff0f"/><stop offset="0.6486" stop-color="#a9ff56"/><stop offset="0.6682" stop-color="#6cff93"/><stop offset="0.6911" stop-color="#23ffdc"/><stop offset="0.7027" stop-color="#00ffff"/><stop offset="0.7106" stop-color="#00e7ff"/><stop offset="0.7335" stop-color="#00a7ff"/><stop offset="0.7564" stop-color="#0063ff"/><stop offset="0.7825" stop-color="#0011ff"/><stop offset="0.7905" stop-color="#0000ff"/><stop offset="0.8086" stop-color="#0000d9"/><stop offset="0.8347" stop-color="#0000bd"/><stop offset="0.8707" stop-color="#0000ac"/><stop offset="0.9295" stop-color="#0000a6"/><stop offset="1.0000" stop-color="#0000a5"/></linearGradient>
<linearGradient id="g70" gradientUnits="userSpaceOnUse" x1="28.4" x2="334.6" y1="0" y2="0"><stop offset="0.0000" stop-color="#0000a7"/><stop offset="0.0803" stop-color="#0000a8"/><stop offset="0.1391" stop-color="#0000ad"/><stop offset="0.1750" stop-color="#0000bc"/><stop offset="0.2012" stop-color="#0000d6"/><stop offset="0.2226" stop-color="#0000ff"/><stop offset="0.2273" stop-color="#0009ff"/><stop offset="0.2534" stop-color="#005eff"/><stop offset="0.2763" stop-color="#00a6ff"/><stop offset="0.2992" stop-color="#00e9ff"/><stop offset="0.3062" stop-color="#00ffff"/><stop offset="0.3187" stop-color="#27ffd8"/><stop offset="0.3416" stop-color="#72ff8d"/><stop offset="0.3612" stop-color="#afff50"/><stop offset="0.3873" stop-color="#f7ff08"/><stop offset="0.3901" stop-color="#ffff00"/><stop offset="0.4069" stop-color="#ffcc00"/><stop offset="0.4265" stop-color="#ff9b00"/><stop offset="0.4396" stop-color="#ff8200"/><stop offset="0.4526" stop-color="#ff6b00"/><stop offset="0.4657" stop-color="#ff5c00"/><stop offset="0.4853" stop-color="#ff4d00"/><stop offset="0.5049" stop-color="#ff4700"/><stop offset="0.5245" stop-color="#ff4d00"/><stop offset="0.5441" stop-color="#ff5c00"/><stop offset="0.5572" stop-color="#ff6b00"/><stop offset="0.5702" stop-color="#ff8200"/><stop offset="0.5833" stop-color="#ff9b00"/><stop offset="0.6029" stop-color="#ffcc00"/><stop offset="0.6197" stop-color="#ffff00"/><stop offset="0.6225" stop-color="#f7ff08"/><stop offset="0.6486" stop-color="#afff50"/><stop offset="0.6682" stop-color="#72ff8d"/><stop offset="0.6911" stop-color="#28ffd7"/><stop offset="0.7042" stop-color="#00ffff"/><stop offset="0.7106" stop-color="#00ecff"/><stop offset="0.7335" stop-color="#00abff"/><stop offset="0.7564" stop-color="#0066ff"/><stop offset="0.7825" stop-color="#0014ff"/><stop offset="0.7918" stop-color="#0000ff"/><stop offset="0.8086" stop-color="#0000db"/><stop offset="0.8347" stop-color="#0000bf"/><stop offset="0.8707" stop-color="#0000ae"/><stop offset="0.9295" stop-color="#0000a8"/><stop offset="1.0000" stop-color="#0000a7"/></linearGradient>
<linearGradient id="g71" gradientUnits="userSpaceOnUse" x1="28.4" x2="334.6" y1="0" y2="0"><stop offset="0.0000" stop-color="#0000a0"/><stop offset="0.0803" stop-color="#0000a0"/><stop offset="0.1391" stop-color="#0000a5"/><stop offset="0.1750" stop-color="#0000b4"/><stop offset="0.2012" stop-color="#0000cd"/><stop offset="0.2273" stop-color="#0000fd"/><stop offset="0.2279" stop-color="#0000ff"/><stop offset="0.2534" stop-color="#0050ff"/><stop offset="0.2763" stop-color="#0096ff"/><stop offset="0.2992" stop-color="#00d7ff"/><stop offset="0.3125" stop-color="#00ffff"/><stop offset="0.3187" stop-color="#13ffec"/><stop offset="0.3416" stop-color="#5bffa4"/><stop offset="0.3612" stop-color="#97ff68"/><stop offset="0.3873" stop-color="#dcff23"/><stop offset="0.3993" stop-color="#ffff00"/><stop offset="0.4069" stop-color="#ffe900"/><stop offset="0.4265" stop-color="#ffb900"/><stop offset="0.4396" stop-color="#ffa100"/><stop offset="0.4526" stop-color="#ff8b00"/><stop offset="0.4657" stop-color="#ff7c00"/><stop offset="0.4853" stop-color="#ff6d00"/><stop offset="0.5049" stop-color="#ff6800"/><stop offset="0.5245" stop-color="#ff6d00"/><stop offset="0.5441" stop-color="#ff7c00"/><stop offset="0.5572" stop-color="#ff8b00"/><stop offset="0.5702" stop-color="#ffa100"/><stop offset="0.5833" stop-color="#ffb900"/><stop offset="0.6029" stop-color="#ffe900"/><stop offset="0.6104" stop-color="#ffff00"/><stop offset="0.6225" stop-color="#dcff23"/><stop offset="0.6486" stop-color="#97ff68"/><stop offset="0.6682" stop-color="#5bffa4"/><stop offset="0.6911" stop-color="#13ffec"/><stop offset="0.6978" stop-color="#00ffff"/><stop offset="0.7106" stop-color="#00daff"/><stop offset="0.7335" stop-color="#009bff"/><stop offset="0.7564" stop-color="#0058ff"/><stop offset="0.7825" stop-color="#0008ff"/><stop offset="0.7866" stop-color="#0000ff"/><stop offset="0.8086" stop-color="#0000d2"/><stop offset="0.8347" stop-color="#0000b7"/><stop offset="0.8707" stop-color="#0000a6"/><stop offset="0.9295" stop-color="#0000a0"/><stop offset="1.0000" stop-color="#0000a0"/></linearGradient>
<linearGradient id="g72" gradientUnits="userSpaceOnUse" x1="28.4" x2="334.6" y1="0" y2="0"><stop offset="0.0000" stop-color="#0000a4"/><stop offset="0.0803" stop-color="#0000a4"/><stop offset="0.1391" stop-color="#0000aa"/><stop offset="0.1750" stop-color="#0000b8"/><stop offset="0.2012" stop-color="#0000d2"/><stop offset="0.2251" stop-color="#0000ff"/><stop offset="0.2273" stop-color="#0004ff"/><stop offset="0.2534" stop-color="#0058ff"/><stop offset="0.2763" stop-color="#009eff"/><stop offset="0.2992" stop-color="#00e0ff"/><stop offset="0.3092" stop-color="#00ffff"/><stop offset="0.3187" stop-color="#1dffe2"/><stop offset="0.3416" stop-color="#67ff98"/><stop offset="0.3612" stop-color="#a3ff5c"/><stop offset="0.3873" stop-color="#eaff15"/><stop offset="0.3945" stop-color="#ffff00"/><stop offset="0.4069" stop-color="#ffda00"/><stop offset="0.4265" stop-color="#ffaa00"/><stop offset="0.4396" stop-color="#ff9100"/><stop offset="0.4526" stop-color="#ff7b00"/><stop offset="0.4657" stop-color="#ff6c00"/><stop offset="0.4853" stop-color="#ff5d00"/><stop offset="0.5049" stop-color="#ff5800"/><stop offset="0.5245" stop-color="#ff5d00"/><stop offset="0.5441" stop-color="#ff6c00"/><stop offset="0.5572" stop-color="#ff7b00"/><stop offset="0.5702" stop-color="#ff9100"/><stop offset="0.5833" stop-color="#ffaa00"/><stop offset="0.6029" stop-color="#ffda00"/><stop offset="0.6153" stop-color="#ffff00"/><stop offset="0.6225" stop-color="#eaff15"/><stop offset="0.6486" stop-color="#a3ff5c"/><stop offset="0.6682" stop-color="#67ff98"/><stop offset="0.6911" stop-color="#1effe1"/><stop offset="0.7012" stop-color="#00ffff"/><stop offset="0.7106" stop-color="#00e3ff"/><stop offset="0.7335" stop-color="#00a3ff"/><stop offset="0.7564" stop-color="#0060ff"/><stop offset="0.7825" stop-color="#000fff"/><stop offset="0.7895" stop-color="#0000ff"/><stop offset="0.8086" stop-color="#0000d7"/><stop offset="0.8347" stop-color="#0000bb"/><stop offset="0.8707" stop-color="#0000ab"/><stop offset="0.9295" stop-color="#0000a5"/><stop offset="1.0000" stop-color="#0000a4"/></linearGradient>
<linearGradient id="g73" gradientUnits="userSpaceOnUse" x1="28.4" x2="334.6" y1="0" y2="0"><stop offset="0.0000" stop-color="#0000a4"/><stop offset="0.0803" stop-color="#0000a4"/><stop offset="0.1391" stop-color="#0000a9"/><stop offset="0.1750" stop-color="#0000b8"/><stop offset="0.2012" stop-color="#0000d2"/><stop offset="0.2253" stop-color="#0000ff"/><stop offset="0.2273" stop-color="#0004ff"/><stop offset="0.2534" stop-color="#0057ff"/><stop offset="0.2763" stop-color="#009eff"/><stop offset="0.2992" stop-color="#00e0ff"/><stop offset="0.3093" stop-color="#00ffff"/><stop offset="0.3187" stop-color="#1dffe2"/><stop offset="0.3416" stop-color="#67ff98"/><stop offset="0.3612" stop-color="#a3ff5c"/><stop offset="0.3873" stop-color="#e9ff16"/><stop offset="0.3946" stop-color="#ffff00"/><stop offset="0.4069" stop-color="#ffda00"/><stop offset="0.4265" stop-color="#ffaa00"/><stop offset="0.4396" stop-color="#ff9100"/><stop offset="0.4526" stop-color="#ff7b00"/><stop offset="0.4657" stop-color="#ff6c00"/><stop offset="0.4853" stop-color="#ff5d00"/><stop offset="0.5049" stop-color="#ff5800"/><stop offset="0.5245" stop-color="#ff5d00"/><stop offset="0.5441" stop-color="#ff6c00"/><stop offset="0.5572" stop-color="#ff7b00"/><stop offset="0.5702" stop-color="#ff9100"/><stop offset="0.5833" stop-color="#ffaa00"/><stop offset="0.6029" stop-color="#ffda00"/><stop offset="0.6152" stop-color="#ffff00"/><stop offset="0.6225" stop-color="#e9ff16"/><stop offset="0.6486" stop-color="#a3ff5c"/><stop offset="0.6682" stop-color="#67ff98"/><stop offset="0.6911" stop-color="#1effe1"/><stop offset="0.7011" stop-color="#00ffff"/><stop offset="0.7106" stop-color="#00e3ff"/><stop offset="0.7335" stop-color="#00a3ff"/><stop offset="0.7564" stop-color="#005fff"/><stop offset="0.7825" stop-color="#000eff"/><stop offset="0.7893" stop-color="#0000ff"/><stop offset="0.8086" stop-color="#0000d7"/><stop offset="0.8347" stop-color="#0000bb"/><stop offset="0.8707" stop-color="#0000ab"/><stop offset="0.9295" stop-color="#0000a4"/><stop offset="1.0000" stop-color="#0000a4"/></linearGradient>
<linearGradient id="g74" gradientUnits="userSpaceOnUse" x1="28.4" x2="334.6" y1="0" y2="0"><stop offset="0.0000" stop-color="#0000a6"/><stop offset="0.0803" stop-color="#0000a6"/><stop offset="0.1391" stop-color="#0000ab"/><stop offset="0.1750" stop-color="#0000ba"/><stop offset="0.2012" stop-color="#0000d4"/><stop offset="0.2239" stop-color="#0000ff"/><stop offset="0.2273" stop-color="#0006ff"/><stop offset="0.2534" stop-color="#005bff"/><stop offset="0.2763" stop-color="#00a2ff"/><stop offset="0.2992" stop-color="#00e5ff"/><stop offset="0.3078" stop-color="#00ffff"/><stop offset="0.3187" stop-color="#22ffdd"/><stop offset="0.3416" stop-color="#6cff93"/><stop offset="0.3612" stop-color="#a9ff56"/><stop offset="0.3873" stop-color="#f0ff0f"/><stop offset="0.3924" stop-color="#ffff00"/><stop offset="0.4069" stop-color="#ffd400"/><stop offset="0.4265" stop-color="#ffa300"/><stop offset="0.4396" stop-color="#ff8a00"/><stop offset="0.4526" stop-color="#ff7300"/><stop offset="0.4657" stop-color="#ff6400"/><stop offset="0.4853" stop-color="#ff5500"/><stop offset="0.5049" stop-color="#ff5000"/><stop offset="0.5245" stop-color="#ff5500"/><stop offset="0.5441" stop-color="#ff6400"/><stop offset="0.5572" stop-color="#ff7300"/><stop offset="0.5702" stop-color="#ff8a00"/><stop offset="0.5833" stop-color="#ffa300"/><stop offset="0.6029" stop-color="#ffd400"/><stop offset="0.6174" stop-color="#ffff00"/><stop offset="0.6225" stop-color="#f0ff0f"/><stop offset="0.6486" stop-color="#a9ff56"/><stop offset="0.6682" stop-color="#6cff93"/><stop offset="0.6911" stop-color="#22ffdd"/><stop offset="0.7026" stop-color="#00ffff"/><stop offset="0.7106" stop-color="#00e7ff"/><stop offset="0.7335" stop-color="#00a7ff"/><stop offset="0.7564" stop-color="#0063ff"/><stop offset="0.7825" stop-color="#0011ff"/><stop offset="0.7906" stop-color="#0000ff"/><stop offset="0.8086" stop-color="#0000d9"/><stop offset="0.8347" stop-color="#0000bd"/><stop offset="0.8707" stop-color="#0000ad"/><stop offset="0.9295" stop-color="#0000a6"/><stop offset="1.0000" stop-color="#0000a6"/></linearGradient>
<linearGradient id="g75" gradientUnits="userSpaceOnUse" x1="28.4" x2="334.6" y1="0" y2="0"><stop offset="0.0000" stop-color="#0000a6"/><stop offset="0.0803" stop-color="#0000a7"/><stop offset="0.1391" stop-color="#0000ac"/><stop offset="0.1750" stop-color="#0000bb"/><stop offset="0.2012" stop-color="#0000d4"/><stop offset="0.2242" stop-color="#0000ff"/><stop offset="0.2273" stop-color="#0006ff"/><stop offset="0.2534" stop-color="#0059ff"/><stop offset="0.2763" stop-color="#009fff"/><stop offset="0.2992" stop-color="#00e1ff"/><stop offset="0.3092" stop-color="#00ffff"/><stop offset="0.3187" stop-color="#1dffe2"/><stop offset="0.3416" stop-color="#66ff99"/><stop offset="0.3612" stop-color="#a2ff5d"/><stop offset="0.3873" stop-color="#e8ff17"/><stop offset="0.3951" stop-color="#ffff00"/><stop offset="0.4069" stop-color="#ffdc00"/><stop offset="0.4265" stop-color="#ffac00"/><stop offset="0.4396" stop-color="#ff9300"/><stop offset="0.4526" stop-color="#ff7d00"/><stop offset="0.4657" stop-color="#ff6e00"/><stop offset="0.4853" stop-color="#ff6000"/><stop offset="0.5049" stop-color="#ff5b00"/><stop offset="0.5245" stop-color="#ff6000"/><stop offset="0.5441" stop-color="#ff6e00"/><stop offset="0.5572" stop-color="#ff7d00"/><stop offset="0.5702" stop-color="#ff9300"/><stop offset="0.5833" stop-color="#ffac00"/><stop offset="0.6029" stop-color="#ffdc00"/><stop offset="0.6147" stop-color="#ffff00"/><stop offset="0.6225" stop-color="#e8ff17"/><stop offset="0.6486" stop-color="#a2ff5d"/><stop offset="0.6682" stop-color="#66ff99"/><stop offset="0.6911" stop-color="#1effe1"/><stop offset="0.7012" stop-color="#00ffff"/><stop offset="0.7106" stop-color="#00e3ff"/><stop offset="0.7335" stop-color="#00a4ff"/><stop offset="0.7564" stop-color="#0061ff"/><stop offset="0.7825" stop-color="#0010ff"/><stop offset="0.7903" stop-color="#0000ff"/><stop offset="0.8086" stop-color="#0000d9"/><stop offset="0.8347" stop-color="#0000bd"/><stop offset="0.8707" stop-color="#0000ad"/><stop offset="0.9295" stop-color="#0000a7"/><stop offset="1.0000" stop-color="#0000a6"/></linearGradient>
<linearGradient id="g76" gradientUnits="userSpaceOnUse" x1="28.4" x2="334.6" y1="0" y2="0"><stop offset="0.0000" stop-color="#0000a7"/><stop offset="0.0803" stop-color="#0000a7"/><stop offset="0.1391" stop-color="#0000ac"/><stop offset="0.1750" stop-color="#0000bb"/><stop offset="0.2012" stop-color="#0000d4"/><stop offset="0.2242" stop-color="#0000ff"/><stop offset="0.2273" stop-color="#0006ff"/><stop offset="0.2534" stop-color="#0059ff"/><stop offset="0.2763" stop-color="#009eff"/><stop offset="0.2992" stop-color="#00e0ff"/><stop offset="0.3095" stop-color="#00ffff"/><stop offset="0.3187" stop-color="#1cffe3"/><stop offset="0.3416" stop-color="#65ff9a"/><stop offset="0.3612" stop-color="#a1ff5e"/><stop offset="0.3873" stop-color="#e6ff19"/><stop offset="0.3957" stop-color="#ffff00"/><stop offset="0.4069" stop-color="#ffde00"/><stop offset="0.4265" stop-color="#ffae00"/><stop offset="0.4396" stop-color="#ff9500"/><stop offset="0.4526" stop-color="#ff8000"/><stop offset="0.4657" stop-color="#ff7100"/><stop offset="0.4853" stop-color="#ff6200"/><stop offset="0.5049" stop-color="#ff5d00"/><stop offset="0.5245" stop-color="#ff6200"/><stop offset="0.5441" stop-color="#ff7100"/><stop offset="0.5572" stop-color="#ff8000"/><stop offset="0.5702" stop-color="#ff9500"/><stop offset="0.5833" stop-color="#ffae00"/><stop offset="0.6029" stop-color="#ffde00"/><stop offset="0.6141" stop-color="#ffff00"/><stop offset="0.6225" stop-color="#e6ff19"/><stop offset="0.6486" stop-color="#a1ff5e"/><stop offset="0.6682" stop-color="#65ff9a"/><stop offset="0.6911" stop-color="#1dffe2"/><stop offset="0.7009" stop-color="#00ffff"/><stop offset="0.7106" stop-color="#00e2ff"/><stop offset="0.7335" stop-color="#00a3ff"/><stop offset="0.7564" stop-color="#0061ff"/><stop offset="0.7825" stop-color="#0010ff"/><stop offset="0.7903" stop-color="#0000ff"/><stop offset="0.8086" stop-color="#0000d9"/><stop offset="0.8347" stop-color="#0000be"/><stop offset="0.8707" stop-color="#0000ad"/><stop offset="0.9295" stop-color="#0000a7"/><stop offset="1.0000" stop-color="#0000a7"/></linearGradient>
<linearGradient id="g77" gradientUnits="userSpaceOnUse" x1="28.4" x2="334.6" y1="0" y2="0"><stop offset="0.0000" stop-color="#0000aa"/><stop offset="0.0803" stop-color="#0000aa"/><stop offset="0.1391" stop-color="#0000b0"/><stop offset="0.1750" stop-color="#0000bf"/><stop offset="0.2012" stop-color="#0000d9"/><stop offset="0.2213" stop-color="#0000ff"/><stop offset="0.2273" stop-color="#000bff"/><stop offset="0.2534" stop-color="#0060ff"/><stop offset="0.2763" stop-color="#00a8ff"/><stop offset="0.2992" stop-color="#00ecff"/><stop offset="0.3054" stop-color="#00ffff"/><stop offset="0.3187" stop-color="#29ffd6"/><stop offset="0.3416" stop-color="#74ff8b"/><stop offset="0.3612" stop-color="#b2ff4d"/><stop offset="0.3873" stop-color="#f9ff06"/><stop offset="0.3892" stop-color="#ffff00"/><stop offset="0.4069" stop-color="#ffc900"/><stop offset="0.4265" stop-color="#ff9800"/><stop offset="0.4396" stop-color="#ff7f00"/><stop offset="0.4526" stop-color="#ff6800"/><stop offset="0.4657" stop-color="#ff5900"/><stop offset="0.4853" stop-color="#ff4a00"/><stop offset="0.5049" stop-color="#ff4500"/><stop offset="0.5245" stop-color="#ff4a00"/><stop offset="0.5441" stop-color="#ff5900"/><stop offset="0.5572" stop-color="#ff6800"/><stop offset="0.5702" stop-color="#ff7f00"/><stop offset="0.5833" stop-color="#ff9800"/><stop offset="0.6029" stop-color="#ffc900"/><stop offset="0.6206" stop-color="#ffff00"/><stop offset="0.6225" stop-color="#f9ff06"/><stop offset="0.6486" stop-color="#b2ff4d"/><stop offset="0.6682" stop-color="#74ff8b"/><stop offset="0.6911" stop-color="#2affd5"/><stop offset="0.7051" stop-color="#00ffff"/><stop offset="0.7106" stop-color="#00eeff"/><stop offset="0.7335" stop-color="#00adff"/><stop offset="0.7564" stop-color="#0069ff"/><stop offset="0.7825" stop-color="#0016ff"/><stop offset="0.7929" stop-color="#0000ff"/><stop offset="0.8086" stop-color="#0000de"/><stop offset="0.8347" stop-color="#0000c1"/><stop offset="0.8707" stop-color="#0000b1"/><stop offset="0.9295" stop-color="#0000aa"/><stop offset="1.0000" stop-color="#0000aa"/></linearGradient>
<linearGradient id="g78" gradientUnits="userSpaceOnUse" x1="28.4" x2="334.6" y1="0" y2="0"><stop offset="0.0000" stop-color="#0000a5"/><stop offset="0.0803" stop-color="#0000a5"/><stop offset="0.1391" stop-color="#0000ab"/><stop offset="0.1750" stop-color="#0000ba"/><stop offset="0.2012" stop-color="#0000d4"/><stop offset="0.2239" stop-color="#0000ff"/><stop offset="0.2273" stop-color="#0006ff"/><stop offset="0.2534" stop-color="#005bff"/><stop offset="0.2763" stop-color="#00a3ff"/><stop offset="0.2992" stop-color="#00e6ff"/><stop offset="0.3072" stop-color="#00ffff"/><stop offset="0.3187" stop-color="#24ffdb"/><stop offset="0.3416" stop-color="#6fff90"/><stop offset="0.3612" stop-color="#acff53"/><stop offset="0.3873" stop-color="#f3ff0c"/><stop offset="0.3912" stop-color="#ffff00"/><stop offset="0.4069" stop-color="#ffd000"/><stop offset="0.4265" stop-color="#ff9f00"/><stop offset="0.4396" stop-color="#ff8500"/><stop offset="0.4526" stop-color="#ff6f00"/><stop offset="0.4657" stop-color="#ff5f00"/><stop offset="0.4853" stop-color="#ff5000"/><stop offset="0.5049" stop-color="#ff4b00"/><stop offset="0.5245" stop-color="#ff5000"/><stop offset="0.5441" stop-color="#ff5f00"/><stop offset="0.5572" stop-color="#ff6f00"/><stop offset="0.5702" stop-color="#ff8500"/><stop offset="0.5833" stop-color="#ff9f00"/><stop offset="0.6029" stop-color="#ffd000"/><stop offset="0.6186" stop-color="#ffff00"/><stop offset="0.6225" stop-color="#f3ff0c"/><stop offset="0.6486" stop-color="#acff53"/><stop offset="0.6682" stop-color="#6fff90"/><stop offset="0.6911" stop-color="#25ffda"/><stop offset="0.7033" stop-color="#00ffff"/><stop offset="0.7106" stop-color="#00e9ff"/><stop offset="0.7335" stop-color="#00a8ff"/><stop offset="0.7564" stop-color="#0064ff"/><stop offset="0.7825" stop-color="#0011ff"/><stop offset="0.7906" stop-color="#0000ff"/><stop offset="0.8086" stop-color="#0000d9"/><stop offset="0.8347" stop-color="#0000bd"/><stop offset="0.8707" stop-color="#0000ac"/><stop offset="0.9295" stop-color="#0000a6"/><stop offset="1.0000" stop-color="#0000a5"/></linearGradient>
<linearGradient id="g79" gradientUnits="userSpaceOnUse" x1="28.4" x2="334.6" y1="0" y2="0"><stop offset="0.0000" stop-color="#0000a7"/><stop offset="0.0803" stop-color="#0000a8"/><stop offset="0.1391" stop-color="#0000ad"/><stop offset="0.1750" stop-color="#0000bc"/><stop offset="0.2012" stop-color="#0000d5"/><stop offset="0.2234" stop-color="#0000ff"/><stop offset="0.2273" stop-color="#0007ff"/><stop offset="0.2534" stop-color="#005bff"/><stop offset="0.2763" stop-color="#00a1ff"/><stop offset="0.2992" stop-color="#00e3ff"/><stop offset="0.3083" stop-color="#00ffff"/><stop offset="0.3187" stop-color="#20ffdf"/><stop offset="0.3416" stop-color="#6aff95"/><stop offset="0.3612" stop-color="#a6ff59"/><stop offset="0.3873" stop-color="#ecff13"/><stop offset="0.3937" stop-color="#ffff00"/><stop offset="0.4069" stop-color="#ffd800"/><stop offset="0.4265" stop-color="#ffa800"/><stop offset="0.4396" stop-color="#ff8e00"/><stop offset="0.4526" stop-color="#ff7800"/><stop offset="0.4657" stop-color="#ff6900"/><stop offset="0.4853" stop-color="#ff5a00"/><stop offset="0.5049" stop-color="#ff5500"/><stop offset="0.5245" stop-color="#ff5a00"/><stop offset="0.5441" stop-color="#ff6900"/><stop offset="0.5572" stop-color="#ff7800"/><stop offset="0.5702" stop-color="#ff8e00"/><stop offset="0.5833" stop-color="#ffa800"/><stop offset="0.6029" stop-color="#ffd800"/><stop offset="0.6161" stop-color="#ffff00"/><stop offset="0.6225" stop-color="#ecff13"/><stop offset="0.6486" stop-color="#a6ff59"/><stop offset="0.6682" stop-color="#6aff95"/><stop offset="0.6911" stop-color="#21ffde"/><stop offset="0.7021" stop-color="#00ffff"/><stop offset="0.7106" stop-color="#00e6ff"/><stop offset="0.7335" stop-color="#00a6ff"/><stop offset="0.7564" stop-color="#0063ff"/><stop offset="0.7825" stop-color="#0012ff"/><stop offset="0.7910" stop-color="#0000ff"/><stop offset="0.8086" stop-color="#0000da"/><stop offset="0.8347" stop-color="#0000be"/><stop offset="0.8707" stop-color="#0000ae"/><stop offset="0.9295" stop-color="#0000a8"/><stop offset="1.0000" stop-color="#0000a7"/></linearGradient>
<linearGradient id="g80" gradientUnits="userSpaceOnUse" x1="28.4" x2="334.6" y1="0" y2="0"><stop offset="0.0000" stop-color="#0000a8"/><stop offset="0.0803" stop-color="#0000a8"/><stop offset="0.1391" stop-color="#0000ad"/><stop offset="0.1750" stop-color="#0000bc"/><stop offset="0.2012" stop-color="#0000d6"/><stop offset="0.2231" stop-color="#0000ff"/><stop offset="0.2273" stop-color="#0008ff"/><stop offset="0.2534" stop-color="#005cff"/><stop offset="0.2763" stop-color="#00a2ff"/><stop offset="0.2992" stop-color="#00e4ff"/><stop offset="0.3079" stop-color="#00ffff"/><stop offset="0.3187" stop-color="#21ffde"/><stop offset="0.3416" stop-color="#6bff94"/><stop offset="0.3612" stop-color="#a7ff58"/><stop offset="0.3873" stop-color="#eeff11"/><stop offset="0.3931" stop-color="#ffff00"/><stop offset="0.4069" stop-color="#ffd600"/><stop offset="0.4265" stop-color="#ffa600"/><stop offset="0.4396" stop-color="#ff8c00"/><stop offset="0.4526" stop-color="#ff7600"/><stop offset="0.4657" stop-color="#ff6700"/><stop offset="0.4853" stop-color="#ff5800"/><stop offset="0.5049" stop-color="#ff5300"/><stop offset="0.5245" stop-color="#ff5800"/><stop offset="0.5441" stop-color="#ff6700"/><stop offset="0.5572" stop-color="#ff7600"/><stop offset="0.5702" stop-color="#ff8c00"/><stop offset="0.5833" stop-color="#ffa600"/><stop offset="0.6029" stop-color="#ffd600"/><stop offset="0.6167" stop-color="#ffff00"/><stop offset="0.6225" stop-color="#eeff11"/><stop offset="0.6486" stop-color="#a7ff58"/><stop offset="0.6682" stop-color="#6bff94"/><stop offset="0.6911" stop-color="#22ffdd"/><stop offset="0.7025" stop-color="#00ffff"/><stop offset="0.7106" stop-color="#00e7ff"/><stop offset="0.7335" stop-color="#00a7ff"/><stop offset="0.7564" stop-color="#0064ff"/><stop offset="0.7825" stop-color="#0012ff"/><stop offset="0.7913" stop-color="#0000ff"/><stop offset="0.8086" stop-color="#0000db"/><stop offset="0.8347" stop-color="#0000bf"/><stop offset="0.8707" stop-color="#0000af"/><stop offset="0.9295" stop-color="#0000a8"/><stop offset="1.0000" stop-color="#0000a8"/></linearGradient>
<linearGradient id="g81" gradientUnits="userSpaceOnUse" x1="28.4" x2="334.6" y1="0" y2="0"><stop offset="0.0000" stop-color="#0000a3"/><stop offset="0.0803" stop-color="#0000a3"/><stop offset="0.1391" stop-color="#0000a9"/><stop offset="0.1750" stop-color="#0000b7"/><stop offset="0.2012" stop-color="#0000d1"/><stop offset="0.2262" stop-color="#0000ff"/><stop offset="0.2273" stop-color="#0002ff"/><stop offset="0.2534" stop-color="#0055ff"/><stop offset="0.2763" stop-color="#009bff"/><stop offset="0.2992" stop-color="#00dcff"/><stop offset="0.3107" stop-color="#00ffff"/><stop offset="0.3187" stop-color="#18ffe7"/><stop offset="0.3416" stop-color="#62ff9d"/><stop offset="0.3612" stop-color="#9dff62"/><stop offset="0.3873" stop-color="#e3ff1c"/><stop offset="0.3969" stop-color="#ffff00"/><stop offset="0.4069" stop-color="#ffe200"/><stop offset="0.4265" stop-color="#ffb200"/><stop offset="0.4396" stop-color="#ff9900"/><stop offset="0.4526" stop-color="#ff8300"/><stop offset="0.4657" stop-color="#ff7400"/><stop offset="0.4853" stop-color="#ff6500"/><stop offset="0.5049" stop-color="#ff6000"/><stop offset="0.5245" stop-color="#ff6500"/><stop offset="0.5441" stop-color="#ff7400"/><stop offset="0.5572" stop-color="#ff8300"/><stop offset="0.5702" stop-color="#ff9900"/><stop offset="0.5833" stop-color="#ffb200"/><stop offset="0.6029" stop-color="#ffe200"/><stop offset="0.6129" stop-color="#ffff00"/><stop offset="0.6225" stop-color="#e3ff1c"/><stop offset="0.6486" stop-color="#9dff62"/><stop offset="0.6682" stop-color="#62ff9d"/><stop offset="0.6911" stop-color="#19ffe6"/><stop offset="0.6997" stop-color="#00ffff"/><stop offset="0.7106" stop-color="#00dfff"/><stop offset="0.7335" stop-color="#00a0ff"/><stop offset="0.7564" stop-color="#005dff"/><stop offset="0.7825" stop-color="#000cff"/><stop offset="0.7885" stop-color="#0000ff"/><stop offset="0.8086" stop-color="#0000d6"/><stop offset="0.8347" stop-color="#0000ba"/><stop offset="0.8707" stop-color="#0000aa"/><stop offset="0.9295" stop-color="#0000a4"/><stop offset="1.0000" stop-color="#0000a3"/></linearGradient>
<linearGradient id="g82" gradientUnits="userSpaceOnUse" x1="28.4" x2="334.6" y1="0" y2="0"><stop offset="0.0000" stop-color="#0000aa"/><stop offset="0.0803" stop-color="#0000aa"/><stop offset="0.1391" stop-color="#0000af"/><stop offset="0.1750" stop-color="#0000be"/><stop offset="0.2012" stop-color="#0000d7"/><stop offset="0.2228" stop-color="#0000ff"/><stop offset="0.2273" stop-color="#0008ff"/><stop offset="0.2534" stop-color="#005bff"/><stop offset="0.2763" stop-color="#00a0ff"/><stop offset="0.2992" stop-color="#00e1ff"/><stop offset="0.3090" stop-color="#00ffff"/><stop offset="0.3187" stop-color="#1dffe2"/><stop offset="0.3416" stop-color="#66ff99"/><stop offset="0.3612" stop-color="#a1ff5e"/><stop offset="0.3873" stop-color="#e6ff19"/><stop offset="0.3957" stop-color="#ffff00"/><stop offset="0.4069" stop-color="#ffde00"/><stop offset="0.4265" stop-color="#ffaf00"/><stop offset="0.4396" stop-color="#ff9600"/><stop offset="0.4526" stop-color="#ff8000"/><stop offset="0.4657" stop-color="#ff7100"/><stop offset="0.4853" stop-color="#ff6200"/><stop offset="0.5049" stop-color="#ff5e00"/><stop offset="0.5245" stop-color="#ff6200"/><stop offset="0.5441" stop-color="#ff7100"/><stop offset="0.5572" stop-color="#ff8000"/><stop offset="0.5702" stop-color="#ff9600"/><stop offset="0.5833" stop-color="#ffaf00"/><stop offset="0.6029" stop-color="#ffde00"/><stop offset="0.6141" stop-color="#ffff00"/><stop offset="0.6225" stop-color="#e6ff19"/><stop offset="0.6486" stop-color="#a1ff5e"/><stop offset="0.6682" stop-color="#66ff99"/><stop offset="0.6911" stop-color="#1effe1"/><stop offset="0.7013" stop-color="#00ffff"/><stop offset="0.7106" stop-color="#00e4ff"/><stop offset="0.7335" stop-color="#00a5ff"/><stop offset="0.7564" stop-color="#0063ff"/><stop offset="0.7825" stop-color="#0013ff"/><stop offset="0.7916" stop-color="#0000ff"/><stop offset="0.8086" stop-color="#0000dc"/><stop offset="0.8347" stop-color="#0000c1"/><stop offset="0.8707" stop-color="#0000b0"/><stop offset="0.9295" stop-color="#0000aa"/><stop offset="1.0000" stop-color="#0000aa"/></linearGradient>
<linearGradient id="g83" gradientUnits="userSpaceOnUse" x1="28.4" x2="334.6" y1="0" y2="0"><stop offset="0.0000" stop-color="#0000a1"/><stop offset="0.0803" stop-color="#0000a2"/><stop offset="0.1391" stop-color="#0000a7"/><stop offset="0.1750" stop-color="#0000b5"/><stop offset="0.2012" stop-color="#0000cf"/><stop offset="0.2273" stop-color="#0000fe"/><stop offset="0.2275" stop-color="#0000ff"/><stop offset="0.2534" stop-color="#0051ff"/><stop offset="0.2763" stop-color="#0095ff"/><stop offset="0.2992" stop-color="#00d6ff"/><stop offset="0.3129" stop-color="#00ffff"/><stop offset="0.3187" stop-color="#11ffee"/><stop offset="0.3416" stop-color="#59ffa6"/><stop offset="0.3612" stop-color="#94ff6b"/><stop offset="0.3873" stop-color="#d9ff26"/><stop offset="0.4005" stop-color="#ffff00"/><stop offset="0.4069" stop-color="#ffec00"/><stop offset="0.4265" stop-color="#ffbd00"/><stop offset="0.4396" stop-color="#ffa500"/><stop offset="0.4526" stop-color="#ff8f00"/><stop offset="0.4657" stop-color="#ff8100"/><stop offset="0.4853" stop-color="#ff7200"/><stop offset="0.5049" stop-color="#ff6d00"/><stop offset="0.5245" stop-color="#ff7200"/><stop offset="0.5441" stop-color="#ff8100"/><stop offset="0.5572" stop-color="#ff8f00"/><stop offset="0.5702" stop-color="#ffa500"/><stop offset="0.5833" stop-color="#ffbd00"/><stop offset="0.6029" stop-color="#ffec00"/><stop offset="0.6093" stop-color="#ffff00"/><stop offset="0.6225" stop-color="#d9ff26"/><stop offset="0.6486" stop-color="#94ff6b"/><stop offset="0.6682" stop-color="#59ffa6"/><stop offset="0.6911" stop-color="#12ffed"/><stop offset="0.6974" stop-color="#00ffff"/><stop offset="0.7106" stop-color="#00d9ff"/><stop offset="0.7335" stop-color="#009aff"/><stop offset="0.7564" stop-color="#0059ff"/><stop offset="0.7825" stop-color="#0009ff"/><stop offset="0.7871" stop-color="#0000ff"/><stop offset="0.8086" stop-color="#0000d3"/><stop offset="0.8347" stop-color="#0000b8"/><stop offset="0.8707" stop-color="#0000a8"/><stop offset="0.9295" stop-color="#0000a2"/><stop offset="1.0000" stop-color="#0000a1"/></linearGradient>
<linearGradient id="g84" gradientUnits="userSpaceOnUse" x1="28.4" x2="334.6" y1="0" y2="0"><stop offset="0.0000" stop-color="#0000a2"/><stop offset="0.0803" stop-color="#0000a3"/><stop offset="0.1391" stop-color="#0000a8"/><stop offset="0.1750" stop-color="#0000b7"/><stop offset="0.2012" stop-color="#0000d1"/><stop offset="0.2254" stop-color="#0000ff"/><stop offset="0.2273" stop-color="#0004ff"/><stop offset="0.2534" stop-color="#0058ff"/><stop offset="0.2763" stop-color="#00a0ff"/><stop offset="0.2992" stop-color="#00e3ff"/><stop offset="0.3082" stop-color="#00ffff"/><stop offset="0.3187" stop-color="#20ffdf"/><stop offset="0.3416" stop-color="#6bff94"/><stop offset="0.3612" stop-color="#a8ff57"/><stop offset="0.3873" stop-color="#f0ff0f"/><stop offset="0.3924" stop-color="#ffff00"/><stop offset="0.4069" stop-color="#ffd300"/><stop offset="0.4265" stop-color="#ffa200"/><stop offset="0.4396" stop-color="#ff8900"/><stop offset="0.4526" stop-color="#ff7300"/><stop offset="0.4657" stop-color="#ff6300"/><stop offset="0.4853" stop-color="#ff5400"/><stop offset="0.5049" stop-color="#ff4f00"/><stop offset="0.5245" stop-color="#ff5400"/><stop offset="0.5441" stop-color="#ff6300"/><stop offset="0.5572" stop-color="#ff7300"/><stop offset="0.5702" stop-color="#ff8900"/><stop offset="0.5833" stop-color="#ffa200"/><stop offset="0.6029" stop-color="#ffd300"/><stop offset="0.6174" stop-color="#ffff00"/><stop offset="0.6225" stop-color="#f0ff0f"/><stop offset="0.6486" stop-color="#a8ff57"/><stop offset="0.6682" stop-color="#6bff94"/><stop offset="0.6911" stop-color="#21ffde"/><stop offset="0.7022" stop-color="#00ffff"/><stop offset="0.7106" stop-color="#00e6ff"/><stop offset="0.7335" stop-color="#00a5ff"/><stop offset="0.7564" stop-color="#0061ff"/><stop offset="0.7825" stop-color="#000eff"/><stop offset="0.7892" stop-color="#0000ff"/><stop offset="0.8086" stop-color="#0000d6"/><stop offset="0.8347" stop-color="#0000ba"/><stop offset="0.8707" stop-color="#0000a9"/><stop offset="0.9295" stop-color="#0000a3"/><stop offset="1.0000" stop-color="#0000a2"/></linearGradient>
<linearGradient id="g85" gradientUnits="userSpaceOnUse" x1="28.4" x2="334.6" y1="0" y2="0"><stop offset="0.0000" stop-color="#0000ac"/><stop offset="0.0803" stop-color="#0000ac"/><stop offset="0.1391" stop-color="#0000b2"/><stop offset="0.1750" stop-color="#0000c1"/><stop offset="0.2012" stop-color="#0000da"/><stop offset="0.2206" stop-color="#0000ff"/><stop offset="0.2273" stop-color="#000dff"/><stop offset="0.2534" stop-color="#0061ff"/><stop offset="0.2763" stop-color="#00a7ff"/><stop offset="0.2992" stop-color="#00eaff"/><stop offset="0.3060" stop-color="#00ffff"/><stop offset="0.3187" stop-color="#27ffd8"/><stop offset="0.3416" stop-color="#71ff8e"/><stop offset="0.3612" stop-color="#aeff51"/><stop offset="0.3873" stop-color="#f4ff0b"/><stop offset="0.3909" stop-color="#ffff00"/><stop offset="0.4069" stop-color="#ffcf00"/><stop offset="0.4265" stop-color="#ff9f00"/><stop offset="0.4396" stop-color="#ff8600"/><stop offset="0.4526" stop-color="#ff6f00"/><stop offset="0.4657" stop-color="#ff6000"/><stop offset="0.4853" stop-color="#ff5100"/><stop offset="0.5049" stop-color="#ff4c00"/><stop offset="0.5245" stop-color="#ff5100"/><stop offset="0.5441" stop-color="#ff6000"/><stop offset="0.5572" stop-color="#ff6f00"/><stop offset="0.5702" stop-color="#ff8600"/><stop offset="0.5833" stop-color="#ff9f00"/><stop offset="0.6029" stop-color="#ffcf00"/><stop offset="0.6189" stop-color="#ffff00"/><stop offset="0.6225" stop-color="#f4ff0b"/><stop offset="0.6486" stop-color="#aeff51"/><stop offset="0.6682" stop-color="#71ff8e"/><stop offset="0.6911" stop-color="#28ffd7"/><stop offset="0.7044" stop-color="#00ffff"/><stop offset="0.7106" stop-color="#00edff"/><stop offset="0.7335" stop-color="#00acff"/><stop offset="0.7564" stop-color="#0069ff"/><stop offset="0.7825" stop-color="#0017ff"/><stop offset="0.7935" stop-color="#0000ff"/><stop offset="0.8086" stop-color="#0000e0"/><stop offset="0.8347" stop-color="#0000c3"/><stop offset="0.8707" stop-color="#0000b3"/><stop offset="0.9295" stop-color="#0000ad"/><stop offset="1.0000" stop-color="#0000ac"/></linearGradient>
<linearGradient id="g86" gradientUnits="userSpaceOnUse" x1="28.4" x2="334.6" y1="0" y2="0"><stop offset="0.0000" stop-color="#0000a8"/><stop offset="0.0803" stop-color="#0000a8"/><stop offset="0.1391" stop-color="#0000ae"/><stop offset="0.1750" stop-color="#0000bc"/><stop offset="0.2012" stop-color="#0000d6"/><stop offset="0.2228" stop-color="#0000ff"/><stop offset="0.2273" stop-color="#0009ff"/><stop offset="0.2534" stop-color="#005dff"/><stop offset="0.2763" stop-color="#00a3ff"/><stop offset="0.2992" stop-color="#00e6ff"/><stop offset="0.3072" stop-color="#00ffff"/><stop offset="0.3187" stop-color="#23ffdc"/><stop offset="0.3416" stop-color="#6eff91"/><stop offset="0.3612" stop-color="#aaff55"/><stop offset="0.3873" stop-color="#f1ff0e"/><stop offset="0.3920" stop-color="#ffff00"/><stop offset="0.4069" stop-color="#ffd200"/><stop offset="0.4265" stop-color="#ffa200"/><stop offset="0.4396" stop-color="#ff8900"/><stop offset="0.4526" stop-color="#ff7200"/><stop offset="0.4657" stop-color="#ff6300"/><stop offset="0.4853" stop-color="#ff5400"/><stop offset="0.5049" stop-color="#ff4f00"/><stop offset="0.5245" stop-color="#ff5400"/><stop offset="0.5441" stop-color="#ff6300"/><stop offset="0.5572" stop-color="#ff7200"/><stop offset="0.5702" stop-color="#ff8900"/><stop offset="0.5833" stop-color="#ffa200"/><stop offset="0.6029" stop-color="#ffd200"/><stop offset="0.6178" stop-color="#ffff00"/><stop offset="0.6225" stop-color="#f1ff0e"/><stop offset="0.6486" stop-color="#aaff55"/><stop offset="0.6682" stop-color="#6eff91"/><stop offset="0.6911" stop-color="#24ffdb"/><stop offset="0.7032" stop-color="#00ffff"/><stop offset="0.7106" stop-color="#00e9ff"/><stop offset="0.7335" stop-color="#00a9ff"/><stop offset="0.7564" stop-color="#0065ff"/><stop offset="0.7825" stop-color="#0013ff"/><stop offset="0.7916" stop-color="#0000ff"/><stop offset="0.8086" stop-color="#0000db"/><stop offset="0.8347" stop-color="#0000bf"/><stop offset="0.8707" stop-color="#0000af"/><stop offset="0.9295" stop-color="#0000a8"/><stop offset="1.0000" stop-color="#0000a8"/></linearGradient>
<linearGradient id="g87" gradientUnits="userSpaceOnUse" x1="28.4" x2="334.6" y1="0" y2="0"><stop offset="0.0000" stop-color="#0000a4"/><stop offset="0.0803" stop-color="#0000a5"/><stop offset="0.1391" stop-color="#0000aa"/><stop offset="0.1750" stop-color="#0000b9"/><stop offset="0.2012" stop-color="#0000d3"/><stop offset="0.2250" stop-color="#0000ff"/><stop offset="0.2273" stop-color="#0004ff"/><stop offset="0.2534" stop-color="#0058ff"/><stop offset="0.2763" stop-color="#009eff"/><stop offset="0.2992" stop-color="#00e0ff"/><stop offset="0.3093" stop-color="#00ffff"/><stop offset="0.3187" stop-color="#1dffe2"/><stop offset="0.3416" stop-color="#66ff99"/><stop offset="0.3612" stop-color="#a3ff5c"/><stop offset="0.3873" stop-color="#e9ff16"/><stop offset="0.3949" stop-color="#ffff00"/><stop offset="0.4069" stop-color="#ffdb00"/><stop offset="0.4265" stop-color="#ffab00"/><stop offset="0.4396" stop-color="#ff9200"/><stop offset="0.4526" stop-color="#ff7c00"/><stop offset="0.4657" stop-color="#ff6d00"/><stop offset="0.4853" stop-color="#ff5e00"/><stop offset="0.5049" stop-color="#ff5900"/><stop offset="0.5245" stop-color="#ff5e00"/><stop offset="0.5441" stop-color="#ff6d00"/><stop offset="0.5572" stop-color="#ff7c00"/><stop offset="0.5702" stop-color="#ff9200"/><stop offset="0.5833" stop-color="#ffab00"/><stop offset="0.6029" stop-color="#ffdb00"/><stop offset="0.6149" stop-color="#ffff00"/><stop offset="0.6225" stop-color="#e9ff16"/><stop offset="0.6486" stop-color="#a3ff5c"/><stop offset="0.6682" stop-color="#66ff99"/><stop offset="0.6911" stop-color="#1dffe2"/><stop offset="0.7011" stop-color="#00ffff"/><stop offset="0.7106" stop-color="#00e3ff"/><stop offset="0.7335" stop-color="#00a3ff"/><stop offset="0.7564" stop-color="#0060ff"/><stop offset="0.7825" stop-color="#000fff"/><stop offset="0.7896" stop-color="#0000ff"/><stop offset="0.8086" stop-color="#0000d8"/><stop offset="0.8347" stop-color="#0000bc"/><stop offset="0.8707" stop-color="#0000ab"/><stop offset="0.9295" stop-color="#0000a5"/><stop offset="1.0000" stop-color="#0000a4"/></linearGradient>
<linearGradient id="g88" gradientUnits="userSpaceOnUse" x1="28.4" x2="334.6" y1="0" y2="0"><stop offset="0.0000" stop-color="#0000a4"/><stop offset="0.0803" stop-color="#0000a4"/><stop offset="0.1391" stop-color="#0000aa"/><stop offset="0.1750" stop-color="#0000b9"/><stop offset="0.2012" stop-color="#0000d2"/><stop offset="0.2251" stop-color="#0000ff"/><stop offset="0.2273" stop-color="#0004ff"/><stop offset="0.2534" stop-color="#0058ff"/><stop offset="0.2763" stop-color="#009eff"/><stop offset="0.2992" stop-color="#00e1ff"/><stop offset="0.3092" stop-color="#00ffff"/><stop offset="0.3187" stop-color="#1dffe2"/><stop offset="0.3416" stop-color="#67ff98"/><stop offset="0.3612" stop-color="#a3ff5c"/><stop offset="0.3873" stop-color="#eaff15"/><stop offset="0.3945" stop-color="#ffff00"/><stop offset="0.4069" stop-color="#ffda00"/><stop offset="0.4265" stop-color="#ffaa00"/><stop offset="0.4396" stop-color="#ff9100"/><stop offset="0.4526" stop-color="#ff7b00"/><stop offset="0.4657" stop-color="#ff6c00"/><stop offset="0.4853" stop-color="#ff5d00"/><stop offset="0.5049" stop-color="#ff5800"/><stop offset="0.5245" stop-color="#ff5d00"/><stop offset="0.5441" stop-color="#ff6c00"/><stop offset="0.5572" stop-color="#ff7b00"/><stop offset="0.5702" stop-color="#ff9100"/><stop offset="0.5833" stop-color="#ffaa00"/><stop offset="0.6029" stop-color="#ffda00"/><stop offset="0.6153" stop-color="#ffff00"/><stop offset="0.6225" stop-color="#eaff15"/><stop offset="0.6486" stop-color="#a3ff5c"/><stop offset="0.6682" stop-color="#67ff98"/><stop offset="0.6911" stop-color="#1effe1"/><stop offset="0.7012" stop-color="#00ffff"/><stop offset="0.7106" stop-color="#00e3ff"/><stop offset="0.7335" stop-color="#00a3ff"/><stop offset="0.7564" stop-color="#0060ff"/><stop offset="0.7825" stop-color="#000fff"/><stop offset="0.7895" stop-color="#0000ff"/><stop offset="0.8086" stop-color="#0000d7"/><stop offset="0.8347" stop-color="#0000bb"/><stop offset="0.8707" stop-color="#0000ab"/><stop offset="0.9295" stop-color="#0000a5"/><stop offset="1.0000" stop-color="#0000a4"/></linearGradient>
<linearGradient id="g89" gradientUnits="userSpaceOnUse" x1="28.4" x2="334.6" y1="0" y2="0"><stop offset="0.0000" stop-color="#0000a7"/><stop offset="0.0803" stop-color="#0000a7"/><stop offset="0.1391" stop-color="#0000ad"/><stop offset="0.1750" stop-color="#0000bc"/><stop offset="0.2012" stop-color="#0000d5"/><stop offset="0.2234" stop-color="#0000ff"/><stop offset="0.2273" stop-color="#0007ff"/><stop offset="0.2534" stop-color="#005bff"/><stop offset="0.2763" stop-color="#00a1ff"/><stop offset="0.2992" stop-color="#00e4ff"/><stop offset="0.3080" stop-color="#00ffff"/><stop offset="0.3187" stop-color="#21ffde"/><stop offset="0.3416" stop-color="#6bff94"/><stop offset="0.3612" stop-color="#a7ff58"/><stop offset="0.3873" stop-color="#edff12"/><stop offset="0.3933" stop-color="#ffff00"/><stop offset="0.4069" stop-color="#ffd600"/><stop offset="0.4265" stop-color="#ffa600"/><stop offset="0.4396" stop-color="#ff8d00"/><stop offset="0.4526" stop-color="#ff7700"/><stop offset="0.4657" stop-color="#ff6800"/><stop offset="0.4853" stop-color="#ff5900"/><stop offset="0.5049" stop-color="#ff5400"/><stop offset="0.5245" stop-color="#ff5900"/><stop offset="0.5441" stop-color="#ff6800"/><stop offset="0.5572" stop-color="#ff7700"/><stop offset="0.5702" stop-color="#ff8d00"/><stop offset="0.5833" stop-color="#ffa600"/><stop offset="0.6029" stop-color="#ffd600"/><stop offset="0.6165" stop-color="#ffff00"/><stop offset="0.6225" stop-color="#edff12"/><stop offset="0.6486" stop-color="#a7ff58"/><stop offset="0.6682" stop-color="#6bff94"/><stop offset="0.6911" stop-color="#21ffde"/><stop offset="0.7024" stop-color="#00ffff"/><stop offset="0.7106" stop-color="#00e7ff"/><stop offset="0.7335" stop-color="#00a6ff"/><stop offset="0.7564" stop-color="#0063ff"/><stop offset="0.7825" stop-color="#0012ff"/><stop offset="0.7910" stop-color="#0000ff"/><stop offset="0.8086" stop-color="#0000da"/><stop offset="0.8347" stop-color="#0000be"/><stop offset="0.8707" stop-color="#0000ae"/><stop offset="0.9295" stop-color="#0000a8"/><stop offset="1.0000" stop-color="#0000a7"/></linearGradient>
<linearGradient id="g90" gradientUnits="userSpaceOnUse" x1="28.4" x2="334.6" y1="0" y2="0"><stop offset="0.0000" stop-color="#0000a2"/><stop offset="0.0803" stop-color="#0000a2"/><stop offset="0.1391" stop-color="#0000a8"/><stop offset="0.1750" stop-color="#0000b7"/><stop offset="0.2012" stop-color="#0000d0"/><stop offset="0.2264" stop-color="#0000ff"/><stop offset="0.2273" stop-color="#0002ff"/><stop offset="0.2534" stop-color="#0055ff"/><stop offset="0.2763" stop-color="#009bff"/><stop offset="0.2992" stop-color="#00ddff"/><stop offset="0.3104" stop-color="#00ffff"/><stop offset="0.3187" stop-color="#19ffe6"/><stop offset="0.3416" stop-color="#63ff9c"/><stop offset="0.3612" stop-color="#9fff60"/><stop offset="0.3873" stop-color="#e5ff1a"/><stop offset="0.3962" stop-color="#ffff00"/><stop offset="0.4069" stop-color="#ffdf00"/><stop offset="0.4265" stop-color="#ffaf00"/><stop offset="0.4396" stop-color="#ff9600"/><stop offset="0.4526" stop-color="#ff8000"/><stop offset="0.4657" stop-color="#ff7100"/><stop offset="0.4853" stop-color="#ff6200"/><stop offset="0.5049" stop-color="#ff5d00"/><stop offset="0.5245" stop-color="#ff6200"/><stop offset="0.5441" stop-color="#ff7100"/><stop offset="0.5572" stop-color="#ff8000"/><stop offset="0.5702" stop-color="#ff9600"/><stop offset="0.5833" stop-color="#ffaf00"/><stop offset="0.6029" stop-color="#ffdf00"/><stop offset="0.6136" stop-color="#ffff00"/><stop offset="0.6225" stop-color="#e5ff1a"/><stop offset="0.6486" stop-color="#9fff60"/><stop offset="0.6682" stop-color="#63ff9c"/><stop offset="0.6911" stop-color="#1affe5"/><stop offset="0.7000" stop-color="#00ffff"/><stop offset="0.7106" stop-color="#00e0ff"/><stop offset="0.7335" stop-color="#00a0ff"/><stop offset="0.7564" stop-color="#005dff"/><stop offset="0.7825" stop-color="#000cff"/><stop offset="0.7884" stop-color="#0000ff"/><stop offset="0.8086" stop-color="#0000d5"/><stop offset="0.8347" stop-color="#0000b9"/><stop offset="0.8707" stop-color="#0000a9"/><stop offset="0.9295" stop-color="#0000a3"/><stop offset="1.0000" stop-color="#0000a2"/></linearGradient>
<linearGradient id="g91" gradientUnits="userSpaceOnUse" x1="28.4" x2="334.6" y1="0" y2="0"><stop offset="0.0000" stop-color="#0000a5"/><stop offset="0.0803" stop-color="#0000a5"/><stop offset="0.1391" stop-color="#0000aa"/><stop offset="0.1750" stop-color="#0000b9"/><stop offset="0.2012" stop-color="#0000d2"/><stop offset="0.2261" stop-color="#0000ff"/><stop offset="0.2273" stop-color="#0002ff"/><stop offset="0.2534" stop-color="#0053ff"/><stop offset="0.2763" stop-color="#0098ff"/><stop offset="0.2992" stop-color="#00d8ff"/><stop offset="0.3122" stop-color="#00ffff"/><stop offset="0.3187" stop-color="#13ffec"/><stop offset="0.3416" stop-color="#5bffa4"/><stop offset="0.3612" stop-color="#96ff69"/><stop offset="0.3873" stop-color="#daff25"/><stop offset="0.4001" stop-color="#ffff00"/><stop offset="0.4069" stop-color="#ffeb00"/><stop offset="0.4265" stop-color="#ffbc00"/><stop offset="0.4396" stop-color="#ffa400"/><stop offset="0.4526" stop-color="#ff8e00"/><stop offset="0.4657" stop-color="#ff8000"/><stop offset="0.4853" stop-color="#ff7100"/><stop offset="0.5049" stop-color="#ff6c00"/><stop offset="0.5245" stop-color="#ff7100"/><stop offset="0.5441" stop-color="#ff8000"/><stop offset="0.5572" stop-color="#ff8e00"/><stop offset="0.5702" stop-color="#ffa400"/><stop offset="0.5833" stop-color="#ffbc00"/><stop offset="0.6029" stop-color="#ffeb00"/><stop offset="0.6097" stop-color="#ffff00"/><stop offset="0.6225" stop-color="#daff25"/><stop offset="0.6486" stop-color="#96ff69"/><stop offset="0.6682" stop-color="#5bffa4"/><stop offset="0.6911" stop-color="#14ffeb"/><stop offset="0.6981" stop-color="#00ffff"/><stop offset="0.7106" stop-color="#00dbff"/><stop offset="0.7335" stop-color="#009dff"/><stop offset="0.7564" stop-color="#005bff"/><stop offset="0.7825" stop-color="#000cff"/><stop offset="0.7886" stop-color="#0000ff"/><stop offset="0.8086" stop-color="#0000d7"/><stop offset="0.8347" stop-color="#0000bb"/><stop offset="0.8707" stop-color="#0000ab"/><stop offset="0.9295" stop-color="#0000a5"/><stop offset="1.0000" stop-color="#0000a5"/></linearGradient>
<linearGradient id="g92" gradientUnits="userSpaceOnUse" x1="28.4" x2="334.6" y1="0" y2="0"><stop offset="0.0000" stop-color="#0000a1"/><stop offset="0.0803" stop-color="#0000a1"/><stop offset="0.1391" stop-color="#0000a7"/><stop offset="0.1750" stop-color="#0000b5"/><stop offset="0.2012" stop-color="#0000ce"/><stop offset="0.2273" stop-color="#0000ff"/><stop offset="0.2275" stop-color="#0000ff"/><stop offset="0.2534" stop-color="#0052ff"/><stop offset="0.2763" stop-color="#0097ff"/><stop offset="0.2992" stop-color="#00d9ff"/><stop offset="0.3120" stop-color="#00ffff"/><stop offset="0.3187" stop-color="#14ffeb"/><stop offset="0.3416" stop-color="#5dffa2"/><stop offset="0.3612" stop-color="#99ff66"/><stop offset="0.3873" stop-color="#deff21"/><stop offset="0.3987" stop-color="#ffff00"/><stop offset="0.4069" stop-color="#ffe700"/><stop offset="0.4265" stop-color="#ffb700"/><stop offset="0.4396" stop-color="#ff9f00"/><stop offset="0.4526" stop-color="#ff8900"/><stop offset="0.4657" stop-color="#ff7a00"/><stop offset="0.4853" stop-color="#ff6b00"/><stop offset="0.5049" stop-color="#ff6600"/><stop offset="0.5245" stop-color="#ff6b00"/><stop offset="0.5441" stop-color="#ff7a00"/><stop offset="0.5572" stop-color="#ff8900"/><stop offset="0.5702" stop-color="#ff9f00"/><stop offset="0.5833" stop-color="#ffb700"/><stop offset="0.6029" stop-color="#ffe700"/><stop offset="0.6111" stop-color="#ffff00"/><stop offset="0.6225" stop-color="#deff21"/><stop offset="0.6486" stop-color="#99ff66"/><stop offset="0.6682" stop-color="#5dffa2"/><stop offset="0.6911" stop-color="#15ffea"/><stop offset="0.6983" stop-color="#00ffff"/><stop offset="0.7106" stop-color="#00dbff"/><stop offset="0.7335" stop-color="#009cff"/><stop offset="0.7564" stop-color="#005aff"/><stop offset="0.7825" stop-color="#000aff"/><stop offset="0.7873" stop-color="#0000ff"/><stop offset="0.8086" stop-color="#0000d3"/><stop offset="0.8347" stop-color="#0000b8"/><stop offset="0.8707" stop-color="#0000a8"/><stop offset="0.9295" stop-color="#0000a1"/><stop offset="1.0000" stop-color="#0000a1"/></linearGradient>
<linearGradient id="g93" gradientUnits="userSpaceOnUse" x1="28.4" x2="334.6" y1="0" y2="0"><stop offset="0.0000" stop-color="#0000a5"/><stop offset="0.0803" stop-color="#0000a5"/><stop offset="0.1391" stop-color="#0000aa"/><stop offset="0.1750" stop-color="#0000b9"/><stop offset="0.2012" stop-color="#0000d2"/><stop offset="0.2258" stop-color="#0000ff"/><stop offset="0.2273" stop-color="#0003ff"/><stop offset="0.2534" stop-color="#0055ff"/><stop offset="0.2763" stop-color="#009aff"/><stop offset="0.2992" stop-color="#00dbff"/><stop offset="0.3114" stop-color="#00ffff"/><stop offset="0.3187" stop-color="#16ffe9"/><stop offset="0.3416" stop-color="#5effa1"/><stop offset="0.3612" stop-color="#99ff66"/><stop offset="0.3873" stop-color="#deff21"/><stop offset="0.3986" stop-color="#ffff00"/><stop offset="0.4069" stop-color="#ffe700"/><stop offset="0.4265" stop-color="#ffb700"/><stop offset="0.4396" stop-color="#ff9f00"/><stop offset="0.4526" stop-color="#ff8900"/><stop offset="0.4657" stop-color="#ff7a00"/><stop offset="0.4853" stop-color="#ff6c00"/><stop offset="0.5049" stop-color="#ff6700"/><stop offset="0.5245" stop-color="#ff6c00"/><stop offset="0.5441" stop-color="#ff7a00"/><stop offset="0.5572" stop-color="#ff8900"/><stop offset="0.5702" stop-color="#ff9f00"/><stop offset="0.5833" stop-color="#ffb700"/><stop offset="0.6029" stop-color="#ffe700"/><stop offset="0.6112" stop-color="#ffff00"/><stop offset="0.6225" stop-color="#deff21"/><stop offset="0.6486" stop-color="#99ff66"/><stop offset="0.6682" stop-color="#5effa1"/><stop offset="0.6911" stop-color="#17ffe8"/><stop offset="0.6989" stop-color="#00ffff"/><stop offset="0.7106" stop-color="#00ddff"/><stop offset="0.7335" stop-color="#009fff"/><stop offset="0.7564" stop-color="#005dff"/><stop offset="0.7825" stop-color="#000dff"/><stop offset="0.7889" stop-color="#0000ff"/><stop offset="0.8086" stop-color="#0000d7"/><stop offset="0.8347" stop-color="#0000bb"/><stop offset="0.8707" stop-color="#0000ab"/><stop offset="0.9295" stop-color="#0000a5"/><stop offset="1.0000" stop-color="#0000a5"/></linearGradient>
<linearGradient id="g94" gradientUnits="userSpaceOnUse" x1="28.4" x2="334.6" y1="0" y2="0"><stop offset="0.0000" stop-color="#0000a1"/><stop offset="0.0803" stop-color="#0000a2"/><stop offset="0.1391" stop-color="#0000a7"/><stop offset="0.1750" stop-color="#0000b5"/><stop offset="0.2012" stop-color="#0000cd"/><stop offset="0.2273" stop-color="#0000fc"/><stop offset="0.2282" stop-color="#0000ff"/><stop offset="0.2534" stop-color="#004dff"/><stop offset="0.2763" stop-color="#0090ff"/><stop offset="0.2992" stop-color="#00d0ff"/><stop offset="0.3154" stop-color="#00ffff"/><stop offset="0.3187" stop-color="#0afff5"/><stop offset="0.3416" stop-color="#50ffaf"/><stop offset="0.3612" stop-color="#8aff75"/><stop offset="0.3873" stop-color="#cdff32"/><stop offset="0.4049" stop-color="#ffff00"/><stop offset="0.4069" stop-color="#fff900"/><stop offset="0.4265" stop-color="#ffcb00"/><stop offset="0.4396" stop-color="#ffb300"/><stop offset="0.4526" stop-color="#ff9e00"/><stop offset="0.4657" stop-color="#ff9000"/><stop offset="0.4853" stop-color="#ff8100"/><stop offset="0.5049" stop-color="#ff7d00"/><stop offset="0.5245" stop-color="#ff8100"/><stop offset="0.5441" stop-color="#ff9000"/><stop offset="0.5572" stop-color="#ff9e00"/><stop offset="0.5702" stop-color="#ffb300"/><stop offset="0.5833" stop-color="#ffcb00"/><stop offset="0.6029" stop-color="#fff900"/><stop offset="0.6049" stop-color="#ffff00"/><stop offset="0.6225" stop-color="#cdff32"/><stop offset="0.6486" stop-color="#8aff75"/><stop offset="0.6682" stop-color="#50ffaf"/><stop offset="0.6911" stop-color="#0afff5"/><stop offset="0.6948" stop-color="#00ffff"/><stop offset="0.7106" stop-color="#00d2ff"/><stop offset="0.7335" stop-color="#0095ff"/><stop offset="0.7564" stop-color="#0055ff"/><stop offset="0.7825" stop-color="#0007ff"/><stop offset="0.7861" stop-color="#0000ff"/><stop offset="0.8086" stop-color="#0000d2"/><stop offset="0.8347" stop-color="#0000b7"/><stop offset="0.8707" stop-color="#0000a8"/><stop offset="0.9295" stop-color="#0000a2"/><stop offset="1.0000" stop-color="#0000a1"/></linearGradient>
<linearGradient id="g95" gradientUnits="userSpaceOnUse" x1="28.4" x2="334.6" y1="0" y2="0"><stop offset="0.0000" stop-color="#0000a3"/><stop offset="0.0803" stop-color="#0000a3"/><stop offset="0.1391" stop-color="#0000a8"/><stop offset="0.1750" stop-color="#0000b6"/><stop offset="0.2012" stop-color="#0000cf"/><stop offset="0.2273" stop-color="#0000fd"/><stop offset="0.2278" stop-color="#0000ff"/><stop offset="0.2534" stop-color="#004eff"/><stop offset="0.2763" stop-color="#0091ff"/><stop offset="0.2992" stop-color="#00d0ff"/><stop offset="0.3154" stop-color="#00ffff"/><stop offset="0.3187" stop-color="#0afff5"/><stop offset="0.3416" stop-color="#50ffaf"/><stop offset="0.3612" stop-color="#8aff75"/><stop offset="0.3873" stop-color="#ccff33"/><stop offset="0.4052" stop-color="#ffff00"/><stop offset="0.4069" stop-color="#fffa00"/><stop offset="0.4265" stop-color="#ffcc00"/><stop offset="0.4396" stop-color="#ffb400"/><stop offset="0.4526" stop-color="#ff9f00"/><stop offset="0.4657" stop-color="#ff9100"/><stop offset="0.4853" stop-color="#ff8300"/><stop offset="0.5049" stop-color="#ff7e00"/><stop offset="0.5245" stop-color="#ff8300"/><stop offset="0.5441" stop-color="#ff9100"/><stop offset="0.5572" stop-color="#ff9f00"/><stop offset="0.5702" stop-color="#ffb400"/><stop offset="0.5833" stop-color="#ffcc00"/><stop offset="0.6029" stop-color="#fffa00"/><stop offset="0.6046" stop-color="#ffff00"/><stop offset="0.6225" stop-color="#ccff33"/><stop offset="0.6486" stop-color="#8aff75"/><stop offset="0.6682" stop-color="#50ffaf"/><stop offset="0.6911" stop-color="#0bfff4"/><stop offset="0.6948" stop-color="#00ffff"/><stop offset="0.7106" stop-color="#00d3ff"/><stop offset="0.7335" stop-color="#0096ff"/><stop offset="0.7564" stop-color="#0056ff"/><stop offset="0.7825" stop-color="#0008ff"/><stop offset="0.7867" stop-color="#0000ff"/><stop offset="0.8086" stop-color="#0000d4"/><stop offset="0.8347" stop-color="#0000b9"/><stop offset="0.8707" stop-color="#0000a9"/><stop offset="0.9295" stop-color="#0000a3"/><stop offset="1.0000" stop-color="#0000a3"/></linearGradient>
<linearGradient id="g96" gradientUnits="userSpaceOnUse" x1="28.4" x2="334.6" y1="0" y2="0"><stop offset="0.0000" stop-color="#0000a2"/><stop offset="0.0803" stop-color="#0000a2"/><stop offset="0.1391" stop-color="#0000a8"/><stop offset="0.1750" stop-color="#0000b5"/><stop offset="0.2012" stop-color="#0000ce"/><stop offset="0.2273" stop-color="#0000fc"/><stop offset="0.2284" stop-color="#0000ff"/><stop offset="0.2534" stop-color="#004bff"/><stop offset="0.2763" stop-color="#008dff"/><stop offset="0.2992" stop-color="#00ccff"/><stop offset="0.3170" stop-color="#00ffff"/><stop offset="0.3187" stop-color="#05fffa"/><stop offset="0.3416" stop-color="#4affb5"/><stop offset="0.3612" stop-color="#83ff7c"/><stop offset="0.3873" stop-color="#c5ff3a"/><stop offset="0.4069" stop-color="#fcff03"/><stop offset="0.4082" stop-color="#ffff00"/><stop offset="0.4265" stop-color="#ffd500"/><stop offset="0.4396" stop-color="#ffbd00"/><stop offset="0.4526" stop-color="#ffa800"/><stop offset="0.4657" stop-color="#ff9a00"/><stop offset="0.4853" stop-color="#ff8c00"/><stop offset="0.5049" stop-color="#ff8700"/><stop offset="0.5245" stop-color="#ff8c00"/><stop offset="0.5441" stop-color="#ff9a00"/><stop offset="0.5572" stop-color="#ffa800"/><stop offset="0.5702" stop-color="#ffbd00"/><stop offset="0.5833" stop-color="#ffd500"/><stop offset="0.6016" stop-color="#ffff00"/><stop offset="0.6029" stop-color="#fcff03"/><stop offset="0.6225" stop-color="#c5ff3a"/><stop offset="0.6486" stop-color="#83ff7c"/><stop offset="0.6682" stop-color="#4affb5"/><stop offset="0.6911" stop-color="#06fff9"/><stop offset="0.6931" stop-color="#00ffff"/><stop offset="0.7106" stop-color="#00ceff"/><stop offset="0.7335" stop-color="#0092ff"/><stop offset="0.7564" stop-color="#0053ff"/><stop offset="0.7825" stop-color="#0006ff"/><stop offset="0.7858" stop-color="#0000ff"/><stop offset="0.8086" stop-color="#0000d2"/><stop offset="0.8347" stop-color="#0000b8"/><stop offset="0.8707" stop-color="#0000a9"/><stop offset="0.9295" stop-color="#0000a3"/><stop offset="1.0000" stop-color="#0000a2"/></linearGradient>
<linearGradient id="g97" gradientUnits="userSpaceOnUse" x1="28.4" x2="334.6" y1="0" y2="0"><stop offset="0.0000" stop-color="#0000a4"/><stop offset="0.0803" stop-color="#0000a4"/><stop offset="0.1391" stop-color="#0000a9"/><stop offset="0.1750" stop-color="#0000b7"/><stop offset="0.2012" stop-color="#0000d0"/><stop offset="0.2273" stop-color="#0000fe"/><stop offset="0.2276" stop-color="#0000ff"/><stop offset="0.2534" stop-color="#004fff"/><stop offset="0.2763" stop-color="#0091ff"/><stop offset="0.2992" stop-color="#00d1ff"/><stop offset="0.3152" stop-color="#00ffff"/><stop offset="0.3187" stop-color="#0afff5"/><stop offset="0.3416" stop-color="#50ffaf"/><stop offset="0.3612" stop-color="#8aff75"/><stop offset="0.3873" stop-color="#ccff33"/><stop offset="0.4053" stop-color="#ffff00"/><stop offset="0.4069" stop-color="#fffa00"/><stop offset="0.4265" stop-color="#ffcd00"/><stop offset="0.4396" stop-color="#ffb500"/><stop offset="0.4526" stop-color="#ffa000"/><stop offset="0.4657" stop-color="#ff9100"/><stop offset="0.4853" stop-color="#ff8300"/><stop offset="0.5049" stop-color="#ff7e00"/><stop offset="0.5245" stop-color="#ff8300"/><stop offset="0.5441" stop-color="#ff9100"/><stop offset="0.5572" stop-color="#ffa000"/><stop offset="0.5702" stop-color="#ffb500"/><stop offset="0.5833" stop-color="#ffcd00"/><stop offset="0.6029" stop-color="#fffa00"/><stop offset="0.6045" stop-color="#ffff00"/><stop offset="0.6225" stop-color="#ccff33"/><stop offset="0.6486" stop-color="#8aff75"/><stop offset="0.6682" stop-color="#50ffaf"/><stop offset="0.6911" stop-color="#0bfff4"/><stop offset="0.6949" stop-color="#00ffff"/><stop offset="0.7106" stop-color="#00d3ff"/><stop offset="0.7335" stop-color="#0096ff"/><stop offset="0.7564" stop-color="#0056ff"/><stop offset="0.7825" stop-color="#0009ff"/><stop offset="0.7871" stop-color="#0000ff"/><stop offset="0.8086" stop-color="#0000d5"/><stop offset="0.8347" stop-color="#0000ba"/><stop offset="0.8707" stop-color="#0000aa"/><stop offset="0.9295" stop-color="#0000a4"/><stop offset="1.0000" stop-color="#0000a4"/></linearGradient>
<linearGradient id="g98" gradientUnits="userSpaceOnUse" x1="28.4" x2="334.6" y1="0" y2="0"><stop offset="0.0000" stop-color="#0000a9"/><stop offset="0.0803" stop-color="#0000a9"/><stop offset="0.1391" stop-color="#0000ae"/><stop offset="0.1750" stop-color="#0000bc"/><stop offset="0.2012" stop-color="#0000d5"/><stop offset="0.2250" stop-color="#0000ff"/><stop offset="0.2273" stop-color="#0004ff"/><stop offset="0.2534" stop-color="#0054ff"/><stop offset="0.2763" stop-color="#0096ff"/><stop offset="0.2992" stop-color="#00d6ff"/><stop offset="0.3135" stop-color="#00ffff"/><stop offset="0.3187" stop-color="#0ffff0"/><stop offset="0.3416" stop-color="#55ffaa"/><stop offset="0.3612" stop-color="#8fff70"/><stop offset="0.3873" stop-color="#d2ff2d"/><stop offset="0.4034" stop-color="#ffff00"/><stop offset="0.4069" stop-color="#fff500"/><stop offset="0.4265" stop-color="#ffc700"/><stop offset="0.4396" stop-color="#ffaf00"/><stop offset="0.4526" stop-color="#ff9a00"/><stop offset="0.4657" stop-color="#ff8c00"/><stop offset="0.4853" stop-color="#ff7e00"/><stop offset="0.5049" stop-color="#ff7900"/><stop offset="0.5245" stop-color="#ff7e00"/><stop offset="0.5441" stop-color="#ff8c00"/><stop offset="0.5572" stop-color="#ff9a00"/><stop offset="0.5702" stop-color="#ffaf00"/><stop offset="0.5833" stop-color="#ffc700"/><stop offset="0.6029" stop-color="#fff500"/><stop offset="0.6064" stop-color="#ffff00"/><stop offset="0.6225" stop-color="#d2ff2d"/><stop offset="0.6486" stop-color="#8fff70"/><stop offset="0.6682" stop-color="#55ffaa"/><stop offset="0.6911" stop-color="#10ffef"/><stop offset="0.6968" stop-color="#00ffff"/><stop offset="0.7106" stop-color="#00d8ff"/><stop offset="0.7335" stop-color="#009bff"/><stop offset="0.7564" stop-color="#005bff"/><stop offset="0.7825" stop-color="#000eff"/><stop offset="0.7896" stop-color="#0000ff"/><stop offset="0.8086" stop-color="#0000d9"/><stop offset="0.8347" stop-color="#0000bf"/><stop offset="0.8707" stop-color="#0000af"/><stop offset="0.9295" stop-color="#0000a9"/><stop offset="1.0000" stop-color="#0000a9"/></linearGradient>
<linearGradient id="g99" gradientUnits="userSpaceOnUse" x1="28.4" x2="334.6" y1="0" y2="0"><stop offset="0.0000" stop-color="#0000a5"/><stop offset="0.0803" stop-color="#0000a5"/><stop offset="0.1391" stop-color="#0000aa"/><stop offset="0.1750" stop-color="#0000b8"/><stop offset="0.2012" stop-color="#0000d1"/><stop offset="0.2263" stop-color="#0000ff"/><stop offset="0.2273" stop-color="#0002ff"/><stop offset="0.2534" stop-color="#0053ff"/><stop offset="0.2763" stop-color="#0097ff"/><stop offset="0.2992" stop-color="#00d8ff"/><stop offset="0.3125" stop-color="#00ffff"/><stop offset="0.3187" stop-color="#12ffed"/><stop offset="0.3416" stop-color="#5affa5"/><stop offset="0.3612" stop-color="#95ff6a"/><stop offset="0.3873" stop-color="#d9ff26"/><stop offset="0.4006" stop-color="#ffff00"/><stop offset="0.4069" stop-color="#ffed00"/><stop offset="0.4265" stop-color="#ffbe00"/><stop offset="0.4396" stop-color="#ffa600"/><stop offset="0.4526" stop-color="#ff9000"/><stop offset="0.4657" stop-color="#ff8100"/><stop offset="0.4853" stop-color="#ff7300"/><stop offset="0.5049" stop-color="#ff6e00"/><stop offset="0.5245" stop-color="#ff7300"/><stop offset="0.5441" stop-color="#ff8100"/><stop offset="0.5572" stop-color="#ff9000"/><stop offset="0.5702" stop-color="#ffa600"/><stop offset="0.5833" stop-color="#ffbe00"/><stop offset="0.6029" stop-color="#ffed00"/><stop offset="0.6092" stop-color="#ffff00"/><stop offset="0.6225" stop-color="#d9ff26"/><stop offset="0.6486" stop-color="#95ff6a"/><stop offset="0.6682" stop-color="#5affa5"/><stop offset="0.6911" stop-color="#13ffec"/><stop offset="0.6978" stop-color="#00ffff"/><stop offset="0.7106" stop-color="#00daff"/><stop offset="0.7335" stop-color="#009cff"/><stop offset="0.7564" stop-color="#005bff"/><stop offset="0.7825" stop-color="#000cff"/><stop offset="0.7884" stop-color="#0000ff"/><stop offset="0.8086" stop-color="#0000d6"/><stop offset="0.8347" stop-color="#0000bb"/><stop offset="0.8707" stop-color="#0000ab"/><stop offset="0.9295" stop-color="#0000a5"/><stop offset="1.0000" stop-color="#0000a5"/></linearGradient>
<linearGradient id="g100" gradientUnits="userSpaceOnUse" x1="28.4" x2="334.6" y1="0" y2="0"><stop offset="0.0000" stop-color="#000096"/><stop offset="0.0803" stop-color="#000096"/><stop offset="0.1391" stop-color="#00009c"/><stop offset="0.1750" stop-color="#0000aa"/><stop offset="0.2012" stop-color="#0000c3"/><stop offset="0.2273" stop-color="#0000f2"/><stop offset="0.2314" stop-color="#0000ff"/><stop offset="0.2534" stop-color="#0044ff"/><stop offset="0.2763" stop-color="#0089ff"/><stop offset="0.2992" stop-color="#00c9ff"/><stop offset="0.3175" stop-color="#00ffff"/><stop offset="0.3187" stop-color="#04fffb"/><stop offset="0.3416" stop-color="#4bffb4"/><stop offset="0.3612" stop-color="#86ff79"/><stop offset="0.3873" stop-color="#caff35"/><stop offset="0.4057" stop-color="#ffff00"/><stop offset="0.4069" stop-color="#fffb00"/><stop offset="0.4265" stop-color="#ffcd00"/><stop offset="0.4396" stop-color="#ffb400"/><stop offset="0.4526" stop-color="#ff9f00"/><stop offset="0.4657" stop-color="#ff9000"/><stop offset="0.4853" stop-color="#ff8200"/><stop offset="0.5049" stop-color="#ff7d00"/><stop offset="0.5245" stop-color="#ff8200"/><stop offset="0.5441" stop-color="#ff9000"/><stop offset="0.5572" stop-color="#ff9f00"/><stop offset="0.5702" stop-color="#ffb400"/><stop offset="0.5833" stop-color="#ffcd00"/><stop offset="0.6029" stop-color="#fffb00"/><stop offset="0.6041" stop-color="#ffff00"/><stop offset="0.6225" stop-color="#caff35"/><stop offset="0.6486" stop-color="#86ff79"/><stop offset="0.6682" stop-color="#4bffb4"/><stop offset="0.6911" stop-color="#05fffa"/><stop offset="0.6926" stop-color="#00ffff"/><stop offset="0.7106" stop-color="#00cbff"/><stop offset="0.7335" stop-color="#008dff"/><stop offset="0.7564" stop-color="#004cff"/><stop offset="0.7816" stop-color="#0000ff"/><stop offset="0.7825" stop-color="#0000fc"/><stop offset="0.8086" stop-color="#0000c8"/><stop offset="0.8347" stop-color="#0000ac"/><stop offset="0.8707" stop-color="#00009d"/><stop offset="0.9295" stop-color="#000097"/><stop offset="1.0000" stop-color="#000096"/></linearGradient>
</defs>
<g shape-rendering="crispEdges">
<rect x="28.4" y="4.00" width="306.20" height="1.05" fill="url(#g0)"/>
<rect x="28.4" y="5.00" width="306.20" height="3.05" fill="url(#g1)"/>
<rect x="28.4" y="8.00" width="306.20" height="2.05" fill="url(#g2)"/>
<rect x="28.4" y="10.00" width="306.20" height="2.05" fill="url(#g3)"/>
<rect x="28.4" y="12.00" width="306.20" height="1.05" fill="url(#g4)"/>
<rect x="28.4" y="13.00" width="306.20" height="2.05" fill="url(#g5)"/>
<rect x="28.4" y="15.00" width="306.20" height="1.05" fill="url(#g6)"/>
<rect x="28.4" y="16.00" width="306.20" height="2.05" fill="url(#g7)"/>
<rect x="28.4" y="18.00" width="306.20" height="1.05" fill="url(#g8)"/>
<rect x="28.4" y="19.00" width="306.20" height="1.05" fill="url(#g9)"/>
<rect x="28.4" y="20.00" width="306.20" height="1.05" fill="url(#g10)"/>
<rect x="28.4" y="21.00" width="306.20" height="1.05" fill="url(#g11)"/>
<rect x="28.4" y="22.00" width="306.20" height="2.05" fill="url(#g12)"/>
<rect x="28.4" y="24.00" width="306.20" height="1.05" fill="url(#g13)"/>
<rect x="28.4" y="25.00" width="306.20" height="1.05" fill="url(#g14)"/>
<rect x="28.4" y="26.00" width="306.20" height="3.05" fill="url(#g15)"/>
<rect x="28.4" y="29.00" width="306.20" height="3.05" fill="url(#g16)"/>
<rect x="28.4" y="32.00" width="306.20" height="1.05" fill="url(#g17)"/>
<rect x="28.4" y="33.00" width="306.20" height="1.05" fill="url(#g18)"/>
<rect x="28.4" y="34.00" width="306.20" height="1.05" fill="url(#g19)"/>
<rect x="28.4" y="35.00" width="306.20" height="1.05" fill="url(#g20)"/>
<rect x="28.4" y="36.00" width="306.20" height="2.05" fill="url(#g21)"/>
<rect x="28.4" y="38.00" width="306.20" height="1.05" fill="url(#g22)"/>
<rect x="28.4" y="39.00" width="306.20" height="2.05" fill="url(#g23)"/>
<rect x="28.4" y="41.00" width="306.20" height="1.05" fill="url(#g24)"/>
<rect x="28.4" y="42.00" width="306.20" height="1.05" fill="url(#g25)"/>
<rect x="28.4" y="43.00" width="306.20" height="1.05" fill="url(#g26)"/>
<rect x="28.4" y="44.00" width="306.20" height="1.05" fill="url(#g27)"/>
<rect x="28.4" y="45.00" width="306.20" height="2.05" fill="url(#g28)"/>
<rect x="28.4" y="47.00" width="306.20" height="1.05" fill="url(#g29)"/>
<rect x="28.4" y="48.00" width="306.20" height="2.05" fill="url(#g30)"/>
<rect x="28.4" y="50.00" width="306.20" height="1.05" fill="url(#g31)"/>
<rect x="28.4" y="51.00" width="306.20" height="2.05" fill="url(#g32)"/>
<rect x="28.4" y="53.00" width="306.20" height="1.05" fill="url(#g33)"/>
<rect x="28.4" y="54.00" width="306.20" height="2.05" fill="url(#g34)"/>
<rect x="28.4" y="56.00" width="306.20" height="1.05" fill="url(#g35)"/>
<rect x="28.4" y="57.00" width="306.20" height="3.05" fill="url(#g36)"/>
<rect x="28.4" y="60.00" width="306.20" height="2.05" fill="url(#g37)"/>
<rect x="28.4" y="62.00" width="306.20" height="2.05" fill="url(#g38)"/>
<rect x="28.4" y="64.00" width="306.20" height="1.05" fill="url(#g39)"/>
<rect x="28.4" y="65.00" width="306.20" height="2.05" fill="url(#g40)"/>
<rect x="28.4" y="67.00" width="306.20" height="3.05" fill="url(#g41)"/>
<rect x="28.4" y="70.00" width="306.20" height="1.05" fill="url(#g42)"/>
<rect x="28.4" y="71.00" width="306.20" height="1.05" fill="url(#g43)"/>
<rect x="28.4" y="72.00" width="306.20" height="2.05" fill="url(#g44)"/>
<rect x="28.4" y="74.00" width="306.20" height="2.05" fill="url(#g45)"/>
<rect x="28.4" y="76.00" width="306.20" height="2.05" fill="url(#g46)"/>
<rect x="28.4" y="78.00" width="306.20" height="2.05" fill="url(#g47)"/>
<rect x="28.4" y="80.00" width="306.20" height="2.05" fill="url(#g48)"/>
<rect x="28.4" y="82.00" width="306.20" height="2.05" fill="url(#g49)"/>
<rect x="28.4" y="84.00" width="306.20" height="2.05" fill="url(#g50)"/>
<rect x="28.4" y="86.00" width="306.20" height="2.05" fill="url(#g51)"/>
<rect x="28.4" y="88.00" width="306.20" height="2.05" fill="url(#g52)"/>
<rect x="28.4" y="90.00" width="306.20" height="1.05" fill="url(#g53)"/>
<rect x="28.4" y="91.00" width="306.20" height="2.05" fill="url(#g54)"/>
<rect x="28.4" y="93.00" width="306.20" height="1.05" fill="url(#g55)"/>
<rect x="28.4" y="94.00" width="306.20" height="1.05" fill="url(#g56)"/>
<rect x="28.4" y="95.00" width="306.20" height="2.05" fill="url(#g57)"/>
<rect x="28.4" y="97.00" width="306.20" height="2.05" fill="url(#g58)"/>
<rect x="28.4" y="99.00" width="306.20" height="2.05" fill="url(#g59)"/>
<rect x="28.4" y="101.00" width="306.20" height="1.05" fill="url(#g60)"/>
<rect x="28.4" y="102.00" width="306.20" height="1.05" fill="url(#g61)"/>
<rect x="28.4" y="103.00" width="306.20" height="1.05" fill="url(#g62)"/>
<rect x="28.4" y="104.00" width="306.20" height="1.05" fill="url(#g63)"/>
<rect x="28.4" y="105.00" width="306.20" height="2.05" fill="url(#g64)"/>
<rect x="28.4" y="107.00" width="306.20" height="2.05" fill="url(#g65)"/>
<rect x="28.4" y="109.00" width="306.20" height="1.05" fill="url(#g66)"/>
<rect x="28.4" y="110.00" width="306.20" height="1.05" fill="url(#g67)"/>
<rect x="28.4" y="111.00" width="306.20" height="3.05" fill="url(#g68)"/>
<rect x="28.4" y="114.00" width="306.20" height="1.05" fill="url(#g69)"/>
<rect x="28.4" y="115.00" width="306.20" height="2.05" fill="url(#g70)"/>
<rect x="28.4" y="117.00" width="306.20" height="1.05" fill="url(#g71)"/>
<rect x="28.4" y="118.00" width="306.20" height="2.05" fill="url(#g72)"/>
<rect x="28.4" y="120.00" width="306.20" height="2.05" fill="url(#g73)"/>
<rect x="28.4" y="122.00" width="306.20" height="2.05" fill="url(#g74)"/>
<rect x="28.4" y="124.00" width="306.20" height="3.05" fill="url(#g75)"/>
<rect x="28.4" y="127.00" width="306.20" height="1.05" fill="url(#g76)"/>
<rect x="28.4" y="128.00" width="306.20" height="2.05" fill="url(#g77)"/>
<rect x="28.4" y="130.00" width="306.20" height="2.05" fill="url(#g78)"/>
<rect x="28.4" y="132.00" width="306.20" height="1.05" fill="url(#g79)"/>
<rect x="28.4" y="133.00" width="306.20" height="2.05" fill="url(#g80)"/>
<rect x="28.4" y="135.00" width="306.20" height="1.05" fill="url(#g81)"/>
<rect x="28.4" y="136.00" width="306.20" height="1.05" fill="url(#g82)"/>
<rect x="28.4" y="137.00" width="306.20" height="1.05" fill="url(#g83)"/>
<rect x="28.4" y="138.00" width="306.20" height="3.05" fill="url(#g84)"/>
<rect x="28.4" y="141.00" width="306.20" height="2.05" fill="url(#g85)"/>
<rect x="28.4" y="143.00" width="306.20" height="1.05" fill="url(#g86)"/>
<rect x="28.4" y="144.00" width="306.20" height="3.05" fill="url(#g87)"/>
<rect x="28.4" y="147.00" width="306.20" height="1.05" fill="url(#g88)"/>
<rect x="28.4" y="148.00" width="306.20" height="1.05" fill="url(#g89)"/>
<rect x="28.4" y="149.00" width="306.20" height="1.05" fill="url(#g90)"/>
<rect x="28.4" y="150.00" width="306.20" height="2.05" fill="url(#g91)"/>
<rect x="28.4" y="152.00" width="306.20" height="3.05" fill="url(#g92)"/>
<rect x="28.4" y="155.00" width="306.20" height="1.05" fill="url(#g93)"/>
<rect x="28.4" y="156.00" width="306.20" height="3.05" fill="url(#g94)"/>
<rect x="28.4" y="159.00" width="306.20" height="1.05" fill="url(#g95)"/>
<rect x="28.4" y="160.00" width="306.20" height="3.05" fill="url(#g96)"/>
<rect x="28.4" y="163.00" width="306.20" height="2.05" fill="url(#g97)"/>
<rect x="28.4" y="165.00" width="306.20" height="3.05" fill="url(#g98)"/>
<rect x="28.4" y="168.00" width="306.20" height="1.05" fill="url(#g99)"/>
<rect x="28.4" y="169.00" width="306.20" height="1.05" fill="url(#g100)"/>
<rect x="28.4" y="3.9" width="306.20" height="0.10" fill="url(#g0)" shape-rendering="auto"/>
<rect x="28.4" y="170" width="306.20" height="0.40" fill="url(#g100)" shape-rendering="auto"/>
</g>
<path d="M89.62 3.9v3M89.62 170.4v-3M150.84 3.9v3M150.84 170.4v-3M212.06 3.9v3M212.06 170.4v-3M273.28 3.9v3M273.28 170.4v-3" stroke="#000" stroke-opacity="0.12" stroke-width="0.8"/>
<rect x="28.4" y="178.5" width="306.10" height="166.70" class="ax"/>
<path d="M28.4 317.42h3M334.5 317.42h-3M28.4 289.63h3M334.5 289.63h-3M28.4 261.85h3M334.5 261.85h-3M28.4 234.07h3M334.5 234.07h-3M28.4 206.28h3M334.5 206.28h-3M89.62 345.2v-3M89.62 178.5v3M150.84 345.2v-3M150.84 178.5v3M212.06 345.2v-3M212.06 178.5v3M273.28 345.2v-3M273.28 178.5v3" class="ax"/>
<polyline points="28.4,325.68 29.7,325.64 31.0,325.71 32.2,325.71 33.5,325.71 34.8,325.63 36.1,325.60 37.3,325.48 38.6,325.51 39.9,325.52 41.2,325.54 42.4,325.63 43.7,325.37 45.0,325.34 46.3,325.10 47.5,325.21 48.8,325.31 50.1,325.37 51.4,325.23 52.6,325.09 53.9,324.90 55.2,324.98 56.5,324.82 57.7,324.81 59.0,324.74 60.3,324.74 61.6,324.62 62.8,324.40 64.1,324.15 65.4,323.92 66.7,323.82 67.9,323.57 69.2,323.30 70.5,323.35 71.8,323.18 73.0,322.92 74.3,322.61 75.6,322.08 76.9,321.86 78.1,321.57 79.4,321.17 80.7,320.81 82.0,320.32 83.2,320.13 84.5,319.65 85.8,319.06 87.1,318.52 88.3,317.95 89.6,317.34 90.9,316.74 92.2,316.05 93.4,315.48 94.7,314.71 96.0,314.17 97.3,313.31 98.5,312.61 99.8,311.59 101.1,310.64 102.4,309.50 103.6,308.54 104.9,307.66 106.2,306.50 107.5,305.64 108.8,304.38 110.0,302.96 111.3,301.76 112.6,300.30 113.9,299.21 115.1,297.71 116.4,296.32 117.7,294.99 119.0,293.42 120.2,291.78 121.5,290.31 122.8,288.79 124.1,287.27 125.3,285.39 126.6,283.90 127.9,282.33 129.2,280.93 130.4,279.44 131.7,277.42 133.0,275.51 134.3,273.69 135.5,272.11 136.8,270.48 138.1,268.57 139.4,266.97 140.6,265.01 141.9,263.27 143.2,261.68 144.5,259.84 145.7,258.01 147.0,256.31 148.3,254.87 149.6,253.00 150.8,251.52 152.1,249.89 153.4,248.45 154.7,246.98 155.9,245.69 157.2,244.05 158.5,243.05 159.8,241.38 161.0,240.01 162.3,239.01 163.6,237.67 164.9,236.74 166.1,236.26 167.4,234.82 168.7,234.29 170.0,233.28 171.2,232.79 172.5,232.23 173.8,231.73 175.1,231.12 176.3,230.40 177.6,229.45 178.9,229.66 180.2,229.59 181.5,229.68 182.7,229.53 184.0,229.42 185.3,229.24 186.6,229.10 187.8,229.42 189.1,229.28 190.4,229.56 191.7,229.86 192.9,230.25 194.2,230.83 195.5,231.10 196.8,232.41 198.0,233.14 199.3,234.02 200.6,234.46 201.9,234.99 203.1,236.12 204.4,237.18 205.7,238.42 207.0,239.74 208.2,241.25 209.5,242.28 210.8,243.53 212.1,245.20 213.3,246.35 214.6,247.76 215.9,249.43 217.2,250.60 218.4,252.09 219.7,254.05 221.0,256.09 222.3,257.65 223.5,259.35 224.8,261.07 226.1,262.67 227.4,264.57 228.6,266.35 229.9,267.63 231.2,269.73 232.5,271.23 233.7,273.06 235.0,274.99 236.3,276.97 237.6,278.63 238.8,280.22 240.1,281.79 241.4,283.49 242.7,285.27 243.9,286.78 245.2,288.39 246.5,289.84 247.8,291.24 249.0,293.35 250.3,294.84 251.6,295.97 252.9,297.39 254.1,298.80 255.4,300.16 256.7,301.28 258.0,302.72 259.3,303.84 260.5,305.06 261.8,306.24 263.1,307.32 264.4,308.39 265.6,309.32 266.9,310.43 268.2,311.22 269.5,312.06 270.7,312.90 272.0,313.67 273.3,314.54 274.6,315.29 275.8,315.87 277.1,316.58 278.4,317.21 279.7,317.87 280.9,318.36 282.2,318.85 283.5,319.38 284.8,319.91 286.0,320.26 287.3,320.73 288.6,321.19 289.9,321.43 291.1,321.89 292.4,322.22 293.7,322.43 295.0,322.71 296.2,323.02 297.5,323.07 298.8,323.49 300.1,323.54 301.3,323.70 302.6,323.89 303.9,324.02 305.2,324.18 306.4,324.36 307.7,324.45 309.0,324.70 310.3,324.86 311.5,325.00 312.8,325.16 314.1,325.18 315.4,325.22 316.6,325.16 317.9,325.21 319.2,325.24 320.5,325.33 321.7,325.40 323.0,325.48 324.3,325.51 325.6,325.47 326.8,325.64 328.1,325.70 329.4,325.82 330.7,325.72 331.9,325.74 333.2,325.72 334.5,325.76" fill="none" stroke="#0072BD" stroke-width="1.4" stroke-opacity="0.8" stroke-linejoin="round"/>
<polyline points="28.4,321.92 29.7,321.93 31.0,321.99 32.2,321.95 33.5,321.94 34.8,321.81 36.1,321.82 37.3,321.83 38.6,321.85 39.9,321.73 41.2,321.79 42.4,321.78 43.7,321.75 45.0,321.70 46.3,321.72 47.5,321.51 48.8,321.49 50.1,321.45 51.4,321.40 52.6,321.34 53.9,321.33 55.2,321.17 56.5,321.17 57.7,320.97 59.0,320.93 60.3,320.82 61.6,320.65 62.8,320.41 64.1,320.35 65.4,320.09 66.7,319.93 67.9,319.85 69.2,319.61 70.5,319.45 71.8,319.14 73.0,319.02 74.3,318.63 75.6,318.19 76.9,317.87 78.1,317.46 79.4,317.17 80.7,316.74 82.0,316.39 83.2,315.85 84.5,315.44 85.8,314.79 87.1,314.23 88.3,313.74 89.6,312.98 90.9,312.29 92.2,311.54 93.4,310.80 94.7,309.87 96.0,309.01 97.3,308.09 98.5,307.20 99.8,306.21 101.1,305.17 102.4,304.20 103.6,302.89 104.9,301.68 106.2,300.42 107.5,299.37 108.8,298.01 110.0,296.75 111.3,295.19 112.6,293.83 113.9,292.21 115.1,290.54 116.4,288.94 117.7,286.91 119.0,285.45 120.2,283.87 121.5,281.88 122.8,280.14 124.1,278.21 125.3,276.16 126.6,274.29 127.9,272.32 129.2,270.03 130.4,267.96 131.7,265.73 133.0,263.67 134.3,261.30 135.5,259.34 136.8,256.99 138.1,254.69 139.4,252.46 140.6,250.69 141.9,248.55 143.2,246.27 144.5,244.15 145.7,242.16 147.0,239.81 148.3,237.88 149.6,235.80 150.8,234.11 152.1,232.18 153.4,230.06 154.7,227.97 155.9,226.10 157.2,224.51 158.5,222.82 159.8,221.31 161.0,220.03 162.3,218.79 163.6,217.17 164.9,215.74 166.1,214.42 167.4,213.22 168.7,211.96 170.0,211.39 171.2,210.53 172.5,209.80 173.8,209.08 175.1,208.47 176.3,208.12 177.6,207.58 178.9,206.61 180.2,206.69 181.5,206.73 182.7,206.87 184.0,206.63 185.3,206.45 186.6,206.75 187.8,206.70 189.1,206.98 190.4,207.63 191.7,207.56 192.9,207.71 194.2,208.71 195.5,209.67 196.8,209.99 198.0,210.61 199.3,211.95 200.6,212.93 201.9,214.21 203.1,215.67 204.4,217.18 205.7,218.13 207.0,219.41 208.2,220.98 209.5,222.14 210.8,224.14 212.1,226.18 213.3,227.61 214.6,229.37 215.9,231.21 217.2,233.47 218.4,235.13 219.7,237.34 221.0,239.46 222.3,241.28 223.5,243.48 224.8,245.61 226.1,247.63 227.4,250.25 228.6,252.05 229.9,254.09 231.2,256.07 232.5,258.44 233.7,260.53 235.0,263.10 236.3,265.19 237.6,267.46 238.8,269.24 240.1,271.60 241.4,273.42 242.7,275.52 243.9,277.15 245.2,278.99 246.5,280.97 247.8,282.80 249.0,284.30 250.3,286.23 251.6,288.02 252.9,289.83 254.1,291.68 255.4,293.14 256.7,294.59 258.0,296.07 259.3,297.50 260.5,298.84 261.8,300.10 263.1,301.27 264.4,302.61 265.6,303.63 266.9,304.75 268.2,305.96 269.5,307.04 270.7,308.07 272.0,308.94 273.3,309.80 274.6,310.41 275.8,311.31 277.1,312.08 278.4,312.72 279.7,313.45 280.9,314.08 282.2,314.64 283.5,315.20 284.8,315.76 286.0,316.14 287.3,316.56 288.6,316.99 289.9,317.35 291.1,317.75 292.4,318.12 293.7,318.50 295.0,318.78 296.2,319.07 297.5,319.30 298.8,319.51 300.1,319.78 301.3,319.90 302.6,320.10 303.9,320.21 305.2,320.48 306.4,320.58 307.7,320.67 309.0,320.85 310.3,320.99 311.5,321.02 312.8,321.20 314.1,321.33 315.4,321.38 316.6,321.40 317.9,321.44 319.2,321.49 320.5,321.57 321.7,321.40 323.0,321.55 324.3,321.64 325.6,321.68 326.8,321.76 328.1,321.70 329.4,321.78 330.7,321.89 331.9,321.89 333.2,321.92 334.5,321.91" fill="none" stroke="#D95319" stroke-width="1.4" stroke-opacity="0.8" stroke-linejoin="round"/>
<polyline points="28.4,329.50 29.7,329.35 31.0,329.35 32.2,329.39 33.5,329.29 34.8,329.22 36.1,329.23 37.3,329.33 38.6,329.25 39.9,329.25 41.2,329.31 42.4,329.22 43.7,329.20 45.0,329.13 46.3,329.24 47.5,329.32 48.8,329.31 50.1,329.12 51.4,329.15 52.6,329.07 53.9,329.02 55.2,328.88 56.5,328.87 57.7,328.87 59.0,328.68 60.3,328.58 61.6,328.45 62.8,328.44 64.1,328.22 65.4,328.26 66.7,328.03 67.9,328.07 69.2,328.02 70.5,327.78 71.8,327.70 73.0,327.45 74.3,327.30 75.6,327.00 76.9,326.64 78.1,326.61 79.4,326.27 80.7,325.92 82.0,325.83 83.2,325.57 84.5,325.14 85.8,324.80 87.1,324.50 88.3,324.15 89.6,323.78 90.9,323.18 92.2,322.67 93.4,321.96 94.7,321.66 96.0,321.09 97.3,320.56 98.5,319.69 99.8,319.11 101.1,318.30 102.4,317.56 103.6,316.89 104.9,316.10 106.2,315.11 107.5,314.23 108.8,313.25 110.0,312.48 111.3,311.30 112.6,310.41 113.9,309.42 115.1,308.11 116.4,306.86 117.7,305.89 119.0,304.67 120.2,303.41 121.5,302.16 122.8,300.85 124.1,299.40 125.3,298.11 126.6,296.76 127.9,295.12 129.2,293.58 130.4,292.37 131.7,290.68 133.0,289.46 134.3,287.99 135.5,286.16 136.8,284.61 138.1,283.23 139.4,281.67 140.6,280.20 141.9,278.86 143.2,277.21 144.5,275.39 145.7,274.13 147.0,272.61 148.3,270.59 149.6,269.37 150.8,268.23 152.1,266.76 153.4,265.17 154.7,264.12 155.9,263.14 157.2,261.72 158.5,260.52 159.8,259.32 161.0,258.37 162.3,257.45 163.6,256.08 164.9,254.77 166.1,254.08 167.4,253.21 168.7,252.09 170.0,251.83 171.2,251.18 172.5,250.40 173.8,250.03 175.1,249.80 176.3,249.48 177.6,248.64 178.9,248.83 180.2,248.31 181.5,248.46 182.7,248.32 184.0,247.93 185.3,247.75 186.6,248.14 187.8,247.80 189.1,248.38 190.4,248.49 191.7,249.18 192.9,249.68 194.2,250.01 195.5,250.62 196.8,251.07 198.0,251.90 199.3,252.16 200.6,253.10 201.9,253.71 203.1,254.78 204.4,255.99 205.7,257.04 207.0,258.14 208.2,259.27 209.5,260.26 210.8,261.44 212.1,262.77 213.3,263.91 214.6,265.07 215.9,266.28 217.2,268.29 218.4,269.54 219.7,270.45 221.0,272.11 222.3,273.36 223.5,275.24 224.8,276.74 226.1,278.12 227.4,279.65 228.6,281.26 229.9,282.67 231.2,284.03 232.5,285.87 233.7,287.23 235.0,288.75 236.3,290.07 237.6,291.57 238.8,293.41 240.1,294.81 241.4,296.62 242.7,297.69 243.9,298.99 245.2,300.37 246.5,301.76 247.8,302.83 249.0,304.20 250.3,305.45 251.6,306.73 252.9,307.81 254.1,308.96 255.4,309.99 256.7,310.94 258.0,311.90 259.3,312.92 260.5,313.92 261.8,314.98 263.1,315.64 264.4,316.49 265.6,317.38 266.9,318.33 268.2,319.07 269.5,319.62 270.7,320.32 272.0,320.81 273.3,321.50 274.6,322.01 275.8,322.49 277.1,322.91 278.4,323.30 279.7,323.81 280.9,324.22 282.2,324.66 283.5,325.06 284.8,325.33 286.0,325.73 287.3,325.94 288.6,326.23 289.9,326.44 291.1,326.63 292.4,326.87 293.7,327.29 295.0,327.49 296.2,327.67 297.5,327.89 298.8,328.01 300.1,328.04 301.3,328.26 302.6,328.45 303.9,328.57 305.2,328.57 306.4,328.52 307.7,328.72 309.0,328.72 310.3,328.82 311.5,328.75 312.8,328.78 314.1,328.82 315.4,328.95 316.6,329.05 317.9,328.92 319.2,329.07 320.5,329.12 321.7,329.17 323.0,329.06 324.3,329.23 325.6,329.19 326.8,329.16 328.1,329.13 329.4,329.26 330.7,329.35 331.9,329.42 333.2,329.40 334.5,329.42" fill="none" stroke="#EDB120" stroke-width="1.4" stroke-opacity="0.8" stroke-linejoin="round"/>
<polyline points="28.4,328.52 29.7,328.47 31.0,328.49 32.2,328.47 33.5,328.62 34.8,328.64 36.1,328.57 37.3,328.46 38.6,328.30 39.9,328.27 41.2,328.36 42.4,328.40 43.7,328.40 45.0,328.47 46.3,328.27 47.5,328.18 48.8,328.16 50.1,328.13 51.4,328.28 52.6,328.02 53.9,328.06 55.2,327.96 56.5,327.81 57.7,327.85 59.0,327.83 60.3,327.82 61.6,327.68 62.8,327.51 64.1,327.43 65.4,327.51 66.7,327.34 67.9,327.13 69.2,327.08 70.5,326.80 71.8,326.67 73.0,326.41 74.3,326.36 75.6,326.21 76.9,325.78 78.1,325.55 79.4,325.43 80.7,325.07 82.0,324.87 83.2,324.52 84.5,324.04 85.8,323.75 87.1,323.36 88.3,322.69 89.6,322.19 90.9,321.86 92.2,321.19 93.4,320.75 94.7,320.07 96.0,319.45 97.3,318.66 98.5,317.84 99.8,317.11 101.1,316.43 102.4,315.70 103.6,314.71 104.9,313.80 106.2,312.93 107.5,311.91 108.8,310.95 110.0,309.91 111.3,308.53 112.6,307.28 113.9,306.01 115.1,304.96 116.4,303.65 117.7,302.23 119.0,300.66 120.2,299.31 121.5,297.75 122.8,296.25 124.1,294.69 125.3,293.03 126.6,291.42 127.9,289.97 129.2,288.19 130.4,286.61 131.7,284.99 133.0,283.34 134.3,281.46 135.5,279.23 136.8,277.64 138.1,276.17 139.4,274.18 140.6,272.24 141.9,270.28 143.2,268.88 144.5,266.99 145.7,265.11 147.0,263.12 148.3,261.23 149.6,259.45 150.8,257.87 152.1,256.41 153.4,255.37 154.7,253.88 155.9,252.05 157.2,250.32 158.5,249.30 159.8,247.92 161.0,246.38 162.3,244.65 163.6,243.87 164.9,242.42 166.1,242.02 167.4,240.90 168.7,239.63 170.0,239.10 171.2,238.68 172.5,238.02 173.8,237.41 175.1,236.57 176.3,236.40 177.6,235.56 178.9,235.24 180.2,234.93 181.5,235.25 182.7,234.82 184.0,234.73 185.3,234.04 186.6,234.38 187.8,234.85 189.1,235.00 190.4,235.37 191.7,235.88 192.9,236.12 194.2,236.42 195.5,237.64 196.8,238.37 198.0,239.37 199.3,240.07 200.6,240.98 201.9,241.64 203.1,242.27 204.4,243.35 205.7,244.44 207.0,245.70 208.2,247.21 209.5,248.51 210.8,250.06 212.1,251.76 213.3,253.44 214.6,254.77 215.9,256.45 217.2,258.22 218.4,259.27 219.7,260.68 221.0,262.57 222.3,264.40 223.5,266.27 224.8,268.02 226.1,270.13 227.4,271.92 228.6,273.73 229.9,275.32 231.2,277.07 232.5,278.88 233.7,280.59 235.0,282.70 236.3,284.04 237.6,285.54 238.8,287.46 240.1,289.07 241.4,290.68 242.7,292.35 243.9,294.22 245.2,295.90 246.5,297.31 247.8,298.68 249.0,300.21 250.3,301.86 251.6,303.14 252.9,304.35 254.1,305.45 255.4,306.76 256.7,307.98 258.0,309.16 259.3,310.42 260.5,311.74 261.8,312.73 263.1,313.62 264.4,314.54 265.6,315.31 266.9,316.05 268.2,316.83 269.5,317.70 270.7,318.34 272.0,319.06 273.3,319.59 274.6,320.36 275.8,320.98 277.1,321.60 278.4,322.20 279.7,322.51 280.9,322.93 282.2,323.38 283.5,323.79 284.8,324.08 286.0,324.55 287.3,324.94 288.6,325.10 289.9,325.45 291.1,325.59 292.4,325.79 293.7,326.11 295.0,326.28 296.2,326.53 297.5,326.73 298.8,327.00 300.1,327.05 301.3,327.11 302.6,327.22 303.9,327.41 305.2,327.42 306.4,327.60 307.7,327.66 309.0,327.60 310.3,327.86 311.5,328.02 312.8,328.01 314.1,328.04 315.4,328.09 316.6,328.05 317.9,328.14 319.2,328.20 320.5,328.17 321.7,328.28 323.0,328.38 324.3,328.42 325.6,328.23 326.8,328.33 328.1,328.47 329.4,328.42 330.7,328.38 331.9,328.21 333.2,328.28 334.5,328.32" fill="none" stroke="#7E2F8E" stroke-width="1.4" stroke-opacity="0.8" stroke-linejoin="round"/>
<polyline points="28.4,330.58 29.7,330.62 31.0,330.52 32.2,330.50 33.5,330.49 34.8,330.53 36.1,330.64 37.3,330.48 38.6,330.46 39.9,330.48 41.2,330.24 42.4,330.19 43.7,330.28 45.0,330.22 46.3,330.41 47.5,330.28 48.8,330.33 50.1,330.28 51.4,330.36 52.6,330.15 53.9,330.17 55.2,330.22 56.5,330.22 57.7,330.15 59.0,330.06 60.3,330.12 61.6,330.01 62.8,329.81 64.1,329.67 65.4,329.69 66.7,329.60 67.9,329.42 69.2,329.24 70.5,329.20 71.8,329.14 73.0,329.08 74.3,328.81 75.6,328.65 76.9,328.54 78.1,328.35 79.4,328.22 80.7,327.90 82.0,327.52 83.2,327.29 84.5,326.94 85.8,326.70 87.1,326.38 88.3,326.02 89.6,325.72 90.9,325.34 92.2,324.90 93.4,324.31 94.7,323.95 96.0,323.51 97.3,322.98 98.5,322.35 99.8,321.93 101.1,321.21 102.4,320.32 103.6,319.75 104.9,318.96 106.2,318.26 107.5,317.55 108.8,316.54 110.0,315.63 111.3,314.88 112.6,313.80 113.9,312.81 115.1,311.72 116.4,310.67 117.7,309.62 119.0,308.59 120.2,307.16 121.5,306.03 122.8,304.64 124.1,303.43 125.3,302.12 126.6,300.98 127.9,299.37 129.2,298.27 130.4,296.89 131.7,295.22 133.0,293.72 134.3,292.34 135.5,290.72 136.8,289.29 138.1,287.97 139.4,286.53 140.6,284.87 141.9,283.30 143.2,282.01 144.5,280.18 145.7,278.75 147.0,277.34 148.3,275.94 149.6,274.17 150.8,272.89 152.1,271.54 153.4,270.44 154.7,268.86 155.9,267.60 157.2,266.53 158.5,265.36 159.8,263.97 161.0,263.00 162.3,261.80 163.6,260.94 164.9,259.91 166.1,258.83 167.4,258.18 168.7,257.68 170.0,256.84 171.2,256.17 172.5,255.46 173.8,255.19 175.1,254.65 176.3,254.31 177.6,253.76 178.9,253.55 180.2,253.15 181.5,253.19 182.7,252.67 184.0,253.07 185.3,252.93 186.6,253.16 187.8,253.88 189.1,253.66 190.4,254.42 191.7,254.57 192.9,254.68 194.2,255.51 195.5,255.45 196.8,256.00 198.0,256.88 199.3,257.58 200.6,258.05 201.9,258.79 203.1,259.23 204.4,260.49 205.7,261.61 207.0,262.59 208.2,263.94 209.5,264.90 210.8,266.50 212.1,267.79 213.3,268.64 214.6,269.80 215.9,271.35 217.2,272.73 218.4,274.07 219.7,275.46 221.0,276.80 222.3,278.39 223.5,279.92 224.8,281.15 226.1,282.71 227.4,284.38 228.6,285.93 229.9,287.25 231.2,288.88 232.5,290.56 233.7,291.95 235.0,293.48 236.3,294.67 237.6,296.18 238.8,297.82 240.1,299.13 241.4,300.50 242.7,301.75 243.9,303.04 245.2,304.37 246.5,305.75 247.8,306.65 249.0,307.93 250.3,309.18 251.6,310.33 252.9,311.22 254.1,312.32 255.4,313.42 256.7,314.39 258.0,315.47 259.3,316.14 260.5,317.02 261.8,317.75 263.1,318.66 264.4,319.51 265.6,320.41 266.9,321.03 268.2,321.64 269.5,322.31 270.7,322.86 272.0,323.40 273.3,323.92 274.6,324.43 275.8,324.77 277.1,325.06 278.4,325.52 279.7,326.03 280.9,326.29 282.2,326.74 283.5,326.90 284.8,327.24 286.0,327.45 287.3,327.84 288.6,328.16 289.9,328.25 291.1,328.61 292.4,328.55 293.7,328.83 295.0,328.82 296.2,328.98 297.5,329.31 298.8,329.28 300.1,329.42 301.3,329.64 302.6,329.72 303.9,329.70 305.2,329.84 306.4,329.86 307.7,330.00 309.0,330.02 310.3,329.96 311.5,330.05 312.8,330.23 314.1,330.15 315.4,330.29 316.6,330.34 317.9,330.46 319.2,330.42 320.5,330.47 321.7,330.56 323.0,330.62 324.3,330.49 325.6,330.42 326.8,330.42 328.1,330.37 329.4,330.43 330.7,330.48 331.9,330.42 333.2,330.40 334.5,330.32" fill="none" stroke="#77AC30" stroke-width="1.4" stroke-opacity="0.8" stroke-linejoin="round"/>
<polyline points="28.4,333.03 29.7,332.99 31.0,333.11 32.2,333.18 33.5,333.02 34.8,333.08 36.1,333.18 37.3,333.17 38.6,333.26 39.9,333.12 41.2,333.20 42.4,333.19 43.7,333.18 45.0,333.29 46.3,333.18 47.5,333.15 48.8,333.17 50.1,332.97 51.4,332.96 52.6,332.84 53.9,332.99 55.2,333.03 56.5,332.84 57.7,332.86 59.0,332.86 60.3,332.68 61.6,332.76 62.8,332.68 64.1,332.60 65.4,332.56 66.7,332.44 67.9,332.47 69.2,332.46 70.5,332.30 71.8,332.15 73.0,332.03 74.3,332.09 75.6,331.76 76.9,331.71 78.1,331.40 79.4,331.25 80.7,331.20 82.0,330.96 83.2,330.87 84.5,330.75 85.8,330.42 87.1,330.23 88.3,329.87 89.6,329.63 90.9,329.24 92.2,328.91 93.4,328.56 94.7,328.25 96.0,327.73 97.3,327.27 98.5,326.96 99.8,326.41 101.1,325.85 102.4,325.28 103.6,324.68 104.9,324.13 106.2,323.55 107.5,322.54 108.8,321.95 110.0,321.31 111.3,320.50 112.6,319.88 113.9,318.96 115.1,318.10 116.4,317.07 117.7,316.10 119.0,315.26 120.2,314.43 121.5,313.38 122.8,312.45 124.1,311.39 125.3,310.08 126.6,309.06 127.9,307.90 129.2,306.97 130.4,305.40 131.7,304.05 133.0,302.92 134.3,301.78 135.5,300.62 136.8,299.31 138.1,298.05 139.4,296.45 140.6,295.43 141.9,294.36 143.2,293.10 144.5,291.78 145.7,290.33 147.0,289.14 148.3,288.37 149.6,286.76 150.8,285.53 152.1,284.04 153.4,282.96 154.7,282.05 155.9,280.59 157.2,279.93 158.5,278.77 159.8,277.94 161.0,276.75 162.3,276.18 163.6,275.04 164.9,274.40 166.1,273.61 167.4,272.70 168.7,272.46 170.0,271.52 171.2,270.99 172.5,270.86 173.8,270.24 175.1,269.57 176.3,269.38 177.6,269.43 178.9,269.19 180.2,268.70 181.5,268.48 182.7,268.50 184.0,268.64 185.3,268.71 186.6,268.70 187.8,268.68 189.1,268.99 190.4,269.02 191.7,269.40 192.9,269.54 194.2,270.05 195.5,270.68 196.8,271.05 198.0,271.60 199.3,272.12 200.6,273.14 201.9,273.44 203.1,274.14 204.4,274.86 205.7,275.75 207.0,276.71 208.2,277.34 209.5,278.27 210.8,279.31 212.1,280.70 213.3,281.97 214.6,282.86 215.9,284.06 217.2,284.76 218.4,286.18 219.7,287.41 221.0,288.38 222.3,290.12 223.5,291.59 224.8,292.50 226.1,293.80 227.4,295.11 228.6,296.38 229.9,297.43 231.2,298.90 232.5,300.18 233.7,301.36 235.0,302.59 236.3,303.68 237.6,305.14 238.8,306.02 240.1,307.56 241.4,308.78 242.7,309.85 243.9,310.93 245.2,311.80 246.5,312.84 247.8,314.03 249.0,315.13 250.3,315.95 251.6,316.82 252.9,317.90 254.1,318.99 255.4,319.76 256.7,320.35 258.0,321.11 259.3,321.86 260.5,322.60 261.8,323.35 263.1,323.98 264.4,324.47 265.6,325.05 266.9,325.62 268.2,326.29 269.5,326.76 270.7,327.27 272.0,327.62 273.3,328.00 274.6,328.53 275.8,328.80 277.1,329.15 278.4,329.42 279.7,329.80 280.9,330.21 282.2,330.38 283.5,330.53 284.8,330.77 286.0,330.99 287.3,331.17 288.6,331.40 289.9,331.54 291.1,331.69 292.4,331.76 293.7,331.99 295.0,332.04 296.2,332.20 297.5,332.35 298.8,332.40 300.1,332.27 301.3,332.44 302.6,332.55 303.9,332.66 305.2,332.60 306.4,332.75 307.7,332.82 309.0,332.83 310.3,332.85 311.5,332.90 312.8,333.07 314.1,332.90 315.4,333.12 316.6,333.15 317.9,333.13 319.2,333.06 320.5,333.00 321.7,333.20 323.0,333.21 324.3,333.15 325.6,333.13 326.8,333.21 328.1,333.17 329.4,333.15 330.7,333.12 331.9,333.07 333.2,333.09 334.5,333.14" fill="none" stroke="#4DBEEE" stroke-width="1.4" stroke-opacity="0.8" stroke-linejoin="round"/>
<polyline points="28.4,335.44 29.7,335.39 31.0,335.36 32.2,335.59 33.5,335.63 34.8,335.53 36.1,335.57 37.3,335.52 38.6,335.54 39.9,335.40 41.2,335.52 42.4,335.34 43.7,335.36 45.0,335.35 46.3,335.42 47.5,335.53 48.8,335.51 50.1,335.53 51.4,335.50 52.6,335.44 53.9,335.38 55.2,335.41 56.5,335.30 57.7,335.23 59.0,335.26 60.3,335.22 61.6,335.22 62.8,335.28 64.1,335.26 65.4,335.04 66.7,335.01 67.9,334.98 69.2,334.89 70.5,334.89 71.8,334.74 73.0,334.62 74.3,334.58 75.6,334.50 76.9,334.46 78.1,334.34 79.4,334.09 80.7,334.01 82.0,333.88 83.2,333.72 84.5,333.66 85.8,333.25 87.1,333.18 88.3,332.98 89.6,332.71 90.9,332.52 92.2,332.21 93.4,331.96 94.7,331.61 96.0,331.36 97.3,330.88 98.5,330.55 99.8,330.01 101.1,329.56 102.4,329.15 103.6,328.86 104.9,328.45 106.2,327.85 107.5,327.35 108.8,326.71 110.0,325.90 111.3,325.22 112.6,324.59 113.9,324.05 115.1,323.53 116.4,322.85 117.7,321.98 119.0,321.08 120.2,320.18 121.5,319.26 122.8,318.52 124.1,317.86 125.3,316.87 126.6,315.86 127.9,314.67 129.2,313.64 130.4,313.00 131.7,311.88 133.0,310.97 134.3,309.66 135.5,308.66 136.8,307.64 138.1,306.63 139.4,305.66 140.6,304.20 141.9,303.20 143.2,302.25 144.5,301.16 145.7,300.35 147.0,299.14 148.3,297.82 149.6,296.84 150.8,295.68 152.1,294.67 153.4,294.51 154.7,293.47 155.9,291.97 157.2,290.66 158.5,290.14 159.8,289.12 161.0,288.10 162.3,287.31 163.6,286.83 164.9,285.88 166.1,285.70 167.4,285.21 168.7,285.08 170.0,284.17 171.2,283.35 172.5,282.48 173.8,282.59 175.1,282.00 176.3,282.06 177.6,281.67 178.9,281.65 180.2,281.21 181.5,281.28 182.7,281.37 184.0,280.91 185.3,281.37 186.6,281.38 187.8,281.27 189.1,281.11 190.4,281.59 191.7,282.22 192.9,282.20 194.2,283.20 195.5,283.66 196.8,283.52 198.0,283.76 199.3,284.22 200.6,285.08 201.9,285.27 203.1,285.91 204.4,286.50 205.7,287.42 207.0,287.93 208.2,288.69 209.5,289.94 210.8,290.70 212.1,291.62 213.3,292.60 214.6,293.79 215.9,294.93 217.2,295.77 218.4,296.40 219.7,297.63 221.0,298.82 222.3,299.88 223.5,301.07 224.8,302.26 226.1,303.05 227.4,304.30 228.6,305.45 229.9,306.39 231.2,307.65 232.5,308.73 233.7,309.75 235.0,310.53 236.3,311.62 237.6,312.47 238.8,313.40 240.1,314.14 241.4,315.31 242.7,316.13 243.9,317.15 245.2,318.18 246.5,318.97 247.8,319.88 249.0,320.84 250.3,321.46 251.6,322.28 252.9,322.87 254.1,323.84 255.4,324.63 256.7,325.57 258.0,325.97 259.3,326.49 260.5,327.27 261.8,327.67 263.1,328.26 264.4,328.76 265.6,329.14 266.9,329.68 268.2,330.04 269.5,330.43 270.7,330.80 272.0,331.04 273.3,331.36 274.6,331.65 275.8,332.04 277.1,332.36 278.4,332.55 279.7,332.79 280.9,332.97 282.2,333.26 283.5,333.50 284.8,333.54 286.0,333.74 287.3,333.90 288.6,333.94 289.9,334.28 291.1,334.27 292.4,334.40 293.7,334.51 295.0,334.55 296.2,334.65 297.5,334.74 298.8,334.81 300.1,334.84 301.3,334.95 302.6,335.21 303.9,335.13 305.2,335.02 306.4,335.15 307.7,335.32 309.0,335.34 310.3,335.34 311.5,335.42 312.8,335.46 314.1,335.33 315.4,335.47 316.6,335.45 317.9,335.52 319.2,335.53 320.5,335.32 321.7,335.33 323.0,335.33 324.3,335.47 325.6,335.51 326.8,335.55 328.1,335.55 329.4,335.52 330.7,335.55 331.9,335.56 333.2,335.53 334.5,335.54" fill="none" stroke="#A2142F" stroke-width="1.4" stroke-opacity="0.8" stroke-linejoin="round"/>
<polyline points="28.4,335.34 29.7,335.26 31.0,335.56 32.2,335.35 33.5,335.32 34.8,335.34 36.1,335.33 37.3,335.24 38.6,335.35 39.9,335.23 41.2,335.17 42.4,335.24 43.7,335.33 45.0,335.32 46.3,335.20 47.5,335.16 48.8,335.27 50.1,335.35 51.4,335.20 52.6,335.20 53.9,335.20 55.2,335.15 56.5,335.10 57.7,335.10 59.0,334.97 60.3,335.03 61.6,334.94 62.8,335.04 64.1,334.91 65.4,334.98 66.7,334.75 67.9,334.67 69.2,334.80 70.5,334.69 71.8,334.51 73.0,334.40 74.3,334.46 75.6,334.36 76.9,334.24 78.1,334.17 79.4,334.03 80.7,333.89 82.0,333.81 83.2,333.69 84.5,333.48 85.8,333.29 87.1,333.18 88.3,333.08 89.6,332.65 90.9,332.46 92.2,332.31 93.4,331.88 94.7,331.60 96.0,331.32 97.3,330.87 98.5,330.44 99.8,330.15 101.1,329.87 102.4,329.29 103.6,328.88 104.9,328.44 106.2,328.00 107.5,327.32 108.8,326.68 110.0,326.31 111.3,325.63 112.6,324.90 113.9,324.18 115.1,323.50 116.4,322.85 117.7,322.06 119.0,321.29 120.2,320.40 121.5,319.76 122.8,318.96 124.1,317.93 125.3,316.94 126.6,316.02 127.9,315.12 129.2,314.37 130.4,313.13 131.7,312.11 133.0,311.18 134.3,310.15 135.5,309.35 136.8,308.16 138.1,306.96 139.4,305.59 140.6,304.63 141.9,303.42 143.2,302.38 144.5,301.36 145.7,300.44 147.0,299.10 148.3,297.78 149.6,297.16 150.8,296.49 152.1,295.05 153.4,294.01 154.7,292.65 155.9,291.77 157.2,290.30 158.5,289.87 159.8,288.93 161.0,288.32 162.3,287.49 163.6,286.85 164.9,286.52 166.1,285.53 167.4,284.77 168.7,283.91 170.0,283.54 171.2,283.19 172.5,283.08 173.8,283.17 175.1,282.20 176.3,281.91 177.6,281.84 178.9,281.67 180.2,281.37 181.5,280.75 182.7,281.10 184.0,280.32 185.3,280.75 186.6,280.98 187.8,281.26 189.1,281.70 190.4,281.47 191.7,281.42 192.9,281.56 194.2,281.92 195.5,282.45 196.8,282.92 198.0,283.55 199.3,283.43 200.6,284.38 201.9,285.24 203.1,285.96 204.4,286.30 205.7,287.20 207.0,288.07 208.2,288.90 209.5,289.60 210.8,290.55 212.1,291.16 213.3,292.04 214.6,293.09 215.9,294.21 217.2,295.58 218.4,296.64 219.7,297.38 221.0,298.37 222.3,299.57 223.5,300.71 224.8,301.75 226.1,303.04 227.4,304.43 228.6,305.39 229.9,306.72 231.2,307.71 232.5,308.66 233.7,309.51 235.0,310.60 236.3,311.95 237.6,312.79 238.8,313.82 240.1,314.83 241.4,316.12 242.7,316.77 243.9,317.73 245.2,318.72 246.5,319.48 247.8,320.37 249.0,321.32 250.3,321.96 251.6,322.78 252.9,323.56 254.1,324.34 255.4,325.09 256.7,325.88 258.0,326.24 259.3,326.87 260.5,327.28 261.8,327.67 263.1,328.29 264.4,328.91 265.6,329.38 266.9,329.59 268.2,329.91 269.5,330.42 270.7,330.79 272.0,331.19 273.3,331.55 274.6,331.83 275.8,332.08 277.1,332.51 278.4,332.61 279.7,332.98 280.9,333.20 282.2,333.31 283.5,333.51 284.8,333.63 286.0,333.80 287.3,333.77 288.6,333.92 289.9,334.13 291.1,334.31 292.4,334.41 293.7,334.37 295.0,334.56 296.2,334.38 297.5,334.42 298.8,334.55 300.1,334.68 301.3,334.84 302.6,334.90 303.9,334.90 305.2,334.99 306.4,335.00 307.7,335.02 309.0,335.12 310.3,335.20 311.5,335.17 312.8,335.20 314.1,335.23 315.4,335.10 316.6,335.07 317.9,335.16 319.2,335.09 320.5,335.22 321.7,335.27 323.0,335.31 324.3,335.27 325.6,335.23 326.8,335.28 328.1,335.25 329.4,335.30 330.7,335.17 331.9,335.32 333.2,335.31 334.5,335.32" fill="none" stroke="#0072BD" stroke-width="1.4" stroke-opacity="0.8" stroke-linejoin="round"/>
<polyline points="28.4,336.72 29.7,336.84 31.0,336.75 32.2,336.76 33.5,336.68 34.8,336.60 36.1,336.65 37.3,336.74 38.6,336.78 39.9,336.85 41.2,336.84 42.4,336.96 43.7,336.91 45.0,336.93 46.3,336.77 47.5,336.69 48.8,336.63 50.1,336.64 51.4,336.74 52.6,336.73 53.9,336.79 55.2,336.77 56.5,336.71 57.7,336.63 59.0,336.68 60.3,336.65 61.6,336.71 62.8,336.69 64.1,336.52 65.4,336.50 66.7,336.56 67.9,336.51 69.2,336.50 70.5,336.48 71.8,336.39 73.0,336.29 74.3,336.38 75.6,335.90 76.9,335.83 78.1,335.89 79.4,335.85 80.7,335.98 82.0,335.79 83.2,335.75 84.5,335.33 85.8,335.14 87.1,335.23 88.3,335.08 89.6,334.84 90.9,334.58 92.2,334.55 93.4,334.26 94.7,333.90 96.0,333.65 97.3,333.40 98.5,333.10 99.8,332.70 101.1,332.38 102.4,332.02 103.6,331.70 104.9,331.40 106.2,331.05 107.5,330.50 108.8,330.02 110.0,329.51 111.3,329.13 112.6,328.52 113.9,328.11 115.1,327.51 116.4,326.66 117.7,325.89 119.0,325.42 120.2,324.75 121.5,323.96 122.8,323.46 124.1,322.31 125.3,321.56 126.6,320.61 127.9,319.99 129.2,319.26 130.4,318.26 131.7,317.36 133.0,316.23 134.3,315.44 135.5,314.35 136.8,313.70 138.1,312.79 139.4,311.94 140.6,310.94 141.9,309.95 143.2,309.43 144.5,308.03 145.7,307.34 147.0,306.16 148.3,305.41 149.6,304.85 150.8,303.58 152.1,302.49 153.4,301.15 154.7,300.53 155.9,299.61 157.2,298.79 158.5,298.37 159.8,297.54 161.0,296.90 162.3,296.15 163.6,295.09 164.9,294.67 166.1,293.82 167.4,293.55 168.7,292.87 170.0,292.45 171.2,292.34 172.5,291.94 173.8,291.80 175.1,290.75 176.3,290.95 177.6,290.74 178.9,290.87 180.2,290.47 181.5,290.38 182.7,290.29 184.0,290.15 185.3,290.31 186.6,290.53 187.8,290.43 189.1,290.68 190.4,290.46 191.7,290.67 192.9,290.81 194.2,291.22 195.5,291.46 196.8,292.15 198.0,292.77 199.3,292.88 200.6,293.24 201.9,293.72 203.1,294.34 204.4,295.32 205.7,295.82 207.0,296.38 208.2,296.89 209.5,298.08 210.8,298.62 212.1,299.24 213.3,300.31 214.6,301.54 215.9,302.12 217.2,303.21 218.4,303.98 219.7,304.72 221.0,305.69 222.3,306.67 223.5,307.53 224.8,308.44 226.1,309.35 227.4,310.67 228.6,311.61 229.9,312.76 231.2,313.77 232.5,314.64 233.7,315.24 235.0,316.13 236.3,316.90 237.6,317.79 238.8,318.89 240.1,319.86 241.4,320.50 242.7,321.47 243.9,322.27 245.2,322.97 246.5,323.68 247.8,324.43 249.0,325.15 250.3,325.77 251.6,326.42 252.9,327.05 254.1,327.69 255.4,328.15 256.7,328.69 258.0,329.32 259.3,329.82 260.5,330.25 261.8,330.68 263.1,331.11 264.4,331.56 265.6,332.10 266.9,332.45 268.2,332.75 269.5,333.07 270.7,333.26 272.0,333.45 273.3,333.86 274.6,334.02 275.8,334.22 277.1,334.37 278.4,334.59 279.7,334.93 280.9,335.11 282.2,335.27 283.5,335.37 284.8,335.42 286.0,335.52 287.3,335.82 288.6,335.93 289.9,336.02 291.1,336.05 292.4,336.08 293.7,336.22 295.0,336.08 296.2,336.16 297.5,336.20 298.8,336.25 300.1,336.27 301.3,336.25 302.6,336.50 303.9,336.66 305.2,336.48 306.4,336.58 307.7,336.66 309.0,336.64 310.3,336.73 311.5,336.71 312.8,336.80 314.1,336.77 315.4,336.69 316.6,336.69 317.9,336.61 319.2,336.68 320.5,336.61 321.7,336.62 323.0,336.72 324.3,336.65 325.6,336.79 326.8,336.84 328.1,336.81 329.4,336.63 330.7,336.72 331.9,336.77 333.2,336.89 334.5,336.99" fill="none" stroke="#D95319" stroke-width="1.4" stroke-opacity="0.8" stroke-linejoin="round"/>
<polyline points="28.4,335.63 29.7,335.41 31.0,335.50 32.2,335.56 33.5,335.67 34.8,335.66 36.1,335.65 37.3,335.55 38.6,335.60 39.9,335.58 41.2,335.56 42.4,335.56 43.7,335.69 45.0,335.68 46.3,335.66 47.5,335.62 48.8,335.59 50.1,335.47 51.4,335.48 52.6,335.47 53.9,335.57 55.2,335.56 56.5,335.53 57.7,335.54 59.0,335.71 60.3,335.60 61.6,335.51 62.8,335.43 64.1,335.37 65.4,335.34 66.7,335.22 67.9,335.18 69.2,335.35 70.5,335.19 71.8,335.20 73.0,335.05 74.3,335.04 75.6,335.02 76.9,334.89 78.1,334.89 79.4,334.64 80.7,334.52 82.0,334.44 83.2,334.47 84.5,334.23 85.8,334.13 87.1,333.95 88.3,333.71 89.6,333.61 90.9,333.32 92.2,333.22 93.4,333.07 94.7,332.62 96.0,332.23 97.3,332.09 98.5,331.78 99.8,331.50 101.1,331.26 102.4,330.92 103.6,330.65 104.9,330.45 106.2,329.83 107.5,329.28 108.8,328.97 110.0,328.35 111.3,327.59 112.6,327.01 113.9,326.51 115.1,326.16 116.4,325.50 117.7,324.80 119.0,324.38 120.2,323.63 121.5,322.82 122.8,321.93 124.1,321.09 125.3,320.53 126.6,319.54 127.9,318.60 129.2,317.50 130.4,316.71 131.7,316.12 133.0,314.68 134.3,313.55 135.5,312.76 136.8,311.88 138.1,311.22 139.4,310.11 140.6,309.36 141.9,308.08 143.2,307.03 144.5,305.83 145.7,304.79 147.0,303.65 148.3,302.67 149.6,301.53 150.8,300.94 152.1,299.92 153.4,298.69 154.7,297.95 155.9,297.26 157.2,296.30 158.5,294.79 159.8,294.65 161.0,293.48 162.3,292.76 163.6,292.04 164.9,291.96 166.1,291.25 167.4,290.50 168.7,289.61 170.0,289.21 171.2,288.35 172.5,288.24 173.8,288.06 175.1,287.94 176.3,287.71 177.6,287.49 178.9,287.57 180.2,287.28 181.5,287.29 182.7,287.04 184.0,286.96 185.3,287.14 186.6,286.77 187.8,287.24 189.1,287.44 190.4,287.20 191.7,287.21 192.9,287.40 194.2,287.56 195.5,287.71 196.8,288.44 198.0,289.53 199.3,289.66 200.6,290.39 201.9,290.99 203.1,291.59 204.4,292.51 205.7,292.40 207.0,292.92 208.2,293.89 209.5,294.98 210.8,295.83 212.1,297.07 213.3,298.11 214.6,299.00 215.9,299.74 217.2,300.39 218.4,301.17 219.7,302.59 221.0,303.46 222.3,304.68 223.5,305.78 224.8,306.79 226.1,307.81 227.4,308.61 228.6,309.90 229.9,310.70 231.2,311.50 232.5,312.64 233.7,313.72 235.0,314.66 236.3,315.54 237.6,316.42 238.8,317.57 240.1,318.33 241.4,319.09 242.7,320.06 243.9,320.74 245.2,321.58 246.5,322.31 247.8,322.98 249.0,323.78 250.3,324.52 251.6,325.20 252.9,325.69 254.1,326.43 255.4,326.91 256.7,327.71 258.0,328.21 259.3,328.54 260.5,329.27 261.8,329.56 263.1,330.19 264.4,330.54 265.6,330.76 266.9,330.96 268.2,331.42 269.5,331.92 270.7,332.15 272.0,332.44 273.3,332.71 274.6,332.84 275.8,333.13 277.1,333.34 278.4,333.55 279.7,333.71 280.9,333.98 282.2,334.11 283.5,334.23 284.8,334.30 286.0,334.43 287.3,334.52 288.6,334.68 289.9,334.76 291.1,334.80 292.4,334.82 293.7,334.90 295.0,334.94 296.2,335.04 297.5,335.02 298.8,335.21 300.1,335.16 301.3,335.15 302.6,335.22 303.9,335.27 305.2,335.50 306.4,335.49 307.7,335.46 309.0,335.46 310.3,335.48 311.5,335.50 312.8,335.60 314.1,335.60 315.4,335.54 316.6,335.49 317.9,335.47 319.2,335.60 320.5,335.54 321.7,335.60 323.0,335.65 324.3,335.47 325.6,335.59 326.8,335.49 328.1,335.70 329.4,335.67 330.7,335.64 331.9,335.56 333.2,335.51 334.5,335.55" fill="none" stroke="#EDB120" stroke-width="1.4" stroke-opacity="0.8" stroke-linejoin="round"/>
<g>
<text x="25.9" y="348.70" class="t" text-anchor="end">0</text>
<text x="25.9" y="320.92" class="t" text-anchor="end">500</text>
<text x="25.9" y="293.13" class="t" text-anchor="end">1000</text>
<text x="25.9" y="265.35" class="t" text-anchor="end">1500</text>
<text x="25.9" y="237.57" class="t" text-anchor="end">2000</text>
<text x="25.9" y="209.78" class="t" text-anchor="end">2500</text>
<text x="25.9" y="182.00" class="t" text-anchor="end">3000</text>
<text x="28.40" y="355.0" class="t" text-anchor="middle">04:14:55</text>
<text x="89.62" y="355.0" class="t" text-anchor="middle">04:16:43</text>
<text x="150.84" y="355.0" class="t" text-anchor="middle">04:18:30</text>
<text x="212.06" y="355.0" class="t" text-anchor="middle">04:20:18</text>
<text x="273.28" y="355.0" class="t" text-anchor="middle">04:22:06</text>
<text x="334.50" y="355.0" class="t" text-anchor="middle">04:23:53</text>
<text x="25.9" y="7.50" class="t" text-anchor="end">40</text>
<text x="25.9" y="40.70" class="t" text-anchor="end">39</text>
<text x="25.9" y="73.90" class="t" text-anchor="end">38</text>
<text x="25.9" y="107.10" class="t" text-anchor="end">37</text>
<text x="25.9" y="140.30" class="t" text-anchor="end">36</text>
<text x="25.9" y="173.50" class="t" text-anchor="end">35</text>
<rect x="293.3" y="180.3" width="39.7" height="84.7" fill="#fff" class="ax"/>
<path d="M294.2 184.50H300.4" stroke="#0072BD" stroke-width="1.3" stroke-opacity="0.85"/>
<text x="300.9" y="187.95" class="lg">35.25GHz</text>
<path d="M294.2 192.50H300.4" stroke="#D95319" stroke-width="1.3" stroke-opacity="0.85"/>
<text x="300.9" y="196.40" class="lg">35.75GHz</text>
<path d="M294.2 201.50H300.4" stroke="#EDB120" stroke-width="1.3" stroke-opacity="0.85"/>
<text x="300.9" y="204.85" class="lg">36.25GHz</text>
<path d="M294.2 209.50H300.4" stroke="#7E2F8E" stroke-width="1.3" stroke-opacity="0.85"/>
<text x="300.9" y="213.30" class="lg">36.75GHz</text>
<path d="M294.2 218.50H300.4" stroke="#77AC30" stroke-width="1.3" stroke-opacity="0.85"/>
<text x="300.9" y="221.75" class="lg">37.25GHz</text>
<path d="M294.2 226.50H300.4" stroke="#4DBEEE" stroke-width="1.3" stroke-opacity="0.85"/>
<text x="300.9" y="230.20" class="lg">37.75GHz</text>
<path d="M294.2 235.50H300.4" stroke="#A2142F" stroke-width="1.3" stroke-opacity="0.85"/>
<text x="300.9" y="238.65" class="lg">38.25GHz</text>
<path d="M294.2 243.50H300.4" stroke="#0072BD" stroke-width="1.3" stroke-opacity="0.85"/>
<text x="300.9" y="247.10" class="lg">38.75GHz</text>
<path d="M294.2 252.50H300.4" stroke="#D95319" stroke-width="1.3" stroke-opacity="0.85"/>
<text x="300.9" y="255.55" class="lg">39.25GHz</text>
<path d="M294.2 260.50H300.4" stroke="#EDB120" stroke-width="1.3" stroke-opacity="0.85"/>
<text x="300.9" y="264.00" class="lg">39.75GHz</text>
<text class="lab" transform="translate(15.8,87.3) rotate(-90)" text-anchor="middle">Frequency (GHz)</text>
<text class="lab" transform="translate(7.9,261.9) rotate(-90)" text-anchor="middle">Power ( Arbitrary Unit )</text>
<text class="lab" x="181.5" y="364.6" text-anchor="middle">Time ( UT, 2021-07-18 )</text>
</g>
</svg>
</body></html>
